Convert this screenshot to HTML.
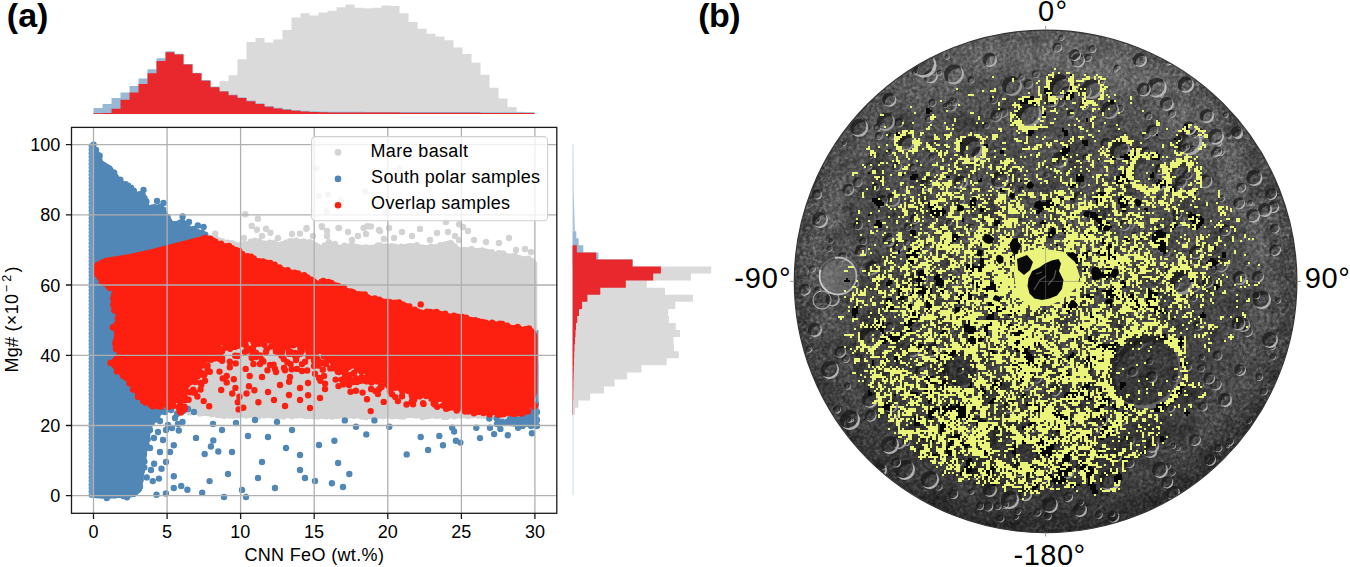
<!DOCTYPE html>
<html><head><meta charset="utf-8"><style>
html,body{margin:0;padding:0;background:#fff;width:1350px;height:567px;overflow:hidden}
svg{display:block}
text{font-family:"Liberation Sans",sans-serif}
</style></head><body>
<svg width="1350" height="567" viewBox="0 0 1350 567">
<rect width="1350" height="567" fill="#fff"/>
<path d="M219.5 114L219.5 81.1L228.5 81.1L228.5 75.2L237.5 75.2L237.5 59.3L246.5 59.3L246.5 41.9L255.5 41.9L255.5 38.1L264.5 38.1L264.5 42.4L273.5 42.4L273.5 39.6L282.5 39.6L282.5 30.1L291.5 30.1L291.5 17.4L300.5 17.4L300.5 13.3L309.5 13.3L309.5 15.6L318.5 15.6L318.5 12.4L327.5 12.4L327.5 10.7L336.5 10.7L336.5 7.3L345.5 7.3L345.5 4.4L354.5 4.4L354.5 7.8L363.5 7.8L363.5 8.3L372.5 8.3L372.5 7.8L381.5 7.8L381.5 5.4L390.5 5.4L390.5 6L399.5 6L399.5 13.3L408.5 13.3L408.5 22L417.5 22L417.5 28.8L426.5 28.8L426.5 33.7L435.5 33.7L435.5 36.6L444.5 36.6L444.5 40.2L453.5 40.2L453.5 47.6L462.5 47.6L462.5 54L471.5 54L471.5 62.8L480.5 62.8L480.5 74.7L489.5 74.7L489.5 87.8L498.5 87.8L498.5 98.4L507.5 98.4L507.5 106.9L516.5 106.9L516.5 111.7L525.5 111.7L525.5 113.2L534.5 113.2L534.5 114Z" fill="#dadada"/>
<path d="M93.5 114L93.5 108.1L102.5 108.1L102.5 103.9L111.5 103.9L111.5 98.1L120.5 98.1L120.5 92.6L129.5 92.6L129.5 86L138.5 86L138.5 78.4L147.5 78.4L147.5 69.3L156.5 69.3L156.5 58.3L165.5 58.3L165.5 51.3L174.5 51.3L174.5 53.7L183.5 53.7L183.5 64L192.5 64L192.5 72.7L201.5 72.7L201.5 80.1L210.5 80.1L210.5 86.6L219.5 86.6L219.5 90.9L228.5 90.9L228.5 94.5L237.5 94.5L237.5 97.3L246.5 97.3L246.5 100.5L255.5 100.5L255.5 103.3L264.5 103.3L264.5 106.1L273.5 106.1L273.5 107.7L282.5 107.7L282.5 109L291.5 109L291.5 110L300.5 110L300.5 110.7L309.5 110.7L309.5 111.2L318.5 111.2L318.5 111.5L327.5 111.5L327.5 111.7L336.5 111.7L336.5 111.8L345.5 111.8L345.5 111.8L354.5 111.8L354.5 111.8L363.5 111.8L363.5 111.9L372.5 111.9L372.5 111.9L381.5 111.9L381.5 111.9L390.5 111.9L390.5 111.9L399.5 111.9L399.5 112L408.5 112L408.5 112L417.5 112L417.5 112L426.5 112L426.5 112L435.5 112L435.5 112L444.5 112L444.5 112.1L453.5 112.1L453.5 112.1L462.5 112.1L462.5 112.1L471.5 112.1L471.5 112.1L480.5 112.1L480.5 112.2L489.5 112.2L489.5 112.2L498.5 112.2L498.5 112.2L507.5 112.2L507.5 112.2L516.5 112.2L516.5 112.3L525.5 112.3L525.5 112.3L534.5 112.3L534.5 114Z" fill="#97b9d6"/>
<path d="M93.5 114L93.5 113.3L102.5 113.3L102.5 112.9L111.5 112.9L111.5 108.8L120.5 108.8L120.5 99.7L129.5 99.7L129.5 92.6L138.5 92.6L138.5 84.1L147.5 84.1L147.5 73.3L156.5 73.3L156.5 60.9L165.5 60.9L165.5 52.3L174.5 52.3L174.5 54.5L183.5 54.5L183.5 64.4L192.5 64.4L192.5 73.2L201.5 73.2L201.5 80.8L210.5 80.8L210.5 87.3L219.5 87.3L219.5 91.6L228.5 91.6L228.5 95.2L237.5 95.2L237.5 98L246.5 98L246.5 101.2L255.5 101.2L255.5 104L264.5 104L264.5 106.8L273.5 106.8L273.5 108.4L282.5 108.4L282.5 109.7L291.5 109.7L291.5 110.7L300.5 110.7L300.5 111.4L309.5 111.4L309.5 111.9L318.5 111.9L318.5 112.2L327.5 112.2L327.5 112.4L336.5 112.4L336.5 112.5L345.5 112.5L345.5 112.5L354.5 112.5L354.5 112.5L363.5 112.5L363.5 112.6L372.5 112.6L372.5 112.6L381.5 112.6L381.5 112.6L390.5 112.6L390.5 112.6L399.5 112.6L399.5 112.7L408.5 112.7L408.5 112.7L417.5 112.7L417.5 112.7L426.5 112.7L426.5 112.7L435.5 112.7L435.5 112.8L444.5 112.8L444.5 112.8L453.5 112.8L453.5 112.8L462.5 112.8L462.5 112.8L471.5 112.8L471.5 112.8L480.5 112.8L480.5 112.9L489.5 112.9L489.5 112.9L498.5 112.9L498.5 112.9L507.5 112.9L507.5 112.9L516.5 112.9L516.5 113L525.5 113L525.5 113L534.5 113L534.5 114Z" fill="#e8282c"/>
<path d="M572.6 266.5L711.2 266.5L711.2 273.6L690.9 273.6L690.9 280.6L646.8 280.6L646.8 287.7L665 287.7L665 294.7L692.9 294.7L692.9 301.8L675.3 301.8L675.3 308.9L668.2 308.9L668.2 315.9L668.9 315.9L668.9 323L675.8 323L675.8 330L680 330L680 337.1L673.5 337.1L673.5 344.2L674 344.2L674 351.2L678.8 351.2L678.8 358.3L666.6 358.3L666.6 365.3L641.4 365.3L641.4 372.4L627 372.4L627 379.5L614.6 379.5L614.6 386.5L604 386.5L604 393.6L590.2 393.6L590.2 400.6L578.3 400.6L578.3 407.7L574.9 407.7L574.9 414.8L572.6 414.8Z" fill="#dadada"/>
<path d="M572.6 144.2L573.3 144.2L573.6 190L574.4 215L575 231.2L572.6 231.2Z" fill="#a9c6df"/>
<rect x="572.6" y="231.2" width="0.9" height="264" fill="#c9dbea"/>
<path d="M572.6 231.2L576.3 231.2L576.3 238.3L578.6 238.3L578.6 245.3L583.3 245.3L583.3 252.4L598.5 252.4L598.5 259.4L633 259.4L633 266.5L572.6 266.5Z" fill="#97b9d6"/>
<path d="M572.6 231.2L572.6 231.2L572.6 238.3L572.6 238.3L572.6 245.3L576.8 245.3L576.8 252.4L596.2 252.4L596.2 259.4L632.4 259.4L632.4 266.5L660.9 266.5L660.9 273.6L653.2 273.6L653.2 280.6L625.8 280.6L625.8 287.7L600.3 287.7L600.3 294.7L587.4 294.7L587.4 301.8L582.1 301.8L582.1 308.9L579 308.9L579 315.9L577.2 315.9L577.2 323L576 323L576 330L575.5 330L575.5 337.1L575 337.1L575 344.2L574.5 344.2L574.5 351.2L574.2 351.2L574.2 358.3L574 358.3L574 365.3L573.8 365.3L573.8 372.4L573.6 372.4L573.6 379.5L573.4 379.5L573.4 386.5L573.3 386.5L573.3 393.6L573.2 393.6L573.2 400.6L573 400.6L573 407.7L573 407.7L573 414.8L572.6 414.8Z" fill="#e8282c"/>
<path d="M170 246L200 240L215 236L234.6 243.3L248.2 241.4L254 237.5L263.7 240.4L281.1 242.4L288.9 238.5L298.6 239.4L310.2 239.4L321.9 245.3L329.6 240.4L340 245L352 243L365 245.5L380 244L395 245L410 243.5L425 245L440 244.4L451.5 242.1L462.9 249L474.4 247.8L485.9 250.1L501.9 252.4L518 254.7L527.2 257L534 258.2L537.3 263L537.3 300L537.3 350L537.3 414L530 418L500 418.5L470 418L440 418.5L410 418L380 418.5L350 418L320 418.5L290 418L260 418L230 417.5L205 416L190 414L175 412L165 408L160 380L150 330L140 290L150 262Z" fill="#d3d3d3"/>
<path d="M171 247h0M175.4 245.9h0M179.1 246h0M181.8 245.9h0M185.5 244.9h0M189.1 243.2h0M194.1 244.4h0M196.8 242h0M202.3 243h0M205.5 240.5h0M209.9 238.2h0M213.6 238h0M215 237.1h0M218.5 240.7h0M222.4 241.4h0M227.6 242.6h0M231.7 243.2h0M234.9 244.6h0M241.3 244.4h0M244.9 244.3h0M250.7 241.7h0M255.5 240.9h0M258.9 241.5h0M264.7 243.9h0M269.8 242.7h0M274.8 242.7h0M277.5 245h0M282.4 244.2h0M286.3 242.8h0M290.9 241.1h0M296.1 240.8h0M300.2 241.9h0M303.8 241.5h0M308.3 242.9h0M310.1 242.4h0M313 243.9h0M317.9 247.4h0M324.6 245.4h0M328.1 244.6h0M328.8 242.3h0M334.9 243.9h0M340.6 247.9h0M344.5 245.7h0M349.5 246.8h0M351.8 245.1h0M357.1 247.4h0M362.2 248.3h0M366 247.4h0M371.4 248.2h0M378 245.4h0M380.4 245.4h0M385.6 246.5h0M391.7 246.3h0M395.2 246.9h0M401.3 246.8h0M408.1 246.5h0M411.3 246.2h0M416.9 245.1h0M422.4 247.8h0M427.7 248h0M431.3 246.6h0M435.4 247.2h0M440.3 245.3h0M444.5 244.7h0M448.6 243.6h0M450.9 243.1h0M454.6 246.1h0M457.4 249.6h0M464.4 250h0M467.5 250.3h0M471.5 249.2h0M475.6 251.8h0M478.9 250.9h0M482.1 250.4h0M486.5 251.7h0M491.7 252.1h0M493.4 254.8h0M499 253.1h0M503.1 253.4h0M506.7 256.8h0M511.6 256.6h0M514.4 256h0M517.7 257.7h0M523.3 259.2h0M528.3 258.6h0M532.6 262.6h0M316.4 168.4h0M399.6 168.9h0M318.9 195.9h0M327.9 194.4h0M365.5 191.5h0M326.6 211.3h0M385.7 212.7h0M340.5 200.1h0M306.7 228h0M321.8 226.2h0M338.5 228h0M363.6 228h0M367.4 226.2h0M379 230h0M459 224.2h0M245.3 214.2h0M257.9 218.7h0M251.7 225.9h0M256.9 229.8h0M266 228.8h0M270.5 232.7h0M300 233.6h0M306.3 228.8h0M321.9 226.8h0M215.2 233.6h0M244 238h0M262 236h0M278 238h0M292 234h0M322 227h0M339 228h0M348 232h0M358 236h0M352 240h0M366 234h0M371 226.5h0M380 231h0M389 228h0M394 238h0M402 232h0M412 236h0M420 229h0M430 240h0M437 233h0M448 232h0M455 236h0M468 231h0M474 240h0M486 242h0M499 243h0M509 238h0M516 250h0M525 249h0M531 252h0M327 236h0M384 239h0M459 240h0M463 227h0M446 222h0M327 231h0M313 236h0" stroke="#d3d3d3" stroke-width="6.4" stroke-linecap="round" fill="none"/>
<path d="M534.1 412.6h0M530.6 414.6h0M529.4 415.8h0M524.8 416.8h0M521.3 416.4h0M516.4 415.6h0M510.4 416.2h0M506.1 415.2h0M501.8 416.5h0M499.5 416.8h0M495.2 416.8h0M489.9 415.3h0M485 416.1h0M481.2 415.4h0M478.4 415.6h0M472 415.3h0M468 415.9h0M465.2 415.3h0M460.5 415.4h0M454.6 416.3h0M451.8 415.2h0M446.7 416.8h0M443.9 416.9h0M437.7 415.6h0M435.4 415.6h0M428.9 415.8h0M426.3 416h0M422.5 417h0M416.1 415.6h0M413 415h0M408.8 415.1h0M403.6 416.5h0M400.8 416.4h0M396.5 415.9h0M392.2 416.3h0M388.2 415.3h0M383.3 416.3h0M378.6 415.5h0M374.7 415.4h0M370.2 416.1h0M365.8 417h0M361.8 416.6h0M358.6 415.3h0M353.9 415.9h0M348.1 415.7h0M344.8 415.8h0M340 415.4h0M336.8 415.9h0M332.2 416.5h0M326.5 416.2h0M322.8 415.7h0M317.7 416.4h0M314.2 416.2h0M310.2 415.8h0M306 416h0M301.7 415.1h0M296.8 415.2h0M291.9 416.3h0M288.6 414.9h0M283.6 416.5h0M281.1 415.9h0M277 416.3h0M272.7 415.5h0M266.6 415h0M263.9 415.4h0M258.3 416.5h0M253.5 414.8h0M250.9 414.7h0M246.2 415.6h0M240.4 414.8h0M238.2 415.6h0M233 415.7h0M229.6 415.6h0M224.1 415.9h0M220.4 414.8h0M217.6 414.9h0M211.9 414.2h0M209.2 413.1h0M203.1 412.6h0M199.9 413.6h0M195.2 411.9h0M189.4 412.4h0M184.1 410.2h0M177.8 410.6h0M175.7 409h0M169.3 406.9h0" stroke="#d3d3d3" stroke-width="6.4" stroke-linecap="round" fill="none"/>
<path d="M90.6 147L92 145L93.6 144.6L96.5 149L101.2 153.7L102.9 161.1L111.7 166.4L114.9 170.6L120.2 178L125.5 182.2L131.9 186.5L137.1 191.8L143.5 193.9L146.7 200.2L149.8 205.5L157.2 204.5L163.6 206.6L168.9 215L173.1 221.4L182.6 219.7L189 225.6L197.8 229.3L203.6 230.3L208.4 236.1L211 242.5L200 300L175 380L168 404L161.5 414.4L151.6 426.8L147.9 439.1L146.7 456.4L144.2 473.7L141.7 491L135 497L120 498L100 498.5L93 498L90.8 494Z" fill="#5087b6"/>
<path d="M93.6 144.6h0M96 150h0M99.6 155.7h0M98.8 158.3h0M103 164.7h0M105.9 166.6h0M109.3 168.5h0M114.2 172.6h0M115.7 177.5h0M120.3 179.6h0M125.7 184.1h0M128.2 185.6h0M131 187.6h0M133.8 190.8h0M139.5 194.3h0M142.8 195.5h0M144.6 198.1h0M146.4 201.5h0M151.7 207.6h0M154.2 207.1h0M160.4 206.8h0M163.2 209.7h0M164.4 213.7h0M167.5 217h0M169 221.4h0M174.6 224.2h0M180.3 222.7h0M182.2 221.7h0M185.1 223.7h0M188.1 228.3h0M193.6 229h0M197.6 232.4h0M202.8 233.5h0M205.2 234.7h0M206.9 238h0M166.1 403.3h0M162.1 405.9h0M160.4 411.7h0M158 412.3h0M157.3 417.1h0M155.2 419.5h0M151.6 423.2h0M149.3 426.7h0M149.2 430.6h0M147.3 434.7h0M147.6 439.2h0M146.4 444.1h0M144.9 449.1h0M144 453.8h0M142.8 457.7h0M144.4 461.5h0M144.3 467.5h0M141.8 470.9h0M140.7 473.3h0M140.6 480h0M139.3 483.8h0M140 486.7h0M138.3 489.3h0M134.4 492.8h0M133.4 493.3h0M129.5 494.4h0M127 497.2h0M123.3 496.1h0M119.7 494.5h0M114.6 495.4h0M110.4 495.3h0M106.8 498.1h0M102 495.3h0M143.5 190h0M157 201h0M163.5 203h0M182.6 216.5h0M189 222h0M197.8 225.5h0M203.6 227h0M173.8 445.3h0M182.5 421.9h0M178.8 430.5h0M196 437.9h0M173.8 476.2h0M181.2 486h0M187.4 489.8h0M173.8 488h0M209.6 481.1h0M202.2 492.7h0M204.7 454h0M213.3 440.4h0M210.9 446.5h0M218.3 451.5h0M165.9 493.5h0M156.5 494.7h0M161.5 468.8h0M154.1 463.8h0M159 478.6h0M146.7 477.4h0M152.8 481.1h0M158 432h0M163 440h0M168 425h0M170 452h0M175 418h0M160 452h0M166 462h0M151 470h0M150 448h0M156 418h0M165 412h0M171 410h0M177 414h0M183 411h0M160 421h0M166 430h0M172 428h0M150 430h0M154 438h0M146 425h0M178 424h0M188 409h0M194 412h0M344.8 420.4h0M356 426.7h0M334.4 440.7h0M366.3 434.4h0M374.4 420.4h0M389.3 426.7h0M338.1 463h0M349.3 474h0M331.9 483.3h0M343 487h0M406.7 454.4h0M420.7 437h0M428.1 450h0M439.3 435.9h0M443 445.2h0M452.2 427.8h0M454.1 431.5h0M455.9 440.7h0M460.4 442.6h0M476.3 427.8h0M480 438.1h0M490 427.8h0M494.1 434.1h0M500.4 428.9h0M507.8 435.2h0M518.1 427.8h0M531.9 433.3h0M531.1 425.9h0M489.3 418.5h0M496.7 418.5h0M511.5 422.2h0M522.6 425.9h0M236 423h0M232 452h0M248 436h0M228 474h0M262 462h0M258 478h0M275 488h0M224 497h0M268 437h0M292 430h0M286 448h0M300 470h0M305 478h0M300 455h0M315 481h0M319 445h0M277 422h0M255 420h0M213 424h0M222 430h0M242 490h0M246 497h0M537 420h0M537 412h0M536 404h0M533 410h0M530 416h0M526 420h0M522 421h0M516 420h0M512 421h0M507 422h0M529 422h0M534 424h0M537 426h0M520 425h0M525 424h0M510 419h0M515 418h0M502 422h0M497 424h0" stroke="#5087b6" stroke-width="6.4" stroke-linecap="round" fill="none"/>
<path d="M503 422L518 417L530 411L536 400L538.3 360L538.3 426L520 427.5L504 425Z" fill="#5087b6"/><path d="M537.6 330V426" stroke="#6d9ac2" stroke-width="1.6"/>
<path d="M91.2 146h0M91.2 149.6h0M91.2 153.2h0M91.2 156.8h0M91.2 160.4h0M91.2 164h0M91.2 167.6h0M91.2 171.2h0M91.2 174.8h0M91.2 178.4h0M91.2 182h0M91.2 185.6h0M91.2 189.2h0M91.2 192.8h0M91.2 196.4h0M91.2 200h0M91.2 203.6h0M91.2 207.2h0M91.2 210.8h0M91.2 214.4h0M91.2 218h0M91.2 221.6h0M91.2 225.2h0M91.2 228.8h0M91.2 232.4h0M91.2 236h0M91.2 239.6h0M91.2 243.2h0M91.2 246.8h0M91.2 250.4h0M91.2 254h0M91.2 257.6h0M91.2 261.2h0M91.2 264.8h0M91.2 268.4h0M91.2 272h0M91.2 275.6h0M91.2 279.2h0M91.2 282.8h0M91.2 286.4h0M91.2 290h0M91.2 293.6h0M91.2 297.2h0M91.2 300.8h0M91.2 304.4h0M91.2 308h0M91.2 311.6h0M91.2 315.2h0M91.2 318.8h0M91.2 322.4h0M91.2 326h0M91.2 329.6h0M91.2 333.2h0M91.2 336.8h0M91.2 340.4h0M91.2 344h0M91.2 347.6h0M91.2 351.2h0M91.2 354.8h0M91.2 358.4h0M91.2 362h0M91.2 365.6h0M91.2 369.2h0M91.2 372.8h0M91.2 376.4h0M91.2 380h0M91.2 383.6h0M91.2 387.2h0M91.2 390.8h0M91.2 394.4h0M91.2 398h0M91.2 401.6h0M91.2 405.2h0M91.2 408.8h0M91.2 412.4h0M91.2 416h0M91.2 419.6h0M91.2 423.2h0M91.2 426.8h0M91.2 430.4h0M91.2 434h0M91.2 437.6h0M91.2 441.2h0M91.2 444.8h0M91.2 448.4h0M91.2 452h0M91.2 455.6h0M91.2 459.2h0M91.2 462.8h0M91.2 466.4h0M91.2 470h0M91.2 473.6h0M91.2 477.2h0M91.2 480.8h0M91.2 484.4h0M91.2 488h0M91.2 491.6h0M91.2 495.2h0" stroke="#6d9ac2" stroke-width="5.4" stroke-linecap="round" fill="none"/>
<path d="M93.6 265L95.5 262.5L104.7 258L129.4 254L150 249.5L204.3 235.5L209.4 237.1L219.1 241.9L228.8 243.9L238.5 248.7L242.4 252.6L257.9 258.4L273.4 262.7L287 268.5L298.6 271.4L314.1 278.2L320 281.7L323.9 279L339.4 283.7L349.1 289.5L364.6 293.4L378.2 298.2L389.8 299.2L405.3 303.1L417 309.9L436.3 310.8L440 310.9L457.2 315.5L469.8 316.7L485.9 321.2L501.9 322.4L515.7 325.8L531.7 328.1L536.3 331.6L537.3 336L537.3 370L537 393L535 400L531 406L526 412L516 415.5L502 416L486 414L470 409L452 402L437 395L415 390L393 384L378 376L352 368L335 360L322 352L306.7 348L288 344L266 341L251 339L228 342L213 350L203 362L195 376L184 391L172 401L165 405L158 409L150 406L140 400L129.4 384.8L114.6 370L108.4 363.5L117 353.6L112.1 343.7L115.8 333.8L110.9 326.4L117 319L110.9 304.2L113.3 291.9L104.7 285.7L97.3 279.5L93.6 272.1Z" fill="#fd1f10"/>
<path d="M205.2 238h0M210.3 238.6h0M213.4 240.7h0M215.4 241.7h0M221 243.6h0M225.5 246.4h0M229 245.9h0M231.9 248.1h0M235.7 249.9h0M239.3 250.9h0M242.2 254h0M247.5 256.1h0M251.2 256.8h0M253.7 258.4h0M258.8 261.2h0M262.9 261.4h0M266.3 262.7h0M270.3 263h0M274.7 264.7h0M277.6 267.8h0M279.5 267.4h0M284 270.6h0M287.7 270.2h0M290.6 272.6h0M294.7 272.7h0M298.1 273.4h0M304.2 275.1h0M307.4 277.5h0M311.3 279.7h0M313.4 281.2h0M321.6 281.6h0M323.3 280.9h0M328.4 282h0M331.5 283h0M335.4 285.4h0M338.1 285.9h0M343.7 287.5h0M346.4 290.8h0M350.8 291.5h0M353.4 292.4h0M358.6 294.2h0M361.1 294.4h0M364.9 294.5h0M367.3 297.3h0M371 298.9h0M374.8 298.5h0M379.3 299.6h0M382.7 301.7h0M387.7 301.8h0M390.5 302.5h0M395.3 302.8h0M399 302.5h0M402.7 304.4h0M405.9 306.2h0M409.4 306.5h0M414.7 309.8h0M418 311.6h0M421.4 312.7h0M426.9 311.8h0M430 312h0M433.6 312.4h0M436.6 312h0M439.8 313.9h0M445.2 313.7h0M450.1 316.9h0M453.8 315.8h0M457.6 316.6h0M462.2 317h0M466.1 317.8h0M470.4 319.9h0M475.2 320.1h0M478.3 321.2h0M482.4 321.9h0M485.9 322.7h0M492.1 322.8h0M494.9 324.2h0M499.9 323.6h0M502.3 323.9h0M507.2 325.6h0M513.1 328.1h0M517.7 326.9h0M519.4 328.9h0M525.6 329.2h0M529 328.5h0M530.9 331.3h0M526.7 404.9h0M526.3 410.1h0M525.6 411.6h0M520.6 410.6h0M516.4 411.9h0M514.5 412h0M511.5 413.2h0M508.8 412.1h0M504.9 411.6h0M500.6 414.6h0M497.8 414.5h0M492.9 411.6h0M489.7 414.4h0M485.8 411.2h0M482.3 412h0M478.4 411.9h0M476.4 408.9h0M472.2 406.6h0M468.8 406.3h0M466.2 406.5h0M461.9 402.4h0M458.5 404.7h0M455.6 400.1h0M451.7 400.8h0M449.6 396.1h0M445.5 399.1h0M443.2 395.9h0M439.1 395.2h0M436 391.3h0M432.4 393.2h0M427.8 391.6h0M424.4 391.3h0M422.6 388.1h0M419 386.3h0M414.1 389.1h0M411.3 387.1h0M407.4 383.3h0M404.1 385.3h0M401.1 381.5h0M396.3 385h0M393.7 382.5h0M390.3 377.9h0M387.9 376h0M383 377.1h0M382.7 373.6h0M376.5 375.7h0M373.9 373.1h0M371.2 372.5h0M367.8 373.2h0M364.9 370.4h0M360 370.1h0M356.8 368.7h0M355.7 365.1h0M351.1 365.5h0M349.4 364.5h0M346.3 360.6h0M342.1 361.6h0M336.5 360.9h0M336.2 356.3h0M330.2 357.2h0M328.4 355.9h0M324 352.1h0M321.3 347.5h0M317.7 349.8h0M312.9 346.7h0M310.8 345.7h0M306.2 346.8h0M303.7 343.8h0M297.8 343.2h0M293.3 345.3h0M291.6 342.7h0M286.5 339.3h0M283.6 342.4h0M280 340.7h0M275 341.6h0M272 338.4h0M268.3 337.7h0M264.8 339.5h0M261.7 338.9h0M256.8 339.7h0M254.8 336h0M250.5 339h0M247.3 337h0M243.2 335.4h0M238.8 335.9h0M237.3 340.7h0M234.1 339h0M229.6 339.8h0M226.7 340.7h0M222.4 341.5h0M218.8 342.4h0M217.7 347.2h0M213.9 348.2h0M210.9 350h0M208.9 353.9h0M206.9 355.9h0M202.1 356.6h0M201.1 362.6h0M196.5 364h0M197.6 369.6h0M193.5 372.7h0M193.5 377.7h0M189.1 377.6h0M186 381h0M187.4 384.4h0M185.5 387.8h0M180.6 390.4h0M178.3 393.7h0M175.2 395.8h0M172.2 396.1h0M169.9 401.9h0M165.9 401.3h0M163.8 403.9h0M160.8 406.5h0M158.3 406.2h0M152.7 406.2h0M150.7 404.8h0M145.6 402.6h0M143.1 401h0M141 397.2h0M138 396.7h0M137.3 391.8h0M133 389.6h0M133.9 385.7h0M129.6 383.4h0M129.6 378.7h0M125.8 377.6h0M122.7 375.6h0M121.6 370.3h0M117 371.4h0M110.6 362.9h0M113.8 362.4h0M117.2 358.1h0M119.6 351.3h0M116 348.9h0M115.8 345.9h0M115.8 343.6h0M115.8 341.1h0M116.9 337.1h0M116.9 332.6h0M115.5 327h0M112.8 327.5h0M118.2 323.2h0M117.8 318.2h0M118 311.8h0M114.3 310.2h0M113.3 305.1h0M113.8 302.5h0M113.3 298.3h0M114.2 294.3h0M114.5 288.8h0M109.7 287.8h0M108.3 286h0M104.7 283.3h0M101.7 281.3h0M99.5 276.4h0M97.5 274.6h0M197.3 371h0M193.3 376.8h0M203.7 375.2h0M207.6 369.7h0M201.3 384.8h0M200.5 389.5h0M203.7 401.1h0M209.2 406.2h0M184.6 390.3h0M188.6 399.8h0M184.6 407h0M194.9 392.7h0M219.5 371.6h0M222.7 378.4h0M226.7 376h0M226.7 382.4h0M233.8 379.2h0M235.4 387.9h0M232.2 393.5h0M239.4 396.7h0M237.8 402.2h0M238.6 409.4h0M243.3 407.8h0M245.7 368.9h0M249.7 376h0M248.9 386.3h0M254.4 390.3h0M246.5 393.5h0M258.4 402.2h0M229.8 367.3h0M335.6 379.6h0M343 384.4h0M350 380h0M357 382h0M355.9 390.7h0M362.6 392.6h0M367 399.3h0M370.7 411.1h0M383.7 401.9h0M379.3 388.9h0M394.8 387.8h0M402 386h0M415.2 393.7h0M420.7 304.4h0M443 405.6h0M452.2 407.4h0M337 367h0M348 366h0M339 372h0M333 361h0M262 360h0M270 365h0M276 372h0M284 368h0M290 377h0M296 360h0M302 371h0M308 383h0M314 366h0M319 378h0M325 389h0M326 364h0M280 385h0M268 392h0M274 400h0M289 395h0M300 400h0M310 408h0M262 377h0M256 357h0M315 355h0M282 352h0M295 353h0M245 352h0M238 356h0M222 358h0M212 356h0M200 360h0M190 368h0M180 380h0M176 394h0M170 402h0M300 388h0M285 406h0M320 398h0M360.1 380.9h0M427.2 394.3h0M515.8 413.5h0M521.1 413h0M453 403.9h0M520.3 413.4h0M300.4 348.8h0M436.3 395.1h0M175.6 400h0M240 338.5h0M409.9 391.2h0M402.2 387.7h0M363.9 370.5h0M434.8 400.8h0M444.6 398.2h0M302 364.1h0M289 351.8h0M445.8 401.4h0M333.4 367h0M353.6 382h0M245.7 345.2h0M358.5 369h0M476.2 409.1h0M365.5 370.7h0M460.2 405.4h0M237.2 342.1h0M170.7 399.7h0M180.3 394.2h0M257.5 355.8h0M260 338.8h0M282.3 347.7h0M223.8 348.6h0M447.7 408.2h0M230.1 348.8h0M444.1 399.8h0M260.2 355.5h0M307.2 370.5h0M206.3 357.1h0M267.4 370.3h0M316.8 361.1h0M180.9 399.6h0M190.1 392.3h0M263.4 361.5h0M246.4 351h0M346.2 382.1h0M450.6 400.3h0M235.7 363.4h0M262.4 343.2h0M213.8 356.4h0M393.4 384.3h0M453.9 404.5h0M207.6 365.8h0M528.1 411.2h0M465.3 411.6h0M208.3 359.2h0M220.8 356.9h0M266.7 349.5h0M343.2 362h0M405 389.4h0M200.6 382.9h0M337.8 371.7h0M194.1 392.7h0M308.2 350.9h0M204.4 365.4h0M395.3 397.1h0M212.8 355.3h0M430 391.6h0M173.6 405.7h0M413.1 404.2h0M218.6 348.1h0M432.4 393.4h0M308.8 347.9h0M314.8 350.9h0M332.6 362.1h0M282.6 346.8h0M434.2 393.1h0M463.9 405.1h0M246.5 350.6h0M209.8 371.7h0M245.2 342.9h0M179.9 395.2h0M381.9 378.7h0M397.8 387.3h0M236.8 342.8h0M285.6 344.2h0M427.8 394.8h0M217 351.8h0M279.8 342.2h0M466.8 408.9h0M349.8 374.9h0M466.1 409.2h0M195.2 382h0M219.8 359.1h0M317.7 351h0M171.3 403.9h0M393.9 386.1h0M301.1 345.8h0M251.8 358h0M350.8 365.8h0M390.3 388.7h0M377.4 381.4h0M190 382.2h0M283.8 359.1h0M450.9 402.6h0M374.8 373.4h0M271.1 346.6h0M371.1 389h0M225.1 347.1h0M201.9 373.3h0M334.4 357.6h0M423.5 403.9h0M318.4 365.5h0M287.6 347.8h0M310.3 347.3h0M247.1 338.1h0M221.2 390h0M346.1 365.8h0M515.1 413.6h0M277.3 348.3h0M526.9 409.3h0M315 373.7h0M182.3 407.8h0M377.3 378.5h0M520.7 413.2h0M380.8 380.3h0M322.8 369.8h0M255.8 352.7h0M381.1 386.4h0M180.2 404.8h0M456.7 410.5h0M288.8 342.8h0M366.7 381.4h0M232.2 346.3h0M451.9 400.1h0M291.7 369.2h0M287.7 347.2h0M411.7 395.1h0M402 396.3h0M408.5 391h0M459.7 403.8h0M450.7 402.9h0M368.6 373h0M234.2 340h0M344.4 378.8h0M280.8 344.9h0M202.1 365.2h0M405.9 385.7h0M531.8 404.2h0M249.7 349h0M285 370.2h0M292.7 353.5h0M371.5 382.4h0M431.5 398.7h0M503.8 414h0M377.9 394.1h0M450.3 402.2h0M322.6 362.9h0M337.2 368.6h0M342.8 366.7h0M350.5 391.7h0M306.1 346.8h0M205 380.7h0M386.4 382.1h0M274.5 346.7h0M412.5 390.8h0M273.6 364.7h0M339.5 365.4h0M320 362.4h0M290.4 343.1h0M385.8 383.1h0M367 377.3h0M193.2 389.6h0M254.3 344.8h0M348.7 367.1h0M420.6 389.7h0M449.7 407.2h0M320.4 380.8h0M435.2 402.2h0M327.7 360h0M275 369h0M252.9 347.9h0M499.9 413.9h0M273.8 341.3h0M467.2 408.9h0M229.8 361.7h0M308.5 356.2h0M394.2 386.6h0M428.8 391.8h0M457.4 409.1h0M446.1 408.8h0M195.9 372.6h0M419.9 396.2h0M375.5 378.1h0M375.4 391.1h0M474.6 410.5h0M293.5 343.7h0M525 410.8h0M243 344h0M250.5 337.4h0M459.5 405.8h0M466.2 406h0M236.8 341.3h0M382.8 378.8h0M298.3 344.2h0M281.5 355.8h0M348.1 364.9h0M314 360.6h0M198.4 371.2h0M402.4 391.6h0M359.1 368.6h0M301.7 350.9h0M454.3 401.6h0M439.6 398.8h0M246.1 339.5h0M222.1 360.8h0M525.2 410.9h0M428.3 391.3h0M422.9 392.9h0M406.5 404.5h0M238.7 338.8h0M324 356.5h0M197.6 376.4h0M349 385.1h0M201.9 373.1h0M361.8 377.3h0M260 364h0M450.6 403.2h0M348.1 366.5h0M244.5 338.5h0M457.5 403.8h0M438.8 395h0M421.6 391.1h0M179.4 393.5h0M184.4 393h0M454.2 404.2h0M336.9 364.9h0M179.8 396.4h0M425.5 390.4h0M275.8 349.9h0M467.4 410.5h0M338.5 386.1h0M290.3 351.8h0M315.7 355.8h0M456.6 408.2h0M412.2 396.4h0M325.1 383.6h0M289.1 381.7h0M439.9 398.7h0M515.2 413.6h0M474 413.2h0M411.7 401.8h0M426.2 396.1h0M305.1 361.7h0M217.4 350h0M238.6 342.7h0M203.4 360.5h0M405.9 389.6h0M373.7 380.3h0M433.4 395.3h0M238 345.7h0M184.6 409.2h0M308.1 395.3h0M465.9 407.6h0M473 409h0M450 407.6h0M253.4 364h0M244.4 344.1h0M359.2 368.9h0M370.3 378h0M297 368.9h0M194.1 391.9h0M422.5 391h0M324.7 352.3h0M401.2 389.1h0M521.6 413.5h0M341.4 367.3h0M185.2 397.6h0M290.6 364.1h0M235.2 355.8h0M365.6 381h0M371.6 375.1h0M388.9 385.8h0M468 407h0M378.9 377.3h0M266.3 339.7h0M237.2 343.2h0M446.9 403.3h0M217.4 345.9h0M265.6 339.9h0M266 352h0M198.5 371h0M426.1 392.9h0M324 375.9h0M179.5 411.1h0M463.8 410.1h0M264.4 344.8h0M288.5 344.4h0M418.7 396.3h0M477.1 411h0M310.9 349.9h0M434.7 404.6h0M288.6 344.3h0M401.5 385.4h0M513.7 413.9h0M180.9 412.5h0M439.4 396.7h0M534.8 405.8h0M321.7 351h0M534.7 405.8h0M211 359.8h0M184.8 400.2h0M413.1 390h0M193 380.2h0M392.5 386.4h0M361.4 371.6h0M269.8 340.5h0M354 372.9h0M341.6 379.6h0M300.8 351.9h0M523.9 412.2h0M181.4 396.8h0M340.3 368.2h0M344.9 373.7h0M531.1 404.5h0M464.5 410.7h0M253.2 351.6h0M474.1 412.3h0M358.1 369.4h0M245 342.1h0M168.2 407h0M387.9 385h0M414.7 391.2h0M392 394.3h0M397.9 401.1h0M253.5 342.2h0M251.7 356.2h0M445.1 404h0M414.1 399.7h0M416.8 388.9h0M533.8 406.4h0M451 404.8h0M473.1 411.5h0M389.9 390.9h0M326.7 353.6h0M215.3 358.2h0M467 411.3h0M345.9 369.2h0M387.6 381.4h0M416.4 390h0M259.2 338.3h0M317.6 359.1h0M252 350.4h0M423.4 390.3h0M199.5 367.2h0M278.5 352.4h0M389.1 386.6h0M426.9 395.4h0M522.3 411.4h0M374.2 375.7h0M342.9 369.7h0M466.9 407.5h0M318.1 360.6h0M433.7 403.4h0M222 351.2h0M259 343.7h0M417.7 395.2h0M423.1 403.2h0M178.9 407.8h0M381.6 387h0M204.5 374.5h0M405.7 388.9h0M437.2 406.7h0M470.6 410.1h0M197.4 396.5h0M390.1 391.6h0M388.6 380.5h0M395.4 386.2h0M300.4 353.8h0M330.3 368.4h0M169.1 406.8h0M397.5 386.7h0M241.4 342.8h0M226.3 346.8h0M414.2 392.4h0M401.9 385.8h0M275.9 351.4h0M294.9 355.4h0M275.2 344.8h0M430.6 393.9h0M355.8 378.1h0M230.4 343.4h0M310.7 355.8h0M296.9 356h0M234.7 346.9h0M468.6 411.5h0M289.2 353.9h0M466.4 408.7h0M366.4 370.5h0M488.6 413.1h0M287.3 362.3h0M333.8 368.2h0M483.4 413h0M447.6 399.9h0M465.6 407.2h0M399.2 387.7h0" stroke="#fd1f10" stroke-width="6.4" stroke-linecap="round" fill="none"/>
<path d="M93.5 127.4V513.3M167.1 127.4V513.3M240.6 127.4V513.3M314.2 127.4V513.3M387.8 127.4V513.3M461.4 127.4V513.3M534.9 127.4V513.3M71.5 495.7H556.8M71.5 425.5H556.8M71.5 355.3H556.8M71.5 285H556.8M71.5 214.8H556.8M71.5 144.6H556.8" stroke="#b0b0b0" stroke-width="1.3" fill="none"/>
<rect x="71.5" y="127.4" width="485.3" height="385.9" fill="none" stroke="#1a1a1a" stroke-width="1.3"/>
<path d="M93.5 513.3V518.9M167.1 513.3V518.9M240.6 513.3V518.9M314.2 513.3V518.9M387.8 513.3V518.9M461.4 513.3V518.9M534.9 513.3V518.9M71.5 495.7H65.9M71.5 425.5H65.9M71.5 355.3H65.9M71.5 285H65.9M71.5 214.8H65.9M71.5 144.6H65.9" stroke="#1a1a1a" stroke-width="1.3" fill="none"/>
<text x="88.4" y="537.6" font-size="18" fill="#000">0</text>
<text x="162.1" y="537.6" font-size="18" fill="#000">5</text>
<text x="230.3" y="537.6" font-size="18" fill="#000">10</text>
<text x="303.9" y="537.6" font-size="18" fill="#000">15</text>
<text x="377.7" y="537.6" font-size="18" fill="#000">20</text>
<text x="451.3" y="537.6" font-size="18" fill="#000">25</text>
<text x="524.9" y="537.6" font-size="18" fill="#000">30</text>
<text x="50.3" y="502.3" font-size="18" fill="#000">0</text>
<text x="40.3" y="432.1" font-size="18" fill="#000">20</text>
<text x="40.3" y="361.9" font-size="18" fill="#000">40</text>
<text x="40.3" y="291.6" font-size="18" fill="#000">60</text>
<text x="40.3" y="221.4" font-size="18" fill="#000">80</text>
<text x="30.3" y="151.2" font-size="18" fill="#000">100</text>
<text x="244.4" y="561.1" font-size="18" textLength="139.5" lengthAdjust="spacing" fill="#000" >CNN FeO (wt.%)</text>

<defs>
<clipPath id="mc"><circle cx="1045.6" cy="281.4" r="251.3"/></clipPath>
<filter id="tx" x="0" y="0" width="100%" height="100%"><feTurbulence type="fractalNoise" baseFrequency="0.3" numOctaves="2" seed="4"/><feColorMatrix type="matrix" values="0 0 0 0 1  0 0 0 0 1  0 0 0 0 1  1.5 0 0 0 -0.6"/></filter>
<filter id="tx2" x="0" y="0" width="100%" height="100%"><feTurbulence type="fractalNoise" baseFrequency="0.28" numOctaves="2" seed="9"/><feColorMatrix type="matrix" values="0 0 0 0 0  0 0 0 0 0  0 0 0 0 0  1.5 0 0 0 -0.6"/></filter>
<radialGradient id="mg" cx="1045.6" cy="281.4" r="251.3" gradientUnits="userSpaceOnUse"><stop offset="0" stop-color="#686868"/><stop offset="0.88" stop-color="#646464"/><stop offset="1" stop-color="#454545"/></radialGradient>
<linearGradient id="mv" x1="0" y1="30" x2="0" y2="533" gradientUnits="userSpaceOnUse"><stop offset="0" stop-color="#fff" stop-opacity="0.12"/><stop offset="0.42" stop-color="#000" stop-opacity="0"/><stop offset="1" stop-color="#000" stop-opacity="0.4"/></linearGradient>
<filter id="bl" x="-10%" y="-10%" width="120%" height="120%"><feGaussianBlur stdDeviation="12"/></filter>
<filter id="tx3" x="0" y="0" width="100%" height="100%"><feTurbulence type="fractalNoise" baseFrequency="0.045" numOctaves="3" seed="12"/><feColorMatrix type="matrix" values="0 0 0 0 0  0 0 0 0 0  0 0 0 0 0  2.2 0 0 0 -0.95"/></filter>
</defs>
<g clip-path="url(#mc)">
<circle cx="1045.6" cy="281.4" r="251.3" fill="url(#mg)"/>
<rect x="794" y="30" width="504" height="504" filter="url(#tx)" opacity="0.5"/>
<rect x="794" y="30" width="504" height="504" filter="url(#tx2)" opacity="0.6"/>
<rect x="794" y="30" width="504" height="504" filter="url(#tx3)" opacity="0.35"/>
<rect x="794" y="30" width="504" height="504" fill="url(#mv)"/>
<path fill="#181818" opacity="0.7" d="M854.9 135.7A9 9 0 1 1 867.1 123.5A9 9 0 0 0 854.9 135.7ZM881.6 129.8A9 9 0 1 1 893.8 117.6A9 9 0 0 0 881.6 129.8ZM902.8 149.6A8 8 0 1 1 913.6 138.8A8 8 0 0 0 902.8 149.6ZM949.2 83.2A10 10 0 1 1 962.8 69.6A10 10 0 0 0 949.2 83.2ZM918.7 76.1A12 12 0 1 1 934.9 59.9A12 12 0 0 0 918.7 76.1ZM948.1 110.9A6 6 0 1 1 956.3 102.7A6 6 0 0 0 948.1 110.9ZM1022.5 125.8A13 13 0 1 1 1040.1 108.2A13 13 0 0 0 1022.5 125.8ZM1054.1 96.8A12 12 0 1 1 1070.3 80.6A12 12 0 0 0 1054.1 96.8ZM965.3 159A12 12 0 1 1 981.5 142.8A12 12 0 0 0 965.3 159ZM1087.2 97.8A10 10 0 1 1 1100.8 84.2A10 10 0 0 0 1087.2 97.8ZM1007.2 94.8A10 10 0 1 1 1020.8 81.2A10 10 0 0 0 1007.2 94.8ZM986.7 66.1A7 7 0 1 1 996.1 56.7A7 7 0 0 0 986.7 66.1ZM1072.1 60.3A6 6 0 1 1 1080.3 52.1A6 6 0 0 0 1072.1 60.3ZM1105.7 117.9A9 9 0 1 1 1117.9 105.7A9 9 0 0 0 1105.7 117.9ZM1115.2 158.8A10 10 0 1 1 1128.8 145.2A10 10 0 0 0 1115.2 158.8ZM995.7 187.9A9 9 0 1 1 1007.9 175.7A9 9 0 0 0 995.7 187.9ZM1056.2 167A8 8 0 1 1 1067 156.2A8 8 0 0 0 1056.2 167ZM1151.9 96.6A10 10 0 1 1 1165.5 83A10 10 0 0 0 1151.9 96.6ZM1182.2 91.8A8 8 0 1 1 1193 81A8 8 0 0 0 1182.2 91.8ZM1212.2 143.7A8 8 0 1 1 1223 132.9A8 8 0 0 0 1212.2 143.7ZM1203.7 122.1A7 7 0 1 1 1213.1 112.7A7 7 0 0 0 1203.7 122.1ZM1250.6 185A8 8 0 1 1 1261.4 174.2A8 8 0 0 0 1250.6 185ZM1233.8 137.3A6 6 0 1 1 1242 129.1A6 6 0 0 0 1233.8 137.3ZM1182.8 154A13 13 0 1 1 1200.4 136.4A13 13 0 0 0 1182.8 154ZM1136.7 66.1A7 7 0 1 1 1146.1 56.7A7 7 0 0 0 1136.7 66.1ZM1167.6 64.4A5 5 0 1 1 1174.4 57.6A5 5 0 0 0 1167.6 64.4ZM1227.6 104.4A5 5 0 1 1 1234.4 97.6A5 5 0 0 0 1227.6 104.4ZM1261.7 216.1A7 7 0 1 1 1271.1 206.7A7 7 0 0 0 1261.7 216.1ZM1272.1 255.3A6 6 0 1 1 1280.3 247.1A6 6 0 0 0 1272.1 255.3ZM1257.7 307.9A9 9 0 1 1 1269.9 295.7A9 9 0 0 0 1257.7 307.9ZM1266.2 347A8 8 0 1 1 1277 336.2A8 8 0 0 0 1266.2 347ZM1237.1 375.3A6 6 0 1 1 1245.3 367.1A6 6 0 0 0 1237.1 375.3ZM1221.7 406.1A7 7 0 1 1 1231.1 396.7A7 7 0 0 0 1221.7 406.1ZM865.3 347.5A12 12 0 1 1 881.5 331.3A12 12 0 0 0 865.3 347.5ZM816.2 227A8 8 0 1 1 827 216.2A8 8 0 0 0 816.2 227ZM811.7 336.1A7 7 0 1 1 821.1 326.7A7 7 0 0 0 811.7 336.1ZM825.7 377.9A9 9 0 1 1 837.9 365.7A9 9 0 0 0 825.7 377.9ZM845.2 428.8A10 10 0 1 1 858.8 415.2A10 10 0 0 0 845.2 428.8ZM866.2 407A8 8 0 1 1 877 396.2A8 8 0 0 0 866.2 407ZM885.7 452.9A9 9 0 1 1 897.9 440.7A9 9 0 0 0 885.7 452.9ZM900.2 478.8A10 10 0 1 1 913.8 465.2A10 10 0 0 0 900.2 478.8ZM925.7 487.9A9 9 0 1 1 937.9 475.7A9 9 0 0 0 925.7 487.9ZM876.7 476.1A7 7 0 1 1 886.1 466.7A7 7 0 0 0 876.7 476.1ZM1176.2 292.9A12 12 0 1 1 1192.4 276.7A12 12 0 0 0 1176.2 292.9ZM1046.2 512A8 8 0 1 1 1057 501.2A8 8 0 0 0 1046.2 512ZM1005.7 507.9A9 9 0 1 1 1017.9 495.7A9 9 0 0 0 1005.7 507.9ZM986.7 496.1A7 7 0 1 1 996.1 486.7A7 7 0 0 0 986.7 496.1ZM1076.7 516.1A7 7 0 1 1 1086.1 506.7A7 7 0 0 0 1076.7 516.1ZM1104.7 489.7A11 11 0 1 1 1119.7 474.7A11 11 0 0 0 1104.7 489.7ZM1016.7 476.1A7 7 0 1 1 1026.1 466.7A7 7 0 0 0 1016.7 476.1ZM1156.2 477A8 8 0 1 1 1167 466.2A8 8 0 0 0 1156.2 477ZM1192.1 445.3A6 6 0 1 1 1200.3 437.1A6 6 0 0 0 1192.1 445.3ZM1207.1 465.3A6 6 0 1 1 1215.3 457.1A6 6 0 0 0 1207.1 465.3ZM1096.2 427A8 8 0 1 1 1107 416.2A8 8 0 0 0 1096.2 427ZM1052.3 395.7A6 6 0 1 1 1060.5 387.6A6 6 0 0 0 1052.3 395.7ZM939.2 297.6A2.5 2.5 0 1 1 942.6 294.2A2.5 2.5 0 0 0 939.2 297.6ZM850.3 421.7A2.5 2.5 0 1 1 853.7 418.3A2.5 2.5 0 0 0 850.3 421.7ZM1076.9 471.2A4 4 0 1 1 1082.3 465.8A4 4 0 0 0 1076.9 471.2ZM1086 61.4A4 4 0 1 1 1091.4 56A4 4 0 0 0 1086 61.4ZM1096.8 518.3A4 4 0 1 1 1102.2 512.8A4 4 0 0 0 1096.8 518.3ZM1084.3 161.2A4 4 0 1 1 1089.7 155.8A4 4 0 0 0 1084.3 161.2ZM985.9 510.9A5 5 0 1 1 992.7 504.1A5 5 0 0 0 985.9 510.9ZM1212.9 389.8A6 6 0 1 1 1221.1 381.7A6 6 0 0 0 1212.9 389.8ZM915.5 282.8A7 7 0 1 1 925 273.3A7 7 0 0 0 915.5 282.8ZM998.5 521.9A4 4 0 1 1 1003.9 516.5A4 4 0 0 0 998.5 521.9ZM1193 291.7A4 4 0 1 1 1198.5 286.3A4 4 0 0 0 1193 291.7ZM1149.7 135.6A6 6 0 1 1 1157.8 127.5A6 6 0 0 0 1149.7 135.6ZM910.2 356.2A7 7 0 1 1 919.7 346.7A7 7 0 0 0 910.2 356.2ZM1124.7 412.5A2.5 2.5 0 1 1 1128.1 409.1A2.5 2.5 0 0 0 1124.7 412.5ZM1199.2 371.8A4 4 0 1 1 1204.6 366.4A4 4 0 0 0 1199.2 371.8ZM839.9 261.6A5 5 0 1 1 846.7 254.8A5 5 0 0 0 839.9 261.6ZM1171.7 448.6A3 3 0 1 1 1175.8 444.5A3 3 0 0 0 1171.7 448.6ZM929.5 356.4A7 7 0 1 1 939 346.9A7 7 0 0 0 929.5 356.4ZM1016.7 444.4A5 5 0 1 1 1023.5 437.6A5 5 0 0 0 1016.7 444.4ZM956 187.6A5 5 0 1 1 962.8 180.8A5 5 0 0 0 956 187.6ZM1123 343.3A4 4 0 1 1 1128.4 337.9A4 4 0 0 0 1123 343.3ZM1010.1 477.7A4 4 0 1 1 1015.5 472.3A4 4 0 0 0 1010.1 477.7ZM1216.5 451.6A4 4 0 1 1 1221.9 446.2A4 4 0 0 0 1216.5 451.6ZM954.1 307.7A3 3 0 1 1 958.2 303.7A3 3 0 0 0 954.1 307.7ZM1235.6 138.3A5 5 0 1 1 1242.4 131.5A5 5 0 0 0 1235.6 138.3ZM1191.9 301.5A3.5 3.5 0 1 1 1196.7 296.7A3.5 3.5 0 0 0 1191.9 301.5ZM1071 116.3A3 3 0 1 1 1075.1 112.2A3 3 0 0 0 1071 116.3ZM1007.3 412.5A7 7 0 1 1 1016.8 403A7 7 0 0 0 1007.3 412.5ZM1007 421.2A3.5 3.5 0 1 1 1011.7 416.4A3.5 3.5 0 0 0 1007 421.2ZM1004 355.7A2.5 2.5 0 1 1 1007.4 352.3A2.5 2.5 0 0 0 1004 355.7ZM887.3 331.3A5 5 0 1 1 894.1 324.5A5 5 0 0 0 887.3 331.3ZM1236.4 284.1A7 7 0 1 1 1245.9 274.6A7 7 0 0 0 1236.4 284.1ZM1214.6 265.2A4 4 0 1 1 1220.1 259.8A4 4 0 0 0 1214.6 265.2ZM1118.5 349.1A3.5 3.5 0 1 1 1123.2 344.3A3.5 3.5 0 0 0 1118.5 349.1ZM842.9 145.6A2.5 2.5 0 1 1 846.3 142.3A2.5 2.5 0 0 0 842.9 145.6ZM855.6 229.7A5 5 0 1 1 862.4 222.9A5 5 0 0 0 855.6 229.7ZM1157.8 283.2A4 4 0 1 1 1163.3 277.8A4 4 0 0 0 1157.8 283.2ZM1069 117.1A4 4 0 1 1 1074.4 111.7A4 4 0 0 0 1069 117.1ZM904.1 306.2A6 6 0 1 1 912.2 298A6 6 0 0 0 904.1 306.2ZM907 294.4A7 7 0 1 1 916.5 284.9A7 7 0 0 0 907 294.4ZM1045.8 519.8A4 4 0 1 1 1051.2 514.4A4 4 0 0 0 1045.8 519.8ZM953.9 285.7A4 4 0 1 1 959.4 280.3A4 4 0 0 0 953.9 285.7ZM1039.7 472.5A4 4 0 1 1 1045.1 467.1A4 4 0 0 0 1039.7 472.5ZM918.4 357.3A5 5 0 1 1 925.2 350.6A5 5 0 0 0 918.4 357.3ZM1271.2 359.8A3 3 0 1 1 1275.3 355.8A3 3 0 0 0 1271.2 359.8ZM1212.8 273.6A2.5 2.5 0 1 1 1216.2 270.2A2.5 2.5 0 0 0 1212.8 273.6ZM936.9 288.7A4 4 0 1 1 942.3 283.3A4 4 0 0 0 936.9 288.7ZM1219.7 201.7A3.5 3.5 0 1 1 1224.5 196.9A3.5 3.5 0 0 0 1219.7 201.7ZM936.6 462A5 5 0 1 1 943.4 455.2A5 5 0 0 0 936.6 462ZM1118.1 112.3A4 4 0 1 1 1123.6 106.9A4 4 0 0 0 1118.1 112.3ZM954.1 429.3A7 7 0 1 1 963.6 419.8A7 7 0 0 0 954.1 429.3ZM1261.8 395A4 4 0 1 1 1267.2 389.5A4 4 0 0 0 1261.8 395ZM1270.8 349.7A3.5 3.5 0 1 1 1275.5 344.9A3.5 3.5 0 0 0 1270.8 349.7ZM1059.7 139.1A2.5 2.5 0 1 1 1063.1 135.7A2.5 2.5 0 0 0 1059.7 139.1ZM1186.1 134.5A7 7 0 1 1 1195.6 125A7 7 0 0 0 1186.1 134.5ZM845.4 195A6 6 0 1 1 853.6 186.9A6 6 0 0 0 845.4 195ZM1059.8 363.5A3.5 3.5 0 1 1 1064.5 358.7A3.5 3.5 0 0 0 1059.8 363.5ZM1276.8 303.2A3 3 0 1 1 1280.8 299.2A3 3 0 0 0 1276.8 303.2ZM867.9 420.9A6 6 0 1 1 876 412.8A6 6 0 0 0 867.9 420.9ZM1181.3 152.2A4 4 0 1 1 1186.8 146.7A4 4 0 0 0 1181.3 152.2ZM1147 457.1A7 7 0 1 1 1156.5 447.6A7 7 0 0 0 1147 457.1ZM1194.5 195.4A3 3 0 1 1 1198.6 191.3A3 3 0 0 0 1194.5 195.4ZM1235.1 329.6A7 7 0 1 1 1244.6 320.1A7 7 0 0 0 1235.1 329.6ZM911.3 231.2A3.5 3.5 0 1 1 916 226.4A3.5 3.5 0 0 0 911.3 231.2ZM1144.3 310.2A2.5 2.5 0 1 1 1147.7 306.8A2.5 2.5 0 0 0 1144.3 310.2ZM997.9 436.5A3 3 0 1 1 1001.9 432.4A3 3 0 0 0 997.9 436.5ZM1206.3 383.6A6 6 0 1 1 1214.5 375.5A6 6 0 0 0 1206.3 383.6ZM1110.5 522A6 6 0 1 1 1118.7 513.8A6 6 0 0 0 1110.5 522ZM1061.3 467.5A6 6 0 1 1 1069.5 459.4A6 6 0 0 0 1061.3 467.5ZM1136 349A5 5 0 1 1 1142.8 342.2A5 5 0 0 0 1136 349ZM869.1 274A7 7 0 1 1 878.6 264.5A7 7 0 0 0 869.1 274ZM1257.3 380.4A4 4 0 1 1 1262.7 375A4 4 0 0 0 1257.3 380.4ZM886 105.9A7 7 0 1 1 895.5 96.4A7 7 0 0 0 886 105.9ZM846 389.3A3.5 3.5 0 1 1 850.7 384.6A3.5 3.5 0 0 0 846 389.3ZM958.5 373.7A3.5 3.5 0 1 1 963.2 368.9A3.5 3.5 0 0 0 958.5 373.7ZM936.6 490.1A4 4 0 1 1 942 484.6A4 4 0 0 0 936.6 490.1ZM815.4 223A3.5 3.5 0 1 1 820.2 218.2A3.5 3.5 0 0 0 815.4 223ZM1197.2 289.4A3 3 0 1 1 1201.3 285.3A3 3 0 0 0 1197.2 289.4ZM829.4 305.6A7 7 0 1 1 838.9 296.1A7 7 0 0 0 829.4 305.6ZM858.4 255.9A6 6 0 1 1 866.5 247.8A6 6 0 0 0 858.4 255.9ZM1136.6 152.8A3.5 3.5 0 1 1 1141.3 148.1A3.5 3.5 0 0 0 1136.6 152.8ZM1245.5 265.6A2.5 2.5 0 1 1 1248.9 262.2A2.5 2.5 0 0 0 1245.5 265.6ZM923.8 190.1A7 7 0 1 1 933.3 180.6A7 7 0 0 0 923.8 190.1ZM1081.5 97.8A7 7 0 1 1 1091 88.3A7 7 0 0 0 1081.5 97.8ZM911.3 170.4A3.5 3.5 0 1 1 916 165.7A3.5 3.5 0 0 0 911.3 170.4ZM1041.1 483.6A5 5 0 1 1 1047.9 476.8A5 5 0 0 0 1041.1 483.6ZM1113.7 361.9A3.5 3.5 0 1 1 1118.4 357.1A3.5 3.5 0 0 0 1113.7 361.9ZM952.8 105.4A4 4 0 1 1 958.2 100A4 4 0 0 0 952.8 105.4ZM1176.7 191.2A5 5 0 1 1 1183.5 184.5A5 5 0 0 0 1176.7 191.2ZM937.8 75.4A3 3 0 1 1 941.9 71.3A3 3 0 0 0 937.8 75.4ZM847.3 422.6A3.5 3.5 0 1 1 852 417.8A3.5 3.5 0 0 0 847.3 422.6ZM965.5 428A3.5 3.5 0 1 1 970.2 423.2A3.5 3.5 0 0 0 965.5 428ZM1017.2 366.3A2.5 2.5 0 1 1 1020.6 363A2.5 2.5 0 0 0 1017.2 366.3ZM828.1 251.3A3 3 0 1 1 832.1 247.2A3 3 0 0 0 828.1 251.3ZM1115.2 70.4A3 3 0 1 1 1119.3 66.4A3 3 0 0 0 1115.2 70.4ZM1148.9 452A7 7 0 1 1 1158.4 442.5A7 7 0 0 0 1148.9 452ZM913.3 74.9A3 3 0 1 1 917.4 70.9A3 3 0 0 0 913.3 74.9ZM1059.9 40.6A3 3 0 1 1 1063.9 36.5A3 3 0 0 0 1059.9 40.6ZM1128.7 444.3A4 4 0 1 1 1134.1 438.9A4 4 0 0 0 1128.7 444.3ZM875.4 131.1A4 4 0 1 1 880.8 125.6A4 4 0 0 0 875.4 131.1ZM1170.1 117.2A4 4 0 1 1 1175.5 111.8A4 4 0 0 0 1170.1 117.2ZM1212.8 156.9A4 4 0 1 1 1218.2 151.5A4 4 0 0 0 1212.8 156.9ZM895.8 448.3A7 7 0 1 1 905.3 438.8A7 7 0 0 0 895.8 448.3ZM1178.2 186.9A6 6 0 1 1 1186.4 178.8A6 6 0 0 0 1178.2 186.9ZM1192.8 258.4A7 7 0 1 1 1202.3 248.9A7 7 0 0 0 1192.8 258.4ZM972.6 328.7A3.5 3.5 0 1 1 977.4 324A3.5 3.5 0 0 0 972.6 328.7ZM1185.1 179.1A5 5 0 1 1 1191.9 172.3A5 5 0 0 0 1185.1 179.1ZM907.3 377.8A2.5 2.5 0 1 1 910.7 374.4A2.5 2.5 0 0 0 907.3 377.8ZM1099 369A5 5 0 1 1 1105.8 362.2A5 5 0 0 0 1099 369ZM922.4 191.1A3 3 0 1 1 926.5 187A3 3 0 0 0 922.4 191.1ZM1048.6 106.3A7 7 0 1 1 1058.1 96.8A7 7 0 0 0 1048.6 106.3ZM1216.8 146.1A3.5 3.5 0 1 1 1221.6 141.3A3.5 3.5 0 0 0 1216.8 146.1ZM1133.2 238.3A3.5 3.5 0 1 1 1138 233.5A3.5 3.5 0 0 0 1133.2 238.3ZM1160.8 245.2A4 4 0 1 1 1166.2 239.8A4 4 0 0 0 1160.8 245.2ZM1183.9 300.4A3 3 0 1 1 1188 296.3A3 3 0 0 0 1183.9 300.4ZM1110.9 516.4A3 3 0 1 1 1115 512.4A3 3 0 0 0 1110.9 516.4ZM1114.7 353.1A4 4 0 1 1 1120.1 347.6A4 4 0 0 0 1114.7 353.1ZM887.7 155.6A3.5 3.5 0 1 1 892.4 150.9A3.5 3.5 0 0 0 887.7 155.6ZM1019.8 80.2A3.5 3.5 0 1 1 1024.6 75.4A3.5 3.5 0 0 0 1019.8 80.2ZM1197.9 137.7A5 5 0 1 1 1204.7 131A5 5 0 0 0 1197.9 137.7ZM969.6 83.1A3.5 3.5 0 1 1 974.4 78.3A3.5 3.5 0 0 0 969.6 83.1ZM922.1 283A4 4 0 1 1 927.5 277.5A4 4 0 0 0 922.1 283ZM944.2 294.4A3.5 3.5 0 1 1 949 289.7A3.5 3.5 0 0 0 944.2 294.4ZM1164.3 487.7A6 6 0 1 1 1172.5 479.5A6 6 0 0 0 1164.3 487.7ZM895.4 251.4A6 6 0 1 1 903.5 243.3A6 6 0 0 0 895.4 251.4ZM964.2 433A6 6 0 1 1 972.3 424.8A6 6 0 0 0 964.2 433ZM1190.3 265.6A2.5 2.5 0 1 1 1193.7 262.2A2.5 2.5 0 0 0 1190.3 265.6ZM970 494.2A3 3 0 1 1 974 490.2A3 3 0 0 0 970 494.2ZM1171.7 475.2A2.5 2.5 0 1 1 1175.1 471.9A2.5 2.5 0 0 0 1171.7 475.2ZM1063.9 478A7 7 0 1 1 1073.4 468.5A7 7 0 0 0 1063.9 478ZM1202.1 187.5A7 7 0 1 1 1211.6 178A7 7 0 0 0 1202.1 187.5ZM1255.1 281.9A6 6 0 1 1 1263.3 273.8A6 6 0 0 0 1255.1 281.9ZM978.9 392.6A4 4 0 1 1 984.3 387.2A4 4 0 0 0 978.9 392.6ZM1200.2 411A5 5 0 1 1 1207 404.3A5 5 0 0 0 1200.2 411ZM973.3 479.1A6 6 0 1 1 981.4 471A6 6 0 0 0 973.3 479.1ZM969.7 231.1A4 4 0 1 1 975.2 225.7A4 4 0 0 0 969.7 231.1ZM1035.5 516A4 4 0 1 1 1040.9 510.5A4 4 0 0 0 1035.5 516ZM1081.8 109.6A5 5 0 1 1 1088.6 102.8A5 5 0 0 0 1081.8 109.6ZM1080.5 187.2A4 4 0 1 1 1085.9 181.8A4 4 0 0 0 1080.5 187.2ZM1227.8 138A2.5 2.5 0 1 1 1231.2 134.6A2.5 2.5 0 0 0 1227.8 138ZM894.6 171A5 5 0 1 1 901.4 164.2A5 5 0 0 0 894.6 171ZM1158.4 228.4A2.5 2.5 0 1 1 1161.8 225.1A2.5 2.5 0 0 0 1158.4 228.4ZM853.2 287.2A4 4 0 1 1 858.6 281.8A4 4 0 0 0 853.2 287.2ZM1245.4 336.3A5 5 0 1 1 1252.2 329.5A5 5 0 0 0 1245.4 336.3ZM1090.4 52.4A4 4 0 1 1 1095.9 47A4 4 0 0 0 1090.4 52.4ZM1226.4 447.7A2.5 2.5 0 1 1 1229.8 444.3A2.5 2.5 0 0 0 1226.4 447.7ZM1167 344.4A4 4 0 1 1 1172.4 338.9A4 4 0 0 0 1167 344.4ZM982.9 224.2A2.5 2.5 0 1 1 986.3 220.8A2.5 2.5 0 0 0 982.9 224.2ZM1254.5 298.9A4 4 0 1 1 1260 293.4A4 4 0 0 0 1254.5 298.9ZM893.6 467A5 5 0 1 1 900.4 460.2A5 5 0 0 0 893.6 467ZM1103.4 148.8A6 6 0 1 1 1111.5 140.6A6 6 0 0 0 1103.4 148.8ZM930.2 160A3.5 3.5 0 1 1 934.9 155.2A3.5 3.5 0 0 0 930.2 160ZM835.2 413A4 4 0 1 1 840.6 407.6A4 4 0 0 0 835.2 413ZM906.2 230.6A4 4 0 1 1 911.6 225.2A4 4 0 0 0 906.2 230.6ZM994.9 117.3A3.5 3.5 0 1 1 999.6 112.6A3.5 3.5 0 0 0 994.9 117.3ZM1082.4 462.8A6 6 0 1 1 1090.6 454.7A6 6 0 0 0 1082.4 462.8ZM1176 225.8A6 6 0 1 1 1184.2 217.7A6 6 0 0 0 1176 225.8ZM1270.3 212.6A6 6 0 1 1 1278.5 204.4A6 6 0 0 0 1270.3 212.6ZM956.7 466.1A4 4 0 1 1 962.2 460.7A4 4 0 0 0 956.7 466.1ZM1023.2 390.1A6 6 0 1 1 1031.4 381.9A6 6 0 0 0 1023.2 390.1ZM1031.3 432.6A3.5 3.5 0 1 1 1036 427.8A3.5 3.5 0 0 0 1031.3 432.6ZM927.6 184.6A3.5 3.5 0 1 1 932.4 179.9A3.5 3.5 0 0 0 927.6 184.6ZM889.5 139.8A4 4 0 1 1 895 134.3A4 4 0 0 0 889.5 139.8ZM927.4 82.5A7 7 0 1 1 936.9 73A7 7 0 0 0 927.4 82.5ZM1062.8 80A2.5 2.5 0 1 1 1066.2 76.6A2.5 2.5 0 0 0 1062.8 80ZM807 352.3A3.5 3.5 0 1 1 811.8 347.5A3.5 3.5 0 0 0 807 352.3ZM1199.5 387.5A3 3 0 1 1 1203.6 383.4A3 3 0 0 0 1199.5 387.5ZM1228 445.3A4 4 0 1 1 1233.4 439.9A4 4 0 0 0 1228 445.3ZM1177.2 141.2A3.5 3.5 0 1 1 1181.9 136.5A3.5 3.5 0 0 0 1177.2 141.2ZM1129.3 228A3.5 3.5 0 1 1 1134 223.3A3.5 3.5 0 0 0 1129.3 228ZM1219.2 155.6A3.5 3.5 0 1 1 1224 150.8A3.5 3.5 0 0 0 1219.2 155.6ZM979.1 156.8A5 5 0 1 1 985.9 150A5 5 0 0 0 979.1 156.8ZM896.6 126.9A5 5 0 1 1 903.3 120.1A5 5 0 0 0 896.6 126.9ZM1166.7 274.3A4 4 0 1 1 1172.1 268.9A4 4 0 0 0 1166.7 274.3ZM1135.5 313.9A3.5 3.5 0 1 1 1140.2 309.2A3.5 3.5 0 0 0 1135.5 313.9ZM945.8 59.2A2.5 2.5 0 1 1 949.2 55.8A2.5 2.5 0 0 0 945.8 59.2ZM975.5 160.1A7 7 0 1 1 985 150.6A7 7 0 0 0 975.5 160.1ZM1148.2 364.5A3.5 3.5 0 1 1 1152.9 359.8A3.5 3.5 0 0 0 1148.2 364.5ZM887.6 411.8A7 7 0 1 1 897.1 402.3A7 7 0 0 0 887.6 411.8ZM886.1 245.8A6 6 0 1 1 894.2 237.7A6 6 0 0 0 886.1 245.8ZM1159.9 97.5A2.5 2.5 0 1 1 1163.3 94.1A2.5 2.5 0 0 0 1159.9 97.5ZM1111.2 431.3A4 4 0 1 1 1116.6 425.9A4 4 0 0 0 1111.2 431.3ZM1058 478.9A4 4 0 1 1 1063.4 473.5A4 4 0 0 0 1058 478.9ZM1236.3 208.7A6 6 0 1 1 1244.4 200.6A6 6 0 0 0 1236.3 208.7ZM904.4 445.6A4 4 0 1 1 909.8 440.2A4 4 0 0 0 904.4 445.6ZM1101.8 433.5A4 4 0 1 1 1107.2 428A4 4 0 0 0 1101.8 433.5ZM1155.8 299.9A4 4 0 1 1 1161.2 294.5A4 4 0 0 0 1155.8 299.9ZM1140.6 95.7A7 7 0 1 1 1150.1 86.2A7 7 0 0 0 1140.6 95.7ZM1268.4 199.3A6 6 0 1 1 1276.5 191.1A6 6 0 0 0 1268.4 199.3ZM1169.7 499.1A7 7 0 1 1 1179.2 489.6A7 7 0 0 0 1169.7 499.1ZM995.8 350.2A3.5 3.5 0 1 1 1000.5 345.4A3.5 3.5 0 0 0 995.8 350.2ZM837.3 357.1A6 6 0 1 1 845.5 348.9A6 6 0 0 0 837.3 357.1ZM1081.9 435.5A2.5 2.5 0 1 1 1085.3 432.1A2.5 2.5 0 0 0 1081.9 435.5ZM1187.2 172.3A2.5 2.5 0 1 1 1190.6 168.9A2.5 2.5 0 0 0 1187.2 172.3ZM1127.2 467.6A5 5 0 1 1 1134 460.8A5 5 0 0 0 1127.2 467.6ZM870 158.2A2.5 2.5 0 1 1 873.4 154.8A2.5 2.5 0 0 0 870 158.2ZM941.7 377.1A3.5 3.5 0 1 1 946.5 372.4A3.5 3.5 0 0 0 941.7 377.1ZM959.3 204A4 4 0 1 1 964.7 198.6A4 4 0 0 0 959.3 204ZM1065.6 501.4A5 5 0 1 1 1072.4 494.6A5 5 0 0 0 1065.6 501.4ZM1119.7 425.2A5 5 0 1 1 1126.5 418.4A5 5 0 0 0 1119.7 425.2ZM1036.5 440.6A2.5 2.5 0 1 1 1039.9 437.2A2.5 2.5 0 0 0 1036.5 440.6ZM887.4 240.5A4 4 0 1 1 892.8 235A4 4 0 0 0 887.4 240.5ZM816.6 292.2A3 3 0 1 1 820.7 288.1A3 3 0 0 0 816.6 292.2ZM1190.6 152A3.5 3.5 0 1 1 1195.3 147.3A3.5 3.5 0 0 0 1190.6 152ZM1176.8 450.5A2.5 2.5 0 1 1 1180.2 447.1A2.5 2.5 0 0 0 1176.8 450.5ZM889.7 245.7A3 3 0 1 1 893.7 241.6A3 3 0 0 0 889.7 245.7ZM1020 193.2A3.5 3.5 0 1 1 1024.7 188.5A3.5 3.5 0 0 0 1020 193.2ZM905.7 244.4A2.5 2.5 0 1 1 909.1 241A2.5 2.5 0 0 0 905.7 244.4ZM978.1 509.6A4 4 0 1 1 983.5 504.2A4 4 0 0 0 978.1 509.6ZM1089.3 458.7A4 4 0 1 1 1094.8 453.2A4 4 0 0 0 1089.3 458.7ZM829.7 243.3A2.5 2.5 0 1 1 833.1 239.9A2.5 2.5 0 0 0 829.7 243.3ZM1156.2 190.4A6 6 0 1 1 1164.3 182.3A6 6 0 0 0 1156.2 190.4ZM1196.1 330.2A5 5 0 1 1 1202.9 323.4A5 5 0 0 0 1196.1 330.2ZM1200.3 360A3 3 0 1 1 1204.3 355.9A3 3 0 0 0 1200.3 360ZM1114.3 72A2.5 2.5 0 1 1 1117.7 68.6A2.5 2.5 0 0 0 1114.3 72ZM995.7 509.6A4 4 0 1 1 1001.1 504.1A4 4 0 0 0 995.7 509.6ZM1099.1 164.1A3 3 0 1 1 1103.2 160A3 3 0 0 0 1099.1 164.1ZM1127.4 282.9A2.5 2.5 0 1 1 1130.8 279.5A2.5 2.5 0 0 0 1127.4 282.9ZM1222.3 235.5A6 6 0 1 1 1230.5 227.4A6 6 0 0 0 1222.3 235.5ZM1215.1 360A5 5 0 1 1 1221.9 353.2A5 5 0 0 0 1215.1 360ZM944.4 107.7A2.5 2.5 0 1 1 947.8 104.3A2.5 2.5 0 0 0 944.4 107.7ZM1006.1 194.4A6 6 0 1 1 1014.2 186.3A6 6 0 0 0 1006.1 194.4ZM1272.3 232.9A5 5 0 1 1 1279.1 226.1A5 5 0 0 0 1272.3 232.9ZM837.7 266.7A3.5 3.5 0 1 1 842.4 262A3.5 3.5 0 0 0 837.7 266.7ZM947.6 225.1A3 3 0 1 1 951.6 221A3 3 0 0 0 947.6 225.1ZM979.2 235.1A2.5 2.5 0 1 1 982.6 231.7A2.5 2.5 0 0 0 979.2 235.1ZM1063.8 97.4A6 6 0 1 1 1072 89.2A6 6 0 0 0 1063.8 97.4ZM1073.9 89.6A3.5 3.5 0 1 1 1078.7 84.8A3.5 3.5 0 0 0 1073.9 89.6ZM856.8 255.6A4 4 0 1 1 862.2 250.2A4 4 0 0 0 856.8 255.6ZM1218.1 271.6A7 7 0 1 1 1227.6 262.1A7 7 0 0 0 1218.1 271.6ZM1239.8 281.5A2.5 2.5 0 1 1 1243.2 278.1A2.5 2.5 0 0 0 1239.8 281.5ZM874 190.8A4 4 0 1 1 879.5 185.4A4 4 0 0 0 874 190.8ZM1028.1 483.4A7 7 0 1 1 1037.6 473.9A7 7 0 0 0 1028.1 483.4ZM1159.6 241.6A3.5 3.5 0 1 1 1164.3 236.9A3.5 3.5 0 0 0 1159.6 241.6ZM982.1 423.9A5 5 0 1 1 988.9 417.1A5 5 0 0 0 982.1 423.9ZM991.9 103.4A4 4 0 1 1 997.4 98A4 4 0 0 0 991.9 103.4ZM1016.2 514.3A3.5 3.5 0 1 1 1021 509.6A3.5 3.5 0 0 0 1016.2 514.3ZM950.9 498.4A5 5 0 1 1 957.7 491.7A5 5 0 0 0 950.9 498.4ZM957.5 188.5A7 7 0 1 1 967 179A7 7 0 0 0 957.5 188.5ZM1247.9 423.5A2.5 2.5 0 1 1 1251.3 420.1A2.5 2.5 0 0 0 1247.9 423.5ZM951.1 271.1A2.5 2.5 0 1 1 954.4 267.8A2.5 2.5 0 0 0 951.1 271.1ZM1193.2 137.5A3.5 3.5 0 1 1 1197.9 132.8A3.5 3.5 0 0 0 1193.2 137.5ZM1066.6 425.4A6 6 0 1 1 1074.8 417.2A6 6 0 0 0 1066.6 425.4ZM889.5 419.3A6 6 0 1 1 897.7 411.2A6 6 0 0 0 889.5 419.3ZM1017.7 386A2.5 2.5 0 1 1 1021.1 382.6A2.5 2.5 0 0 0 1017.7 386ZM1124 338.5A2.5 2.5 0 1 1 1127.4 335.1A2.5 2.5 0 0 0 1124 338.5ZM947.8 361A2.5 2.5 0 1 1 951.2 357.6A2.5 2.5 0 0 0 947.8 361ZM814.4 199A5 5 0 1 1 821.2 192.2A5 5 0 0 0 814.4 199ZM810.6 272.1A3.5 3.5 0 1 1 815.4 267.4A3.5 3.5 0 0 0 810.6 272.1ZM1204.9 287.2A6 6 0 1 1 1213 279.1A6 6 0 0 0 1204.9 287.2ZM879.2 206.1A6 6 0 1 1 887.3 198A6 6 0 0 0 879.2 206.1ZM943.3 249.8A3.5 3.5 0 1 1 948 245.1A3.5 3.5 0 0 0 943.3 249.8ZM1185.9 370.8A4 4 0 1 1 1191.4 365.4A4 4 0 0 0 1185.9 370.8ZM1045 177.4A3 3 0 1 1 1049.1 173.3A3 3 0 0 0 1045 177.4ZM1167.6 412A5 5 0 1 1 1174.3 405.2A5 5 0 0 0 1167.6 412ZM1054.9 51.9A5 5 0 1 1 1061.7 45.1A5 5 0 0 0 1054.9 51.9ZM918.5 375.3A6 6 0 1 1 926.6 367.2A6 6 0 0 0 918.5 375.3ZM1214.8 155.8A5 5 0 1 1 1221.6 149A5 5 0 0 0 1214.8 155.8ZM1224.1 117.4A3 3 0 1 1 1228.2 113.3A3 3 0 0 0 1224.1 117.4ZM1000.8 117.2A5 5 0 1 1 1007.6 110.4A5 5 0 0 0 1000.8 117.2ZM1184.7 149.8A3.5 3.5 0 1 1 1189.5 145.1A3.5 3.5 0 0 0 1184.7 149.8ZM1175 218A5 5 0 1 1 1181.7 211.2A5 5 0 0 0 1175 218ZM861.3 244.7A4 4 0 1 1 866.7 239.3A4 4 0 0 0 861.3 244.7ZM877 139.5A4 4 0 1 1 882.4 134.1A4 4 0 0 0 877 139.5ZM1157.8 174.6A6 6 0 1 1 1165.9 166.4A6 6 0 0 0 1157.8 174.6ZM869.1 353.8A3 3 0 1 1 873.2 349.7A3 3 0 0 0 869.1 353.8ZM801.9 294.9A6 6 0 1 1 810 286.8A6 6 0 0 0 801.9 294.9ZM1058.9 106.4A4 4 0 1 1 1064.4 100.9A4 4 0 0 0 1058.9 106.4ZM1095.1 432.8A3.5 3.5 0 1 1 1099.9 428A3.5 3.5 0 0 0 1095.1 432.8ZM1022 500.4A7 7 0 1 1 1031.5 490.9A7 7 0 0 0 1022 500.4ZM1074.7 66.7A7 7 0 1 1 1084.2 57.3A7 7 0 0 0 1074.7 66.7ZM1238.8 191.9A5 5 0 1 1 1245.6 185.1A5 5 0 0 0 1238.8 191.9ZM881 126.6A2.5 2.5 0 1 1 884.4 123.2A2.5 2.5 0 0 0 881 126.6ZM1033.7 77.6A4 4 0 1 1 1039.2 72.2A4 4 0 0 0 1033.7 77.6ZM867.3 169.3A3.5 3.5 0 1 1 872.1 164.5A3.5 3.5 0 0 0 867.3 169.3ZM1144.4 138.5A4 4 0 1 1 1149.8 133.1A4 4 0 0 0 1144.4 138.5ZM1097.7 344.2A4 4 0 1 1 1103.1 338.8A4 4 0 0 0 1097.7 344.2ZM1059.5 165.1A5 5 0 1 1 1066.3 158.4A5 5 0 0 0 1059.5 165.1ZM1146.4 119.6A4 4 0 1 1 1151.8 114.2A4 4 0 0 0 1146.4 119.6ZM1101.3 84.1A2.5 2.5 0 1 1 1104.7 80.8A2.5 2.5 0 0 0 1101.3 84.1ZM843.9 362.5A4 4 0 1 1 849.3 357.1A4 4 0 0 0 843.9 362.5ZM1079.5 505.2A3 3 0 1 1 1083.6 501.1A3 3 0 0 0 1079.5 505.2ZM924.9 250.9A4 4 0 1 1 930.3 245.4A4 4 0 0 0 924.9 250.9ZM1173.8 289.4A4 4 0 1 1 1179.2 283.9A4 4 0 0 0 1173.8 289.4ZM1058.1 370.2A7 7 0 1 1 1067.6 360.7A7 7 0 0 0 1058.1 370.2ZM975.5 414.6A6 6 0 1 1 983.7 406.5A6 6 0 0 0 975.5 414.6ZM855.2 186.6A5 5 0 1 1 862 179.8A5 5 0 0 0 855.2 186.6ZM930.5 106.2A4 4 0 1 1 935.9 100.8A4 4 0 0 0 930.5 106.2ZM1034.7 382.8A5 5 0 1 1 1041.5 376A5 5 0 0 0 1034.7 382.8ZM1121.7 230.2A6 6 0 1 1 1129.8 222A6 6 0 0 0 1121.7 230.2ZM1237.9 373A2.5 2.5 0 1 1 1241.3 369.6A2.5 2.5 0 0 0 1237.9 373ZM878.4 295A3 3 0 1 1 882.5 290.9A3 3 0 0 0 878.4 295ZM1248.7 205.6A3 3 0 1 1 1252.8 201.5A3 3 0 0 0 1248.7 205.6ZM1163.4 110.1A7 7 0 1 1 1172.9 100.6A7 7 0 0 0 1163.4 110.1ZM993.3 121.2A6 6 0 1 1 1001.5 113A6 6 0 0 0 993.3 121.2ZM1140.1 229.9A3.5 3.5 0 1 1 1144.8 225.2A3.5 3.5 0 0 0 1140.1 229.9ZM1239.9 331.2A7 7 0 1 1 1249.4 321.7A7 7 0 0 0 1239.9 331.2ZM1142.6 158.3A6 6 0 1 1 1150.7 150.2A6 6 0 0 0 1142.6 158.3ZM1047.5 488.6A4 4 0 1 1 1052.9 483.1A4 4 0 0 0 1047.5 488.6ZM912.4 223.5A5 5 0 1 1 919.2 216.7A5 5 0 0 0 912.4 223.5ZM1153.1 183.2A3 3 0 1 1 1157.2 179.1A3 3 0 0 0 1153.1 183.2ZM1165.5 469.7A3.5 3.5 0 1 1 1170.3 464.9A3.5 3.5 0 0 0 1165.5 469.7ZM984.5 128.8A3.5 3.5 0 1 1 989.2 124.1A3.5 3.5 0 0 0 984.5 128.8ZM926.9 122.5A4 4 0 1 1 932.3 117.1A4 4 0 0 0 926.9 122.5ZM950.5 245.4A3 3 0 1 1 954.6 241.3A3 3 0 0 0 950.5 245.4ZM1075.9 204.5A7 7 0 1 1 1085.4 195A7 7 0 0 0 1075.9 204.5ZM950.8 101.7A2.5 2.5 0 1 1 954.2 98.3A2.5 2.5 0 0 0 950.8 101.7ZM1002.9 508.7A4 4 0 1 1 1008.4 503.3A4 4 0 0 0 1002.9 508.7ZM1148.8 382.1A6 6 0 1 1 1156.9 374A6 6 0 0 0 1148.8 382.1ZM1014.9 519.2A2.5 2.5 0 1 1 1018.3 515.8A2.5 2.5 0 0 0 1014.9 519.2ZM1173.8 381.3A3.5 3.5 0 1 1 1178.5 376.6A3.5 3.5 0 0 0 1173.8 381.3ZM1025.9 88.2A5 5 0 1 1 1032.7 81.4A5 5 0 0 0 1025.9 88.2ZM1249.9 221.8A7 7 0 1 1 1259.4 212.3A7 7 0 0 0 1249.9 221.8ZM1164.8 256.7A3.5 3.5 0 1 1 1169.5 252A3.5 3.5 0 0 0 1164.8 256.7ZM998.6 362.6A4 4 0 1 1 1004 357.1A4 4 0 0 0 998.6 362.6ZM1114.3 461.4A5 5 0 1 1 1121.1 454.6A5 5 0 0 0 1114.3 461.4ZM1130.3 376.1A5 5 0 1 1 1137.1 369.3A5 5 0 0 0 1130.3 376.1ZM889.7 205.9A7 7 0 1 1 899.2 196.4A7 7 0 0 0 889.7 205.9ZM882 469.5A3 3 0 1 1 886.1 465.4A3 3 0 0 0 882 469.5Z"/>
<path fill="#cfcfcf" opacity="0.8" d="M864.6 120.6A9 9 0 1 1 852 133.2A9 9 0 0 0 864.6 120.6ZM891.3 114.7A9 9 0 1 1 878.7 127.3A9 9 0 0 0 891.3 114.7ZM911.4 136.2A8 8 0 1 1 900.2 147.4A8 8 0 0 0 911.4 136.2ZM960 66.4A10 10 0 1 1 946 80.4A10 10 0 0 0 960 66.4ZM931.6 56A12 12 0 1 1 914.8 72.8A12 12 0 0 0 931.6 56ZM954.6 100.8A6 6 0 1 1 946.2 109.2A6 6 0 0 0 954.6 100.8ZM1036.5 104A13 13 0 1 1 1018.3 122.2A13 13 0 0 0 1036.5 104ZM1067 76.7A12 12 0 1 1 1050.2 93.5A12 12 0 0 0 1067 76.7ZM978.2 138.9A12 12 0 1 1 961.4 155.7A12 12 0 0 0 978.2 138.9ZM1098 81A10 10 0 1 1 1084 95A10 10 0 0 0 1098 81ZM1018 78A10 10 0 1 1 1004 92A10 10 0 0 0 1018 78ZM994.2 54.4A7 7 0 1 1 984.4 64.2A7 7 0 0 0 994.2 54.4ZM1078.6 50.2A6 6 0 1 1 1070.2 58.6A6 6 0 0 0 1078.6 50.2ZM1115.4 102.8A9 9 0 1 1 1102.8 115.4A9 9 0 0 0 1115.4 102.8ZM1126 142A10 10 0 1 1 1112 156A10 10 0 0 0 1126 142ZM1005.4 172.8A9 9 0 1 1 992.8 185.4A9 9 0 0 0 1005.4 172.8ZM1064.8 153.6A8 8 0 1 1 1053.6 164.8A8 8 0 0 0 1064.8 153.6ZM1162.7 79.8A10 10 0 1 1 1148.7 93.8A10 10 0 0 0 1162.7 79.8ZM1190.8 78.4A8 8 0 1 1 1179.6 89.6A8 8 0 0 0 1190.8 78.4ZM1220.8 130.3A8 8 0 1 1 1209.6 141.5A8 8 0 0 0 1220.8 130.3ZM1211.2 110.4A7 7 0 1 1 1201.4 120.2A7 7 0 0 0 1211.2 110.4ZM1259.2 171.6A8 8 0 1 1 1248 182.8A8 8 0 0 0 1259.2 171.6ZM1240.3 127.2A6 6 0 1 1 1231.9 135.6A6 6 0 0 0 1240.3 127.2ZM1196.8 132.2A13 13 0 1 1 1178.6 150.4A13 13 0 0 0 1196.8 132.2ZM1144.2 54.4A7 7 0 1 1 1134.4 64.2A7 7 0 0 0 1144.2 54.4ZM1173 56A5 5 0 1 1 1166 63A5 5 0 0 0 1173 56ZM1233 96A5 5 0 1 1 1226 103A5 5 0 0 0 1233 96ZM1269.2 204.4A7 7 0 1 1 1259.4 214.2A7 7 0 0 0 1269.2 204.4ZM1278.6 245.2A6 6 0 1 1 1270.2 253.6A6 6 0 0 0 1278.6 245.2ZM1267.4 292.8A9 9 0 1 1 1254.8 305.4A9 9 0 0 0 1267.4 292.8ZM1274.8 333.6A8 8 0 1 1 1263.6 344.8A8 8 0 0 0 1274.8 333.6ZM1243.6 365.2A6 6 0 1 1 1235.2 373.6A6 6 0 0 0 1243.6 365.2ZM1229.2 394.4A7 7 0 1 1 1219.4 404.2A7 7 0 0 0 1229.2 394.4ZM878.2 327.4A12 12 0 1 1 861.4 344.2A12 12 0 0 0 878.2 327.4ZM824.8 213.6A8 8 0 1 1 813.6 224.8A8 8 0 0 0 824.8 213.6ZM819.2 324.4A7 7 0 1 1 809.4 334.2A7 7 0 0 0 819.2 324.4ZM835.4 362.8A9 9 0 1 1 822.8 375.4A9 9 0 0 0 835.4 362.8ZM856 412A10 10 0 1 1 842 426A10 10 0 0 0 856 412ZM874.8 393.6A8 8 0 1 1 863.6 404.8A8 8 0 0 0 874.8 393.6ZM895.4 437.8A9 9 0 1 1 882.8 450.4A9 9 0 0 0 895.4 437.8ZM911 462A10 10 0 1 1 897 476A10 10 0 0 0 911 462ZM935.4 472.8A9 9 0 1 1 922.8 485.4A9 9 0 0 0 935.4 472.8ZM884.2 464.4A7 7 0 1 1 874.4 474.2A7 7 0 0 0 884.2 464.4ZM1189.1 272.8A12 12 0 1 1 1172.3 289.6A12 12 0 0 0 1189.1 272.8ZM1054.8 498.6A8 8 0 1 1 1043.6 509.8A8 8 0 0 0 1054.8 498.6ZM1015.4 492.8A9 9 0 1 1 1002.8 505.4A9 9 0 0 0 1015.4 492.8ZM994.2 484.4A7 7 0 1 1 984.4 494.2A7 7 0 0 0 994.2 484.4ZM1084.2 504.4A7 7 0 1 1 1074.4 514.2A7 7 0 0 0 1084.2 504.4ZM1116.6 471.2A11 11 0 1 1 1101.2 486.6A11 11 0 0 0 1116.6 471.2ZM1024.2 464.4A7 7 0 1 1 1014.4 474.2A7 7 0 0 0 1024.2 464.4ZM1164.8 463.6A8 8 0 1 1 1153.6 474.8A8 8 0 0 0 1164.8 463.6ZM1198.6 435.2A6 6 0 1 1 1190.2 443.6A6 6 0 0 0 1198.6 435.2ZM1213.6 455.2A6 6 0 1 1 1205.2 463.6A6 6 0 0 0 1213.6 455.2ZM1104.8 413.6A8 8 0 1 1 1093.6 424.8A8 8 0 0 0 1104.8 413.6ZM1058.8 385.6A6 6 0 1 1 1050.4 394A6 6 0 0 0 1058.8 385.6ZM941.9 293.4A2.5 2.5 0 1 1 938.4 296.9A2.5 2.5 0 0 0 941.9 293.4ZM853 417.5A2.5 2.5 0 1 1 849.5 421A2.5 2.5 0 0 0 853 417.5ZM1081.2 464.5A4 4 0 1 1 1075.6 470.1A4 4 0 0 0 1081.2 464.5ZM1090.3 54.7A4 4 0 1 1 1084.7 60.3A4 4 0 0 0 1090.3 54.7ZM1101.1 511.6A4 4 0 1 1 1095.5 517.2A4 4 0 0 0 1101.1 511.6ZM1088.6 154.5A4 4 0 1 1 1083 160.1A4 4 0 0 0 1088.6 154.5ZM991.3 502.5A5 5 0 1 1 984.3 509.5A5 5 0 0 0 991.3 502.5ZM1219.4 379.7A6 6 0 1 1 1211 388.1A6 6 0 0 0 1219.4 379.7ZM923.1 271.1A7 7 0 1 1 913.3 280.9A7 7 0 0 0 923.1 271.1ZM1002.8 515.2A4 4 0 1 1 997.2 520.8A4 4 0 0 0 1002.8 515.2ZM1197.4 285A4 4 0 1 1 1191.8 290.6A4 4 0 0 0 1197.4 285ZM1156.1 125.6A6 6 0 1 1 1147.7 134A6 6 0 0 0 1156.1 125.6ZM917.7 344.4A7 7 0 1 1 907.9 354.2A7 7 0 0 0 917.7 344.4ZM1127.4 408.3A2.5 2.5 0 1 1 1123.9 411.8A2.5 2.5 0 0 0 1127.4 408.3ZM1203.5 365.1A4 4 0 1 1 1197.9 370.7A4 4 0 0 0 1203.5 365.1ZM845.3 253.2A5 5 0 1 1 838.3 260.2A5 5 0 0 0 845.3 253.2ZM1174.9 443.5A3 3 0 1 1 1170.7 447.7A3 3 0 0 0 1174.9 443.5ZM937 344.6A7 7 0 1 1 927.2 354.4A7 7 0 0 0 937 344.6ZM1022.1 436A5 5 0 1 1 1015.1 443A5 5 0 0 0 1022.1 436ZM961.4 179.2A5 5 0 1 1 954.4 186.2A5 5 0 0 0 961.4 179.2ZM1127.3 336.6A4 4 0 1 1 1121.7 342.2A4 4 0 0 0 1127.3 336.6ZM1014.4 471A4 4 0 1 1 1008.8 476.6A4 4 0 0 0 1014.4 471ZM1220.8 444.9A4 4 0 1 1 1215.2 450.5A4 4 0 0 0 1220.8 444.9ZM957.4 302.7A3 3 0 1 1 953.2 306.9A3 3 0 0 0 957.4 302.7ZM1241 129.9A5 5 0 1 1 1234 136.9A5 5 0 0 0 1241 129.9ZM1195.7 295.6A3.5 3.5 0 1 1 1190.8 300.5A3.5 3.5 0 0 0 1195.7 295.6ZM1074.2 111.2A3 3 0 1 1 1070 115.4A3 3 0 0 0 1074.2 111.2ZM1014.9 400.7A7 7 0 1 1 1005.1 410.5A7 7 0 0 0 1014.9 400.7ZM1010.8 415.3A3.5 3.5 0 1 1 1005.9 420.2A3.5 3.5 0 0 0 1010.8 415.3ZM1006.7 351.5A2.5 2.5 0 1 1 1003.2 355A2.5 2.5 0 0 0 1006.7 351.5ZM892.7 322.9A5 5 0 1 1 885.7 329.9A5 5 0 0 0 892.7 322.9ZM1244 272.4A7 7 0 1 1 1234.2 282.2A7 7 0 0 0 1244 272.4ZM1218.9 258.5A4 4 0 1 1 1213.3 264.1A4 4 0 0 0 1218.9 258.5ZM1122.3 343.2A3.5 3.5 0 1 1 1117.4 348.1A3.5 3.5 0 0 0 1122.3 343.2ZM845.6 141.5A2.5 2.5 0 1 1 842.1 145A2.5 2.5 0 0 0 845.6 141.5ZM861 221.3A5 5 0 1 1 854 228.3A5 5 0 0 0 861 221.3ZM1162.2 276.5A4 4 0 1 1 1156.6 282.1A4 4 0 0 0 1162.2 276.5ZM1073.3 110.4A4 4 0 1 1 1067.7 116A4 4 0 0 0 1073.3 110.4ZM910.6 296.1A6 6 0 1 1 902.2 304.5A6 6 0 0 0 910.6 296.1ZM914.5 282.7A7 7 0 1 1 904.7 292.5A7 7 0 0 0 914.5 282.7ZM1050.1 513.1A4 4 0 1 1 1044.5 518.7A4 4 0 0 0 1050.1 513.1ZM958.3 279A4 4 0 1 1 952.7 284.6A4 4 0 0 0 958.3 279ZM1044 465.8A4 4 0 1 1 1038.4 471.4A4 4 0 0 0 1044 465.8ZM923.8 349A5 5 0 1 1 916.8 356A5 5 0 0 0 923.8 349ZM1274.5 354.8A3 3 0 1 1 1270.3 359A3 3 0 0 0 1274.5 354.8ZM1215.5 269.4A2.5 2.5 0 1 1 1212 272.9A2.5 2.5 0 0 0 1215.5 269.4ZM941.2 282A4 4 0 1 1 935.6 287.6A4 4 0 0 0 941.2 282ZM1223.5 195.8A3.5 3.5 0 1 1 1218.6 200.7A3.5 3.5 0 0 0 1223.5 195.8ZM942 453.6A5 5 0 1 1 935 460.6A5 5 0 0 0 942 453.6ZM1122.5 105.6A4 4 0 1 1 1116.9 111.2A4 4 0 0 0 1122.5 105.6ZM961.7 417.6A7 7 0 1 1 951.9 427.4A7 7 0 0 0 961.7 417.6ZM1266.1 388.2A4 4 0 1 1 1260.5 393.8A4 4 0 0 0 1266.1 388.2ZM1274.5 343.8A3.5 3.5 0 1 1 1269.6 348.7A3.5 3.5 0 0 0 1274.5 343.8ZM1062.4 134.9A2.5 2.5 0 1 1 1058.9 138.4A2.5 2.5 0 0 0 1062.4 134.9ZM1193.6 122.8A7 7 0 1 1 1183.8 132.6A7 7 0 0 0 1193.6 122.8ZM851.9 185A6 6 0 1 1 843.5 193.4A6 6 0 0 0 851.9 185ZM1063.5 357.6A3.5 3.5 0 1 1 1058.6 362.5A3.5 3.5 0 0 0 1063.5 357.6ZM1280 298.2A3 3 0 1 1 1275.8 302.4A3 3 0 0 0 1280 298.2ZM874.3 410.9A6 6 0 1 1 865.9 419.3A6 6 0 0 0 874.3 410.9ZM1185.6 145.5A4 4 0 1 1 1180 151.1A4 4 0 0 0 1185.6 145.5ZM1154.6 445.4A7 7 0 1 1 1144.8 455.2A7 7 0 0 0 1154.6 445.4ZM1197.8 190.4A3 3 0 1 1 1193.6 194.6A3 3 0 0 0 1197.8 190.4ZM1242.7 317.9A7 7 0 1 1 1232.9 327.7A7 7 0 0 0 1242.7 317.9ZM915.1 225.3A3.5 3.5 0 1 1 910.2 230.2A3.5 3.5 0 0 0 915.1 225.3ZM1147 306A2.5 2.5 0 1 1 1143.5 309.5A2.5 2.5 0 0 0 1147 306ZM1001.1 431.4A3 3 0 1 1 996.9 435.6A3 3 0 0 0 1001.1 431.4ZM1212.8 373.6A6 6 0 1 1 1204.4 382A6 6 0 0 0 1212.8 373.6ZM1117 511.9A6 6 0 1 1 1108.6 520.3A6 6 0 0 0 1117 511.9ZM1067.8 457.5A6 6 0 1 1 1059.4 465.9A6 6 0 0 0 1067.8 457.5ZM1141.4 340.6A5 5 0 1 1 1134.4 347.6A5 5 0 0 0 1141.4 340.6ZM876.7 262.2A7 7 0 1 1 866.9 272A7 7 0 0 0 876.7 262.2ZM1261.6 373.7A4 4 0 1 1 1256 379.3A4 4 0 0 0 1261.6 373.7ZM893.6 94.2A7 7 0 1 1 883.8 104A7 7 0 0 0 893.6 94.2ZM849.8 383.5A3.5 3.5 0 1 1 844.9 388.4A3.5 3.5 0 0 0 849.8 383.5ZM962.2 367.8A3.5 3.5 0 1 1 957.3 372.7A3.5 3.5 0 0 0 962.2 367.8ZM940.9 483.4A4 4 0 1 1 935.3 489A4 4 0 0 0 940.9 483.4ZM819.2 217.1A3.5 3.5 0 1 1 814.3 222A3.5 3.5 0 0 0 819.2 217.1ZM1200.4 284.4A3 3 0 1 1 1196.2 288.6A3 3 0 0 0 1200.4 284.4ZM837 293.9A7 7 0 1 1 827.2 303.7A7 7 0 0 0 837 293.9ZM864.9 245.8A6 6 0 1 1 856.5 254.2A6 6 0 0 0 864.9 245.8ZM1140.3 146.9A3.5 3.5 0 1 1 1135.4 151.8A3.5 3.5 0 0 0 1140.3 146.9ZM1248.2 261.4A2.5 2.5 0 1 1 1244.7 264.9A2.5 2.5 0 0 0 1248.2 261.4ZM931.3 178.4A7 7 0 1 1 921.5 188.2A7 7 0 0 0 931.3 178.4ZM1089 86.1A7 7 0 1 1 1079.2 95.9A7 7 0 0 0 1089 86.1ZM915 164.6A3.5 3.5 0 1 1 910.1 169.5A3.5 3.5 0 0 0 915 164.6ZM1046.5 475.2A5 5 0 1 1 1039.5 482.2A5 5 0 0 0 1046.5 475.2ZM1117.4 356A3.5 3.5 0 1 1 1112.5 360.9A3.5 3.5 0 0 0 1117.4 356ZM957.1 98.7A4 4 0 1 1 951.5 104.3A4 4 0 0 0 957.1 98.7ZM1182.1 182.9A5 5 0 1 1 1175.1 189.9A5 5 0 0 0 1182.1 182.9ZM941 70.4A3 3 0 1 1 936.8 74.6A3 3 0 0 0 941 70.4ZM851 416.7A3.5 3.5 0 1 1 846.1 421.6A3.5 3.5 0 0 0 851 416.7ZM969.2 422.1A3.5 3.5 0 1 1 964.3 427A3.5 3.5 0 0 0 969.2 422.1ZM1019.9 362.1A2.5 2.5 0 1 1 1016.4 365.6A2.5 2.5 0 0 0 1019.9 362.1ZM831.3 246.3A3 3 0 1 1 827.1 250.5A3 3 0 0 0 831.3 246.3ZM1118.4 65.4A3 3 0 1 1 1114.2 69.6A3 3 0 0 0 1118.4 65.4ZM1156.4 440.3A7 7 0 1 1 1146.6 450.1A7 7 0 0 0 1156.4 440.3ZM916.5 69.9A3 3 0 1 1 912.3 74.1A3 3 0 0 0 916.5 69.9ZM1063.1 35.5A3 3 0 1 1 1058.9 39.7A3 3 0 0 0 1063.1 35.5ZM1133 437.6A4 4 0 1 1 1127.4 443.2A4 4 0 0 0 1133 437.6ZM879.7 124.4A4 4 0 1 1 874.1 130A4 4 0 0 0 879.7 124.4ZM1174.4 110.5A4 4 0 1 1 1168.8 116.1A4 4 0 0 0 1174.4 110.5ZM1217.1 150.2A4 4 0 1 1 1211.5 155.8A4 4 0 0 0 1217.1 150.2ZM903.3 436.5A7 7 0 1 1 893.5 446.3A7 7 0 0 0 903.3 436.5ZM1184.7 176.9A6 6 0 1 1 1176.3 185.3A6 6 0 0 0 1184.7 176.9ZM1200.4 246.6A7 7 0 1 1 1190.6 256.4A7 7 0 0 0 1200.4 246.6ZM976.4 322.9A3.5 3.5 0 1 1 971.5 327.8A3.5 3.5 0 0 0 976.4 322.9ZM1190.5 170.7A5 5 0 1 1 1183.5 177.7A5 5 0 0 0 1190.5 170.7ZM910 373.6A2.5 2.5 0 1 1 906.5 377.1A2.5 2.5 0 0 0 910 373.6ZM1104.4 360.6A5 5 0 1 1 1097.4 367.6A5 5 0 0 0 1104.4 360.6ZM925.6 186A3 3 0 1 1 921.4 190.2A3 3 0 0 0 925.6 186ZM1056.1 94.6A7 7 0 1 1 1046.3 104.4A7 7 0 0 0 1056.1 94.6ZM1220.6 140.2A3.5 3.5 0 1 1 1215.7 145.1A3.5 3.5 0 0 0 1220.6 140.2ZM1137 232.4A3.5 3.5 0 1 1 1132.1 237.3A3.5 3.5 0 0 0 1137 232.4ZM1165.1 238.5A4 4 0 1 1 1159.5 244.1A4 4 0 0 0 1165.1 238.5ZM1187.2 295.3A3 3 0 1 1 1183 299.5A3 3 0 0 0 1187.2 295.3ZM1114.1 511.4A3 3 0 1 1 1109.9 515.6A3 3 0 0 0 1114.1 511.4ZM1119 346.3A4 4 0 1 1 1113.4 351.9A4 4 0 0 0 1119 346.3ZM891.4 149.8A3.5 3.5 0 1 1 886.5 154.7A3.5 3.5 0 0 0 891.4 149.8ZM1023.6 74.3A3.5 3.5 0 1 1 1018.7 79.2A3.5 3.5 0 0 0 1023.6 74.3ZM1203.3 129.3A5 5 0 1 1 1196.3 136.3A5 5 0 0 0 1203.3 129.3ZM973.4 77.2A3.5 3.5 0 1 1 968.5 82.1A3.5 3.5 0 0 0 973.4 77.2ZM926.4 276.3A4 4 0 1 1 920.8 281.9A4 4 0 0 0 926.4 276.3ZM948 288.5A3.5 3.5 0 1 1 943.1 293.4A3.5 3.5 0 0 0 948 288.5ZM1170.8 477.6A6 6 0 1 1 1162.4 486A6 6 0 0 0 1170.8 477.6ZM901.8 241.4A6 6 0 1 1 893.4 249.8A6 6 0 0 0 901.8 241.4ZM970.7 422.9A6 6 0 1 1 962.3 431.3A6 6 0 0 0 970.7 422.9ZM1193 261.4A2.5 2.5 0 1 1 1189.5 264.9A2.5 2.5 0 0 0 1193 261.4ZM973.2 489.2A3 3 0 1 1 969 493.4A3 3 0 0 0 973.2 489.2ZM1174.4 471A2.5 2.5 0 1 1 1170.9 474.5A2.5 2.5 0 0 0 1174.4 471ZM1071.4 466.2A7 7 0 1 1 1061.6 476A7 7 0 0 0 1071.4 466.2ZM1209.7 175.8A7 7 0 1 1 1199.9 185.6A7 7 0 0 0 1209.7 175.8ZM1261.6 271.8A6 6 0 1 1 1253.2 280.2A6 6 0 0 0 1261.6 271.8ZM983.2 385.9A4 4 0 1 1 977.6 391.5A4 4 0 0 0 983.2 385.9ZM1205.6 402.6A5 5 0 1 1 1198.6 409.6A5 5 0 0 0 1205.6 402.6ZM979.7 469A6 6 0 1 1 971.3 477.4A6 6 0 0 0 979.7 469ZM974.1 224.4A4 4 0 1 1 968.5 230A4 4 0 0 0 974.1 224.4ZM1039.8 509.3A4 4 0 1 1 1034.2 514.9A4 4 0 0 0 1039.8 509.3ZM1087.2 101.2A5 5 0 1 1 1080.2 108.2A5 5 0 0 0 1087.2 101.2ZM1084.8 180.5A4 4 0 1 1 1079.2 186.1A4 4 0 0 0 1084.8 180.5ZM1230.5 133.8A2.5 2.5 0 1 1 1227 137.3A2.5 2.5 0 0 0 1230.5 133.8ZM900 162.6A5 5 0 1 1 893 169.6A5 5 0 0 0 900 162.6ZM1161.1 224.2A2.5 2.5 0 1 1 1157.6 227.7A2.5 2.5 0 0 0 1161.1 224.2ZM857.5 280.5A4 4 0 1 1 851.9 286.1A4 4 0 0 0 857.5 280.5ZM1250.8 327.9A5 5 0 1 1 1243.8 334.9A5 5 0 0 0 1250.8 327.9ZM1094.8 45.7A4 4 0 1 1 1089.2 51.3A4 4 0 0 0 1094.8 45.7ZM1229.1 443.5A2.5 2.5 0 1 1 1225.6 447A2.5 2.5 0 0 0 1229.1 443.5ZM1171.3 337.6A4 4 0 1 1 1165.7 343.2A4 4 0 0 0 1171.3 337.6ZM985.6 220A2.5 2.5 0 1 1 982.1 223.5A2.5 2.5 0 0 0 985.6 220ZM1258.8 292.1A4 4 0 1 1 1253.2 297.7A4 4 0 0 0 1258.8 292.1ZM899 458.6A5 5 0 1 1 892 465.6A5 5 0 0 0 899 458.6ZM1109.8 138.7A6 6 0 1 1 1101.4 147.1A6 6 0 0 0 1109.8 138.7ZM934 154.1A3.5 3.5 0 1 1 929.1 159A3.5 3.5 0 0 0 934 154.1ZM839.5 406.3A4 4 0 1 1 833.9 411.9A4 4 0 0 0 839.5 406.3ZM910.5 223.9A4 4 0 1 1 904.9 229.5A4 4 0 0 0 910.5 223.9ZM998.6 111.4A3.5 3.5 0 1 1 993.7 116.3A3.5 3.5 0 0 0 998.6 111.4ZM1088.9 452.8A6 6 0 1 1 1080.5 461.2A6 6 0 0 0 1088.9 452.8ZM1182.5 215.7A6 6 0 1 1 1174.1 224.1A6 6 0 0 0 1182.5 215.7ZM1276.8 202.5A6 6 0 1 1 1268.4 210.9A6 6 0 0 0 1276.8 202.5ZM961.1 459.4A4 4 0 1 1 955.5 465A4 4 0 0 0 961.1 459.4ZM1029.7 380A6 6 0 1 1 1021.3 388.4A6 6 0 0 0 1029.7 380ZM1035 426.7A3.5 3.5 0 1 1 1030.1 431.6A3.5 3.5 0 0 0 1035 426.7ZM931.4 178.7A3.5 3.5 0 1 1 926.5 183.6A3.5 3.5 0 0 0 931.4 178.7ZM893.8 133.1A4 4 0 1 1 888.2 138.7A4 4 0 0 0 893.8 133.1ZM935 70.7A7 7 0 1 1 925.2 80.5A7 7 0 0 0 935 70.7ZM1065.5 75.8A2.5 2.5 0 1 1 1062 79.3A2.5 2.5 0 0 0 1065.5 75.8ZM810.8 346.4A3.5 3.5 0 1 1 805.9 351.3A3.5 3.5 0 0 0 810.8 346.4ZM1202.7 382.5A3 3 0 1 1 1198.5 386.7A3 3 0 0 0 1202.7 382.5ZM1232.3 438.6A4 4 0 1 1 1226.7 444.2A4 4 0 0 0 1232.3 438.6ZM1181 135.3A3.5 3.5 0 1 1 1176.1 140.2A3.5 3.5 0 0 0 1181 135.3ZM1133.1 222.2A3.5 3.5 0 1 1 1128.2 227.1A3.5 3.5 0 0 0 1133.1 222.2ZM1223 149.7A3.5 3.5 0 1 1 1218.1 154.6A3.5 3.5 0 0 0 1223 149.7ZM984.5 148.4A5 5 0 1 1 977.5 155.4A5 5 0 0 0 984.5 148.4ZM902 118.5A5 5 0 1 1 895 125.5A5 5 0 0 0 902 118.5ZM1171 267.6A4 4 0 1 1 1165.4 273.2A4 4 0 0 0 1171 267.6ZM1139.3 308A3.5 3.5 0 1 1 1134.4 312.9A3.5 3.5 0 0 0 1139.3 308ZM948.5 55A2.5 2.5 0 1 1 945 58.5A2.5 2.5 0 0 0 948.5 55ZM983 148.3A7 7 0 1 1 973.2 158.1A7 7 0 0 0 983 148.3ZM1152 358.7A3.5 3.5 0 1 1 1147.1 363.6A3.5 3.5 0 0 0 1152 358.7ZM895.1 400A7 7 0 1 1 885.3 409.8A7 7 0 0 0 895.1 400ZM892.5 235.7A6 6 0 1 1 884.1 244.1A6 6 0 0 0 892.5 235.7ZM1162.6 93.3A2.5 2.5 0 1 1 1159.1 96.8A2.5 2.5 0 0 0 1162.6 93.3ZM1115.5 424.6A4 4 0 1 1 1109.9 430.2A4 4 0 0 0 1115.5 424.6ZM1062.3 472.2A4 4 0 1 1 1056.7 477.8A4 4 0 0 0 1062.3 472.2ZM1242.7 198.6A6 6 0 1 1 1234.3 207A6 6 0 0 0 1242.7 198.6ZM908.7 438.9A4 4 0 1 1 903.1 444.5A4 4 0 0 0 908.7 438.9ZM1106.1 426.8A4 4 0 1 1 1100.5 432.4A4 4 0 0 0 1106.1 426.8ZM1160.1 293.2A4 4 0 1 1 1154.5 298.8A4 4 0 0 0 1160.1 293.2ZM1148.2 83.9A7 7 0 1 1 1138.4 93.7A7 7 0 0 0 1148.2 83.9ZM1274.8 189.2A6 6 0 1 1 1266.4 197.6A6 6 0 0 0 1274.8 189.2ZM1177.2 487.4A7 7 0 1 1 1167.4 497.2A7 7 0 0 0 1177.2 487.4ZM999.6 344.3A3.5 3.5 0 1 1 994.7 349.2A3.5 3.5 0 0 0 999.6 344.3ZM843.8 347A6 6 0 1 1 835.4 355.4A6 6 0 0 0 843.8 347ZM1084.6 431.3A2.5 2.5 0 1 1 1081.1 434.8A2.5 2.5 0 0 0 1084.6 431.3ZM1189.9 168.1A2.5 2.5 0 1 1 1186.4 171.6A2.5 2.5 0 0 0 1189.9 168.1ZM1132.6 459.2A5 5 0 1 1 1125.6 466.2A5 5 0 0 0 1132.6 459.2ZM872.7 154A2.5 2.5 0 1 1 869.2 157.5A2.5 2.5 0 0 0 872.7 154ZM945.5 371.2A3.5 3.5 0 1 1 940.6 376.1A3.5 3.5 0 0 0 945.5 371.2ZM963.6 197.3A4 4 0 1 1 958 202.9A4 4 0 0 0 963.6 197.3ZM1071 493A5 5 0 1 1 1064 500A5 5 0 0 0 1071 493ZM1125.1 416.8A5 5 0 1 1 1118.1 423.8A5 5 0 0 0 1125.1 416.8ZM1039.2 436.4A2.5 2.5 0 1 1 1035.7 439.9A2.5 2.5 0 0 0 1039.2 436.4ZM891.7 233.8A4 4 0 1 1 886.1 239.4A4 4 0 0 0 891.7 233.8ZM819.9 287.1A3 3 0 1 1 815.7 291.3A3 3 0 0 0 819.9 287.1ZM1194.3 146.2A3.5 3.5 0 1 1 1189.4 151.1A3.5 3.5 0 0 0 1194.3 146.2ZM1179.5 446.3A2.5 2.5 0 1 1 1176 449.8A2.5 2.5 0 0 0 1179.5 446.3ZM892.9 240.7A3 3 0 1 1 888.7 244.9A3 3 0 0 0 892.9 240.7ZM1023.8 187.3A3.5 3.5 0 1 1 1018.9 192.2A3.5 3.5 0 0 0 1023.8 187.3ZM908.4 240.2A2.5 2.5 0 1 1 904.9 243.7A2.5 2.5 0 0 0 908.4 240.2ZM982.4 502.9A4 4 0 1 1 976.8 508.5A4 4 0 0 0 982.4 502.9ZM1093.7 452A4 4 0 1 1 1088.1 457.6A4 4 0 0 0 1093.7 452ZM832.4 239.1A2.5 2.5 0 1 1 828.9 242.6A2.5 2.5 0 0 0 832.4 239.1ZM1162.7 180.4A6 6 0 1 1 1154.3 188.8A6 6 0 0 0 1162.7 180.4ZM1201.5 321.8A5 5 0 1 1 1194.5 328.8A5 5 0 0 0 1201.5 321.8ZM1203.5 354.9A3 3 0 1 1 1199.3 359.1A3 3 0 0 0 1203.5 354.9ZM1117 67.8A2.5 2.5 0 1 1 1113.5 71.3A2.5 2.5 0 0 0 1117 67.8ZM1000 502.9A4 4 0 1 1 994.4 508.5A4 4 0 0 0 1000 502.9ZM1102.4 159A3 3 0 1 1 1098.2 163.2A3 3 0 0 0 1102.4 159ZM1130.1 278.7A2.5 2.5 0 1 1 1126.6 282.2A2.5 2.5 0 0 0 1130.1 278.7ZM1228.8 225.5A6 6 0 1 1 1220.4 233.9A6 6 0 0 0 1228.8 225.5ZM1220.5 351.6A5 5 0 1 1 1213.5 358.6A5 5 0 0 0 1220.5 351.6ZM947.1 103.5A2.5 2.5 0 1 1 943.6 107A2.5 2.5 0 0 0 947.1 103.5ZM1012.5 184.3A6 6 0 1 1 1004.1 192.7A6 6 0 0 0 1012.5 184.3ZM1277.7 224.5A5 5 0 1 1 1270.7 231.5A5 5 0 0 0 1277.7 224.5ZM841.5 260.9A3.5 3.5 0 1 1 836.6 265.8A3.5 3.5 0 0 0 841.5 260.9ZM950.8 220A3 3 0 1 1 946.6 224.2A3 3 0 0 0 950.8 220ZM981.9 230.9A2.5 2.5 0 1 1 978.4 234.4A2.5 2.5 0 0 0 981.9 230.9ZM1070.3 87.3A6 6 0 1 1 1061.9 95.7A6 6 0 0 0 1070.3 87.3ZM1077.7 83.7A3.5 3.5 0 1 1 1072.8 88.6A3.5 3.5 0 0 0 1077.7 83.7ZM861.1 248.9A4 4 0 1 1 855.5 254.5A4 4 0 0 0 861.1 248.9ZM1225.6 259.8A7 7 0 1 1 1215.8 269.6A7 7 0 0 0 1225.6 259.8ZM1242.5 277.3A2.5 2.5 0 1 1 1239 280.8A2.5 2.5 0 0 0 1242.5 277.3ZM878.3 184.1A4 4 0 1 1 872.7 189.7A4 4 0 0 0 878.3 184.1ZM1035.6 471.7A7 7 0 1 1 1025.8 481.5A7 7 0 0 0 1035.6 471.7ZM1163.4 235.8A3.5 3.5 0 1 1 1158.5 240.7A3.5 3.5 0 0 0 1163.4 235.8ZM987.5 415.5A5 5 0 1 1 980.5 422.5A5 5 0 0 0 987.5 415.5ZM996.3 96.7A4 4 0 1 1 990.7 102.3A4 4 0 0 0 996.3 96.7ZM1020 508.4A3.5 3.5 0 1 1 1015.1 513.3A3.5 3.5 0 0 0 1020 508.4ZM956.3 490.1A5 5 0 1 1 949.3 497.1A5 5 0 0 0 956.3 490.1ZM965.1 176.8A7 7 0 1 1 955.3 186.6A7 7 0 0 0 965.1 176.8ZM1250.6 419.3A2.5 2.5 0 1 1 1247.1 422.8A2.5 2.5 0 0 0 1250.6 419.3ZM953.8 267A2.5 2.5 0 1 1 950.3 270.5A2.5 2.5 0 0 0 953.8 267ZM1197 131.6A3.5 3.5 0 1 1 1192.1 136.5A3.5 3.5 0 0 0 1197 131.6ZM1073.1 415.3A6 6 0 1 1 1064.7 423.7A6 6 0 0 0 1073.1 415.3ZM896 409.2A6 6 0 1 1 887.6 417.6A6 6 0 0 0 896 409.2ZM1020.4 381.8A2.5 2.5 0 1 1 1016.9 385.3A2.5 2.5 0 0 0 1020.4 381.8ZM1126.7 334.3A2.5 2.5 0 1 1 1123.2 337.8A2.5 2.5 0 0 0 1126.7 334.3ZM950.5 356.8A2.5 2.5 0 1 1 947 360.3A2.5 2.5 0 0 0 950.5 356.8ZM819.8 190.6A5 5 0 1 1 812.8 197.6A5 5 0 0 0 819.8 190.6ZM814.4 266.3A3.5 3.5 0 1 1 809.5 271.2A3.5 3.5 0 0 0 814.4 266.3ZM1211.3 277.2A6 6 0 1 1 1202.9 285.6A6 6 0 0 0 1211.3 277.2ZM885.6 196.1A6 6 0 1 1 877.2 204.5A6 6 0 0 0 885.6 196.1ZM947.1 244A3.5 3.5 0 1 1 942.2 248.9A3.5 3.5 0 0 0 947.1 244ZM1190.3 364.1A4 4 0 1 1 1184.7 369.7A4 4 0 0 0 1190.3 364.1ZM1048.2 172.3A3 3 0 1 1 1044 176.5A3 3 0 0 0 1048.2 172.3ZM1173 403.6A5 5 0 1 1 1166 410.6A5 5 0 0 0 1173 403.6ZM1060.3 43.5A5 5 0 1 1 1053.3 50.5A5 5 0 0 0 1060.3 43.5ZM925 365.3A6 6 0 1 1 916.6 373.7A6 6 0 0 0 925 365.3ZM1220.2 147.4A5 5 0 1 1 1213.2 154.4A5 5 0 0 0 1220.2 147.4ZM1227.4 112.4A3 3 0 1 1 1223.2 116.6A3 3 0 0 0 1227.4 112.4ZM1006.2 108.8A5 5 0 1 1 999.2 115.8A5 5 0 0 0 1006.2 108.8ZM1188.5 143.9A3.5 3.5 0 1 1 1183.6 148.8A3.5 3.5 0 0 0 1188.5 143.9ZM1180.3 209.6A5 5 0 1 1 1173.3 216.6A5 5 0 0 0 1180.3 209.6ZM865.6 238A4 4 0 1 1 860 243.6A4 4 0 0 0 865.6 238ZM881.3 132.8A4 4 0 1 1 875.7 138.4A4 4 0 0 0 881.3 132.8ZM1164.2 164.5A6 6 0 1 1 1155.8 172.9A6 6 0 0 0 1164.2 164.5ZM872.3 348.8A3 3 0 1 1 868.1 353A3 3 0 0 0 872.3 348.8ZM808.3 284.9A6 6 0 1 1 799.9 293.3A6 6 0 0 0 808.3 284.9ZM1063.3 99.6A4 4 0 1 1 1057.7 105.2A4 4 0 0 0 1063.3 99.6ZM1098.9 426.9A3.5 3.5 0 1 1 1094 431.8A3.5 3.5 0 0 0 1098.9 426.9ZM1029.5 488.6A7 7 0 1 1 1019.7 498.4A7 7 0 0 0 1029.5 488.6ZM1082.3 55A7 7 0 1 1 1072.5 64.8A7 7 0 0 0 1082.3 55ZM1244.2 183.5A5 5 0 1 1 1237.2 190.5A5 5 0 0 0 1244.2 183.5ZM883.7 122.4A2.5 2.5 0 1 1 880.2 125.9A2.5 2.5 0 0 0 883.7 122.4ZM1038 70.9A4 4 0 1 1 1032.4 76.5A4 4 0 0 0 1038 70.9ZM871.1 163.4A3.5 3.5 0 1 1 866.2 168.3A3.5 3.5 0 0 0 871.1 163.4ZM1148.7 131.8A4 4 0 1 1 1143.1 137.4A4 4 0 0 0 1148.7 131.8ZM1102 337.5A4 4 0 1 1 1096.4 343.1A4 4 0 0 0 1102 337.5ZM1064.9 156.7A5 5 0 1 1 1057.9 163.7A5 5 0 0 0 1064.9 156.7ZM1150.7 112.9A4 4 0 1 1 1145.1 118.5A4 4 0 0 0 1150.7 112.9ZM1104 79.9A2.5 2.5 0 1 1 1100.5 83.4A2.5 2.5 0 0 0 1104 79.9ZM848.2 355.8A4 4 0 1 1 842.6 361.4A4 4 0 0 0 848.2 355.8ZM1082.7 500.2A3 3 0 1 1 1078.5 504.4A3 3 0 0 0 1082.7 500.2ZM929.2 244.2A4 4 0 1 1 923.6 249.8A4 4 0 0 0 929.2 244.2ZM1178.1 282.6A4 4 0 1 1 1172.5 288.2A4 4 0 0 0 1178.1 282.6ZM1065.7 358.5A7 7 0 1 1 1055.9 368.3A7 7 0 0 0 1065.7 358.5ZM982 404.6A6 6 0 1 1 973.6 413A6 6 0 0 0 982 404.6ZM860.6 178.2A5 5 0 1 1 853.6 185.2A5 5 0 0 0 860.6 178.2ZM934.8 99.5A4 4 0 1 1 929.2 105.1A4 4 0 0 0 934.8 99.5ZM1040.1 374.4A5 5 0 1 1 1033.1 381.4A5 5 0 0 0 1040.1 374.4ZM1128.2 220.1A6 6 0 1 1 1119.8 228.5A6 6 0 0 0 1128.2 220.1ZM1240.6 368.8A2.5 2.5 0 1 1 1237.1 372.3A2.5 2.5 0 0 0 1240.6 368.8ZM881.6 290A3 3 0 1 1 877.4 294.2A3 3 0 0 0 881.6 290ZM1251.9 200.6A3 3 0 1 1 1247.7 204.8A3 3 0 0 0 1251.9 200.6ZM1171 98.3A7 7 0 1 1 1161.2 108.1A7 7 0 0 0 1171 98.3ZM999.8 111.1A6 6 0 1 1 991.4 119.5A6 6 0 0 0 999.8 111.1ZM1143.9 224.1A3.5 3.5 0 1 1 1139 229A3.5 3.5 0 0 0 1143.9 224.1ZM1247.4 319.5A7 7 0 1 1 1237.6 329.3A7 7 0 0 0 1247.4 319.5ZM1149.1 148.2A6 6 0 1 1 1140.7 156.6A6 6 0 0 0 1149.1 148.2ZM1051.8 481.8A4 4 0 1 1 1046.2 487.4A4 4 0 0 0 1051.8 481.8ZM917.8 215.1A5 5 0 1 1 910.8 222.1A5 5 0 0 0 917.8 215.1ZM1156.4 178.1A3 3 0 1 1 1152.2 182.3A3 3 0 0 0 1156.4 178.1ZM1169.3 463.8A3.5 3.5 0 1 1 1164.4 468.7A3.5 3.5 0 0 0 1169.3 463.8ZM988.2 122.9A3.5 3.5 0 1 1 983.3 127.8A3.5 3.5 0 0 0 988.2 122.9ZM931.2 115.8A4 4 0 1 1 925.6 121.4A4 4 0 0 0 931.2 115.8ZM953.8 240.4A3 3 0 1 1 949.6 244.6A3 3 0 0 0 953.8 240.4ZM1083.5 192.8A7 7 0 1 1 1073.7 202.6A7 7 0 0 0 1083.5 192.8ZM953.5 97.5A2.5 2.5 0 1 1 950 101A2.5 2.5 0 0 0 953.5 97.5ZM1007.2 502A4 4 0 1 1 1001.6 507.6A4 4 0 0 0 1007.2 502ZM1155.2 372.1A6 6 0 1 1 1146.8 380.5A6 6 0 0 0 1155.2 372.1ZM1017.6 515A2.5 2.5 0 1 1 1014.1 518.5A2.5 2.5 0 0 0 1017.6 515ZM1177.5 375.4A3.5 3.5 0 1 1 1172.6 380.3A3.5 3.5 0 0 0 1177.5 375.4ZM1031.3 79.8A5 5 0 1 1 1024.3 86.8A5 5 0 0 0 1031.3 79.8ZM1257.4 210.1A7 7 0 1 1 1247.6 219.9A7 7 0 0 0 1257.4 210.1ZM1168.6 250.8A3.5 3.5 0 1 1 1163.7 255.7A3.5 3.5 0 0 0 1168.6 250.8ZM1002.9 355.9A4 4 0 1 1 997.3 361.5A4 4 0 0 0 1002.9 355.9ZM1119.7 453A5 5 0 1 1 1112.7 460A5 5 0 0 0 1119.7 453ZM1135.7 367.7A5 5 0 1 1 1128.7 374.7A5 5 0 0 0 1135.7 367.7ZM897.3 194.2A7 7 0 1 1 887.5 204A7 7 0 0 0 897.3 194.2ZM885.2 464.4A3 3 0 1 1 881 468.6A3 3 0 0 0 885.2 464.4Z"/>
<path fill="#151515" opacity="0.35" d="M1138.2 185A16 16 0 1 1 1160.6 162.6A16 16 0 0 0 1138.2 185ZM1174.3 190A15 15 0 1 1 1195.3 169A15 15 0 0 0 1174.3 190ZM825.6 290.2A19 19 0 1 1 852.2 263.6A19 19 0 0 0 825.6 290.2ZM949.7 383.9A18 18 0 1 1 974.9 358.7A18 18 0 0 0 949.7 383.9ZM1122.8 401.1A37 37 0 1 1 1174.6 349.3A37 37 0 0 0 1122.8 401.1Z"/>
<path fill="#d5d5d5" opacity="0.45" d="M1158.5 160.3A16 16 0 1 1 1135.9 182.9A16 16 0 0 0 1158.5 160.3ZM1193.3 166.8A15 15 0 1 1 1172.1 188A15 15 0 0 0 1193.3 166.8ZM849.7 260.8A19 19 0 1 1 822.8 287.7A19 19 0 0 0 849.7 260.8ZM972.5 356.1A18 18 0 1 1 947.1 381.5A18 18 0 0 0 972.5 356.1ZM1169.6 343.9A37 37 0 1 1 1117.4 396.1A37 37 0 0 0 1169.6 343.9Z"/>
<circle cx="838" cy="276" r="19" fill="#8a8a8a" opacity="0.5"/><circle cx="838" cy="276" r="18.5" fill="none" stroke="#e0e0e0" stroke-width="1.8" opacity="0.9"/><path d="M821 270A18 18 0 0 1 835 258" stroke="#202020" stroke-width="2.5" fill="none" opacity="0.6"/><circle cx="822" cy="300" r="9" fill="none" stroke="#cfcfcf" stroke-width="1.2" opacity="0.7"/>
<circle cx="960.5" cy="369.5" r="18" fill="#000" opacity="0.2"/><circle cx="1145" cy="371.5" r="37" fill="#000" opacity="0.08"/>
<path fill="#000" opacity="0.2" filter="url(#bl)" d="M865 150L880 120L920 100L960 85L990 72L1020 70L1060 72L1090 80L1110 95L1130 98L1150 110L1175 140L1195 160L1215 185L1235 215L1250 240L1255 280L1250 330L1225 345L1205 380L1192 410L1172 430L1150 448L1131 463L1092 485L1034 492L990 487L956 477L918 454L895 431L879 407L862 386L850 362L843 332L840 300L840 260L845 210L850 180Z"/>
<path d="M1070 75h2M1070 87h2M1044 89h4M1070 89h2M1044 91h6M1044 93h2M1066 93h4M1072 93h2M1046 95h2M1050 95h2M1064 95h4M1070 95h4M1030 97h4M1064 97h2M1070 97h4M1024 99h10M1064 99h2M1070 99h2M1020 101h2M1024 101h4M1110 101h4M1020 103h8M1032 103h4M1050 103h4M1110 103h4M926 109h4M926 111h6M926 113h4M1044 113h2M1042 115h4M1086 119h2M1086 121h2M1184 125h4M1186 127h2M1062 129h2M1186 129h2M1028 131h6M1062 131h6M896 133h2M1028 133h6M1064 133h4M896 135h4M1028 135h4M1064 135h4M1156 135h2M1174 139h2M1082 141h6M960 143h2M1082 143h6M984 145h4M1084 145h4M986 147h2M1064 147h2M1068 147h2M1062 149h8M1000 151h4M1062 151h8M1000 153h4M1060 153h8M1128 153h2M1134 153h2M1156 153h2M1062 155h4M1124 155h4M1134 155h2M1152 155h2M1158 155h2M1066 157h2M1110 157h2M1120 157h10M1132 157h2M1158 157h2M1112 159h4M1124 159h6M1152 159h8M1128 165h2M1124 171h2M868 173h2M1124 173h2M1152 173h2M902 175h2M912 175h6M1076 175h2M1080 175h2M1120 175h6M1150 175h4M910 177h8M946 177h4M1076 177h8M1116 177h4M1122 177h4M1150 177h4M910 179h6M980 179h2M1076 179h8M1116 179h4M1126 179h2M978 181h4M1020 181h2M1076 181h8M1116 181h2M1122 181h2M1126 181h4M1158 181h4M1164 181h2M1116 183h6M1156 183h4M1164 183h2M1068 185h2M1072 185h4M1156 185h2M1160 185h6M1168 185h2M1070 187h4M1160 187h2M1172 187h2M1000 189h2M1170 189h2M1174 189h2M1000 191h4M1170 191h2M1174 191h2M1098 193h8M1194 193h2M1096 195h2M1100 195h4M1058 197h2M1120 197h4M872 199h6M1060 199h4M1070 199h4M1094 199h4M1100 199h2M1118 199h4M1124 199h2M872 201h10M970 201h4M1046 201h6M1096 201h2M1100 201h2M1118 201h2M1126 201h2M874 203h10M928 203h2M970 203h2M974 203h2M1042 203h8M1052 203h2M1096 203h2M1118 203h6M1126 203h2M876 205h8M928 205h2M934 205h2M970 205h6M1042 205h12M1056 205h2M1120 205h8M878 207h2M928 207h6M970 207h2M1040 207h2M1046 207h4M1120 207h6M930 209h2M936 209h2M942 209h2M972 209h2M980 209h4M1040 209h4M1144 209h4M930 211h16M980 211h4M1036 211h6M1122 211h4M1146 211h2M930 213h4M936 213h4M942 213h4M1036 213h4M1090 213h6M1190 213h2M868 215h2M932 215h8M942 215h2M1072 215h2M1090 215h8M1188 215h8M936 217h2M1090 217h8M1188 217h4M1194 217h4M1200 217h2M962 219h2M1094 219h8M1194 219h2M1198 219h6M876 221h4M962 221h2M994 221h6M1042 221h2M1096 221h6M1190 221h6M1200 221h4M876 223h6M994 223h6M1040 223h6M1098 223h4M1106 223h4M1192 223h4M1198 223h6M874 225h8M994 225h4M1066 225h2M1100 225h4M1174 225h4M1196 225h6M878 227h4M1098 227h4M1106 227h6M1170 227h2M1174 227h2M1192 227h2M1196 227h4M1062 229h4M1098 229h4M1104 229h2M1108 229h2M1172 229h2M1196 229h2M910 231h6M1052 231h2M1062 231h2M1156 231h6M910 233h6M1048 233h8M1064 233h2M1088 233h2M1154 233h12M912 235h4M952 235h6M1048 235h2M1052 235h2M1084 235h2M1152 235h2M1156 235h10M952 237h8M1006 237h4M1048 237h4M1086 237h2M1152 237h12M952 239h2M956 239h2M1102 239h2M1124 239h4M1140 239h2M1152 239h6M952 241h4M1102 241h2M1126 241h4M1152 241h4M1160 241h4M1102 243h4M1154 243h12M980 245h2M1056 245h2M1108 245h4M1160 245h6M1108 247h4M1158 247h8M1214 247h2M908 249h4M918 249h2M1108 249h2M1134 249h4M1158 249h8M1214 249h2M898 251h2M908 251h2M914 251h6M1088 251h2M1098 251h2M1108 251h2M1114 251h2M1160 251h6M898 253h2M912 253h4M1042 253h8M1084 253h4M1096 253h4M1104 253h2M1108 253h2M1114 253h2M1164 253h2M1222 253h4M906 255h12M1014 255h2M1042 255h10M1076 255h2M1082 255h2M1086 255h2M1100 255h6M1108 255h4M1222 255h4M906 257h4M914 257h4M1010 257h2M1014 257h4M1042 257h2M1046 257h4M1074 257h2M1086 257h2M1108 257h2M1112 257h4M1222 257h4M980 259h4M1014 259h2M1046 259h4M1072 259h6M1080 259h2M1108 259h2M1114 259h2M1210 259h4M908 261h6M980 261h4M1010 261h2M1032 261h4M1070 261h2M1076 261h2M1104 261h2M1208 261h8M910 263h4M980 263h4M1014 263h2M1018 263h4M1034 263h4M1070 263h2M1076 263h2M1118 263h2M1206 263h2M1212 263h6M966 265h4M972 265h2M980 265h4M1014 265h6M1034 265h4M1212 265h4M966 267h4M972 267h12M1034 267h6M1044 267h4M1086 267h2M1210 267h2M966 269h2M970 269h4M978 269h4M1044 269h4M1084 269h2M1106 269h6M920 271h4M972 271h2M978 271h4M1046 271h4M1084 271h2M918 273h6M970 273h2M1042 273h4M1102 273h2M1108 273h2M918 275h8M936 275h4M1042 275h8M1102 275h8M918 277h2M924 277h2M934 277h6M950 277h2M1040 277h8M1076 277h2M1102 277h4M1108 277h2M846 279h2M916 279h6M934 279h8M950 279h2M1040 279h2M1074 279h6M1106 279h2M1192 279h2M844 281h6M888 281h4M916 281h8M936 281h8M972 281h2M1016 281h2M1068 281h2M1122 281h2M1190 281h4M886 283h6M918 283h2M936 283h8M972 283h2M976 283h2M980 283h2M990 283h4M1066 283h2M1120 283h6M886 285h4M918 285h2M936 285h8M976 285h2M990 285h6M1124 285h2M1214 285h4M900 287h2M916 287h8M940 287h2M976 287h4M986 287h10M1112 287h2M1122 287h4M1216 287h4M898 289h2M922 289h6M930 289h2M984 289h12M1022 289h2M1096 289h2M1110 289h2M1114 289h2M1148 289h2M1216 289h2M898 291h4M912 291h2M918 291h8M930 291h2M940 291h4M986 291h2M994 291h2M1102 291h12M1148 291h4M1170 291h2M898 293h2M912 293h2M916 293h10M930 293h2M942 293h2M964 293h2M968 293h2M1052 293h4M1062 293h2M1106 293h6M1148 293h10M898 295h2M910 295h2M922 295h2M928 295h2M956 295h2M960 295h4M968 295h4M984 295h4M1062 295h2M1086 295h4M1106 295h10M1122 295h2M1130 295h4M1148 295h4M1154 295h4M900 297h4M922 297h2M958 297h4M968 297h4M994 297h2M1082 297h2M1086 297h8M1106 297h2M1110 297h4M1116 297h2M1122 297h2M1128 297h6M1148 297h4M886 299h6M898 299h6M960 299h2M968 299h4M994 299h2M1118 299h2M1124 299h2M1132 299h2M1146 299h10M886 301h2M890 301h2M926 301h2M956 301h4M964 301h2M998 301h2M1130 301h2M1134 301h4M1146 301h2M1154 301h2M926 303h4M958 303h2M988 303h4M1066 303h2M1108 303h4M1136 303h2M1146 303h4M886 305h2M908 305h4M926 305h6M988 305h6M1064 305h2M1068 305h6M1110 305h2M1136 305h4M1148 305h2M856 307h2M884 307h2M890 307h4M908 307h4M926 307h6M996 307h4M1064 307h2M1068 307h4M1110 307h2M1138 307h2M1148 307h10M852 309h6M888 309h6M910 309h2M928 309h2M988 309h2M996 309h2M1002 309h4M1070 309h2M1134 309h4M1154 309h4M852 311h6M926 311h2M990 311h2M996 311h6M1010 311h2M1018 311h2M1044 311h2M1066 311h4M1154 311h2M1158 311h4M1164 311h2M852 313h6M912 313h4M992 313h2M1014 313h2M1068 313h2M1090 313h2M1096 313h2M1154 313h2M1162 313h2M1166 313h2M1202 313h2M852 315h4M912 315h4M918 315h2M988 315h6M1008 315h4M1090 315h2M1200 315h6M854 317h2M918 317h2M986 317h8M1090 317h4M1200 317h6M910 319h8M976 319h2M986 319h8M1096 319h2M1172 319h2M878 321h2M908 321h4M968 321h2M876 323h4M882 323h2M904 323h2M908 323h6M968 323h2M990 323h2M882 325h2M904 325h8M964 325h6M986 325h6M1008 325h4M880 327h2M908 327h2M964 327h10M984 327h4M1016 327h2M1080 327h2M878 329h6M910 329h2M964 329h12M984 329h4M1080 329h4M880 331h4M906 331h6M942 331h4M964 331h12M984 331h4M1018 331h4M882 333h2M900 333h2M940 333h4M968 333h6M986 333h2M1012 333h12M884 335h2M890 335h2M900 335h2M986 335h2M1014 335h6M1126 335h2M1162 335h4M888 337h12M970 337h4M1088 337h4M1158 337h2M1164 337h2M1180 337h2M880 339h6M890 339h10M968 339h8M978 339h6M1022 339h2M1072 339h2M1076 339h2M1088 339h4M1160 339h8M1178 339h6M884 341h4M892 341h6M968 341h8M978 341h4M1016 341h4M1090 341h4M1170 341h2M1180 341h2M882 343h4M934 343h2M970 343h6M1014 343h6M1034 343h2M1038 343h2M1094 343h2M1114 343h4M1178 343h6M918 345h6M1016 345h2M1034 345h2M1038 345h2M1098 345h18M1178 345h4M918 347h4M1010 347h2M1022 347h2M1028 347h2M1078 347h2M1096 347h4M1102 347h6M1112 347h2M1180 347h2M1014 349h4M1024 349h4M1104 349h2M1108 349h8M952 351h4M990 351h4M1016 351h4M1024 351h4M1102 351h2M1114 351h2M932 353h4M944 353h4M950 353h6M992 353h4M1022 353h8M1072 353h2M1112 353h2M948 355h6M1026 355h6M1044 355h4M1070 355h4M894 357h4M938 357h2M944 357h2M1024 357h10M1044 357h4M1068 357h6M1088 357h2M1092 357h4M894 359h4M936 359h4M1026 359h8M1068 359h2M1086 359h4M1094 359h2M872 361h2M884 361h2M896 361h2M1028 361h6M1084 361h2M1088 361h2M872 363h2M1022 363h2M1026 363h4M1032 363h2M1044 363h2M1086 363h2M1090 363h2M1180 363h2M1184 363h2M872 365h2M944 365h2M1012 365h6M1028 365h2M1034 365h4M1086 365h2M1090 365h2M1180 365h2M1184 365h2M1018 367h2M1090 367h2M1020 369h2M1018 371h2M1066 371h2M1024 373h2M1030 373h2M1060 373h2M1068 373h2M1066 375h4M926 377h2M930 377h4M1022 377h2M1062 377h2M924 379h6M1020 379h2M928 381h2M942 381h4M994 381h4M1020 381h4M930 383h6M942 383h4M970 383h2M994 383h2M1000 383h2M1088 383h2M1120 383h6M926 385h2M940 385h4M946 385h2M970 385h2M992 385h6M1000 385h2M1084 385h6M1120 385h6M1178 385h2M926 387h2M942 387h2M968 387h4M992 387h2M998 387h2M1082 387h8M1120 387h4M1180 387h4M942 389h2M980 389h4M996 389h2M1082 389h2M1086 389h2M1100 389h2M1120 389h2M1180 389h2M868 391h2M924 391h4M930 391h2M982 391h4M1100 391h2M1176 391h6M868 393h4M910 393h8M930 393h2M984 393h2M1066 393h12M1080 393h4M1088 393h2M1172 393h2M1176 393h2M1180 393h2M868 395h4M894 395h2M916 395h2M926 395h2M982 395h2M1022 395h4M1064 395h4M1072 395h2M1076 395h2M1080 395h4M1088 395h2M1100 395h2M1178 395h2M912 397h2M1022 397h2M1064 397h2M1068 397h2M1072 397h4M1084 397h6M1102 397h2M1170 397h2M930 399h2M992 399h4M1084 399h2M1088 399h4M1102 399h8M1174 399h2M928 401h4M990 401h4M1068 401h4M1100 401h2M1104 401h2M1108 401h2M928 403h2M958 403h2M988 403h6M1026 403h2M1108 403h2M1162 403h2M884 405h6M946 405h2M950 405h2M956 405h4M1026 405h6M1034 405h4M1100 405h6M1112 405h4M1124 405h4M1156 405h10M882 407h8M942 407h4M948 407h18M1038 407h2M1098 407h6M1112 407h4M1126 407h2M1132 407h2M1156 407h2M1162 407h2M884 409h6M932 409h8M942 409h14M958 409h8M1038 409h2M1094 409h6M1114 409h4M1128 409h2M1154 409h6M1162 409h2M928 411h8M938 411h2M944 411h4M950 411h2M956 411h10M1034 411h6M1042 411h2M1056 411h2M1096 411h4M1154 411h6M1186 411h2M928 413h6M942 413h4M958 413h8M1052 413h4M1058 413h2M1122 413h2M1184 413h6M928 415h4M942 415h2M958 415h8M1054 415h8M1100 415h2M1124 415h2M1186 415h2M914 417h2M928 417h6M956 417h10M968 417h2M1056 417h2M1060 417h8M1100 417h2M1122 417h2M914 419h2M918 419h2M930 419h2M966 419h2M972 419h4M1060 419h2M1064 419h4M1070 419h2M1098 419h2M1102 419h4M914 421h2M978 421h8M1072 421h2M1104 421h2M914 423h6M942 423h2M976 423h2M1030 423h6M1116 423h2M914 425h6M940 425h6M976 425h2M1028 425h4M1058 425h2M940 427h6M994 427h4M1022 427h4M1058 427h2M1102 427h6M940 429h4M986 429h2M994 429h4M1022 429h2M1104 429h4M1112 429h2M940 431h4M1056 431h4M1102 431h2M940 433h2M1102 433h2M1108 433h2M1112 433h2M954 435h6M1086 435h4M1100 435h2M1106 435h4M950 437h10M1024 437h2M1052 437h2M1082 437h2M1088 437h2M1106 437h2M1124 437h2M1160 437h4M922 439h2M930 439h2M958 439h2M1030 439h2M1040 439h2M1048 439h2M1052 439h2M1100 439h4M1160 439h6M932 441h2M950 441h4M1022 441h2M1040 441h4M1160 441h4M948 443h6M960 443h4M1022 443h4M1036 443h8M1046 443h2M1054 443h2M948 445h4M962 445h8M1014 445h2M1038 445h2M1042 445h2M1050 445h4M946 447h4M964 447h4M1012 447h4M1046 447h8M946 449h2M1014 449h2M1040 449h4M1046 449h8M1100 449h2M946 451h6M984 451h2M1012 451h4M1042 451h10M946 453h6M984 453h4M1012 453h4M1036 453h2M1040 453h12M1068 453h4M1098 453h4M1142 453h2M932 455h4M948 455h4M984 455h2M1014 455h2M1042 455h4M1048 455h4M1064 455h6M1098 455h2M1048 457h2M1064 457h6M968 459h4M1050 459h2M1062 459h8M1122 459h4M966 461h6M1062 461h8M1082 461h2M966 463h4M1016 463h2M1062 463h2M1080 463h2M966 465h4M1014 465h2M1060 465h2M1082 465h4M964 467h4M970 467h2M992 467h2M1030 467h4M1060 467h6M1068 467h2M1080 467h6M1088 467h4M966 469h6M990 469h6M1034 469h2M1058 469h2M1066 469h6M1080 469h4M1088 469h6M962 471h2M966 471h6M986 471h4M992 471h2M1058 471h14M1084 471h2M1090 471h4M960 473h2M966 473h4M986 473h4M992 473h2M1058 473h4M1064 473h4M1086 473h8M1118 473h2M960 475h2M988 475h2M1048 475h4M1058 475h4M1064 475h4M1086 475h6M1116 475h6M986 477h2M1050 477h4M1056 477h2M1060 477h4M1086 477h4M1114 477h8M1052 479h6M1060 479h6M1088 479h2M1114 479h8M1052 481h14M1088 481h2M1114 481h4M1034 483h2M1054 483h2M1058 483h4M1088 483h2M1092 483h2M1116 483h2M992 485h4M1036 485h2M1070 485h4M1076 485h4M1088 485h8M1032 487h6M1074 487h2M1090 487h6M1032 489h4M1090 489h6M1092 491h6M1092 493h6" stroke="#080808" stroke-width="2" fill="none"/>
<path d="M1054 69h2M1052 73h2M1058 73h2M1066 73h4M1048 75h6M1072 75h2M1084 75h2M1096 75h2M992 77h2M1046 77h2M1052 77h2M1070 77h4M1086 77h4M1094 77h2M1098 77h4M1012 79h2M1046 79h2M1068 79h6M1082 79h8M1094 79h2M1100 79h6M1012 81h2M1038 81h2M1046 81h6M1068 81h6M1076 81h8M1098 81h2M1036 83h2M1046 83h4M1070 83h4M1098 83h2M1046 85h4M1070 85h4M1078 85h2M1100 85h4M1038 87h2M1044 87h6M1072 87h6M1100 87h2M1104 87h4M956 89h2M994 89h2M1038 89h2M1048 89h2M1072 89h4M1080 89h2M1084 89h2M1100 89h6M982 91h2M990 91h6M1038 91h2M1062 91h2M1068 91h10M1100 91h4M1028 93h2M1038 93h2M1046 93h6M1060 93h4M1070 93h2M1078 93h2M1082 93h4M1102 93h2M968 95h6M1038 95h4M1048 95h2M1068 95h2M1078 95h2M1082 95h4M1100 95h4M1106 95h2M1114 95h2M992 97h2M1022 97h8M1040 97h2M1048 97h8M1066 97h4M1084 97h2M1100 97h4M1108 97h2M1130 97h2M1002 99h4M1018 99h6M1034 99h8M1048 99h10M1060 99h2M1066 99h4M1082 99h4M1098 99h6M1130 99h2M940 101h2M1022 101h2M1028 101h12M1048 101h8M1082 101h2M1086 101h8M1108 101h2M1114 101h2M998 103h2M1014 103h2M1028 103h4M1036 103h4M1044 103h2M1054 103h2M1072 103h4M1082 103h14M1130 103h2M958 105h2M998 105h2M1012 105h8M1034 105h2M1038 105h2M1084 105h4M1092 105h6M910 107h2M1014 107h2M1018 107h4M1042 107h2M1080 107h6M998 109h2M1018 109h2M1042 109h4M1054 109h2M1066 109h2M1082 109h2M1092 109h4M1098 109h2M1108 109h2M946 111h2M1014 111h4M1042 111h2M1050 111h6M1092 111h2M1142 111h2M914 113h2M970 113h4M1010 113h2M1042 113h2M1056 113h2M1070 113h4M1102 113h2M1118 113h2M880 115h4M932 115h2M1010 115h6M1102 115h2M930 117h6M978 117h2M1010 117h4M1016 117h2M1042 117h4M1092 117h4M930 119h4M954 119h2M978 119h2M1010 119h2M1018 119h2M1038 119h2M1054 119h2M1076 119h2M1090 119h4M954 121h2M1010 121h2M1014 121h8M1040 121h4M1078 121h2M1090 121h2M1156 121h2M902 123h2M912 123h2M944 123h2M976 123h2M982 123h2M1012 123h10M1050 123h4M1092 123h2M1104 123h2M1156 123h4M930 125h2M952 125h2M1010 125h4M1016 125h8M1034 125h2M1040 125h2M1068 125h2M1074 125h2M1092 125h2M1116 125h2M1156 125h4M1188 125h4M884 127h2M928 127h2M946 127h2M1018 127h30M1078 127h4M1092 127h2M1184 127h2M1188 127h2M1194 127h4M926 129h4M946 129h4M952 129h2M998 129h4M1018 129h20M1080 129h4M1118 129h2M1166 129h2M1182 129h4M1196 129h4M902 131h6M910 131h4M1000 131h2M1016 131h2M1022 131h6M1086 131h2M1098 131h2M1178 131h4M1184 131h6M1198 131h8M898 133h2M902 133h4M908 133h6M920 133h4M950 133h2M970 133h2M1018 133h2M1026 133h2M1142 133h4M1186 133h4M1202 133h2M886 135h2M894 135h2M900 135h6M912 135h2M920 135h2M934 135h2M944 135h8M968 135h4M974 135h6M992 135h6M1088 135h4M1124 135h2M1176 135h2M1198 135h4M1204 135h4M894 137h8M912 137h2M934 137h4M946 137h4M960 137h6M976 137h6M986 137h2M992 137h6M1026 137h2M1036 137h2M1044 137h2M1072 137h2M1078 137h6M1092 137h2M1120 137h8M1204 137h4M894 139h6M914 139h2M918 139h2M934 139h6M946 139h2M956 139h2M960 139h2M980 139h6M992 139h4M1014 139h4M1026 139h2M1042 139h2M1070 139h4M1080 139h2M1116 139h4M1122 139h6M894 141h4M912 141h8M956 141h6M982 141h2M1016 141h6M1026 141h2M1054 141h4M1068 141h2M1072 141h2M1094 141h2M1112 141h4M1118 141h2M1122 141h12M1178 141h2M894 143h2M912 143h10M926 143h2M934 143h2M954 143h6M980 143h4M1002 143h4M1024 143h4M1046 143h2M1050 143h2M1060 143h4M1070 143h2M1108 143h4M1126 143h6M1140 143h2M1170 143h2M1176 143h2M1202 143h2M886 145h2M894 145h4M914 145h6M926 145h4M936 145h4M944 145h4M956 145h4M1036 145h6M1046 145h6M1062 145h6M1108 145h4M1130 145h2M1162 145h2M1170 145h4M1202 145h4M868 147h2M878 147h2M896 147h6M914 147h4M926 147h6M946 147h4M956 147h4M966 147h2M982 147h4M1028 147h2M1034 147h4M1040 147h2M1048 147h2M1066 147h2M1102 147h2M1108 147h2M1162 147h2M1174 147h4M1200 147h2M1204 147h2M866 149h4M896 149h6M912 149h6M922 149h2M928 149h8M954 149h6M966 149h2M982 149h6M1002 149h4M1022 149h8M1032 149h6M1100 149h2M1106 149h2M1132 149h2M1136 149h6M1198 149h4M870 151h4M886 151h2M898 151h6M908 151h10M930 151h4M936 151h2M940 151h2M946 151h2M956 151h4M982 151h6M994 151h2M1060 151h2M1098 151h2M1102 151h2M1106 151h4M1130 151h4M1136 151h4M1174 151h2M870 153h6M892 153h4M902 153h2M906 153h2M912 153h2M938 153h4M944 153h4M982 153h4M1038 153h2M1100 153h6M1130 153h4M1136 153h4M1144 153h4M1150 153h6M1174 153h4M1180 153h4M870 155h2M874 155h2M894 155h2M906 155h2M938 155h4M944 155h2M954 155h4M966 155h2M982 155h4M1004 155h2M1030 155h2M1036 155h4M1066 155h2M1076 155h2M1088 155h4M1100 155h2M1104 155h6M1128 155h6M1136 155h10M1148 155h2M1154 155h4M1176 155h6M1186 155h2M874 157h2M896 157h2M906 157h2M940 157h2M960 157h2M966 157h2M974 157h2M980 157h6M994 157h2M1020 157h2M1024 157h2M1036 157h2M1062 157h2M1070 157h2M1086 157h4M1106 157h2M1112 157h2M1130 157h2M1134 157h6M1142 157h8M1152 157h6M1162 157h2M1166 157h2M1184 157h8M1196 157h2M896 159h2M908 159h2M942 159h2M950 159h2M958 159h12M974 159h6M986 159h4M1006 159h4M1012 159h2M1052 159h6M1062 159h4M1086 159h4M1098 159h2M1110 159h2M1130 159h8M1146 159h4M1176 159h6M1184 159h4M1194 159h2M892 161h2M896 161h4M916 161h2M942 161h2M956 161h2M964 161h6M974 161h4M980 161h6M988 161h2M1000 161h2M1004 161h10M1044 161h2M1052 161h4M1076 161h4M1088 161h2M1092 161h2M1104 161h10M1122 161h6M1132 161h4M1172 161h2M1176 161h12M1190 161h2M880 163h4M886 163h2M898 163h2M936 163h2M954 163h4M962 163h14M980 163h4M1000 163h10M1014 163h2M1038 163h2M1042 163h2M1064 163h2M1080 163h2M1092 163h2M1110 163h4M1126 163h2M1130 163h6M1164 163h2M1170 163h12M1186 163h8M1196 163h2M862 165h2M870 165h2M878 165h2M894 165h2M908 165h2M920 165h2M932 165h6M948 165h2M954 165h2M974 165h6M982 165h2M990 165h2M1004 165h4M1038 165h2M1042 165h2M1064 165h2M1090 165h4M1130 165h4M1152 165h2M1160 165h6M1170 165h10M1186 165h8M864 167h2M894 167h2M904 167h4M940 167h4M954 167h4M966 167h2M974 167h2M982 167h2M988 167h4M996 167h6M1004 167h2M1012 167h8M1022 167h2M1038 167h2M1046 167h2M1074 167h2M1080 167h2M1092 167h2M1104 167h4M1120 167h4M1128 167h6M1160 167h8M1170 167h8M1188 167h4M1196 167h2M1200 167h2M902 169h6M940 169h4M948 169h2M956 169h6M974 169h2M978 169h2M990 169h2M996 169h4M1002 169h4M1010 169h2M1018 169h4M1036 169h2M1050 169h2M1054 169h2M1070 169h2M1086 169h2M1106 169h2M1118 169h6M1126 169h8M1162 169h10M1188 169h2M1194 169h4M1200 169h2M872 171h4M882 171h2M948 171h4M954 171h2M970 171h6M998 171h2M1008 171h4M1020 171h2M1026 171h2M1054 171h6M1068 171h2M1080 171h2M1088 171h2M1106 171h2M1122 171h2M1126 171h6M1158 171h2M1162 171h6M1170 171h2M1188 171h2M1194 171h6M852 173h6M872 173h4M882 173h2M898 173h4M904 173h2M926 173h4M942 173h6M954 173h2M972 173h2M986 173h2M1000 173h2M1004 173h4M1056 173h2M1060 173h2M1066 173h4M1122 173h2M1126 173h8M1146 173h2M1162 173h8M1196 173h6M852 175h2M890 175h2M898 175h4M926 175h4M936 175h2M940 175h4M958 175h2M968 175h2M990 175h4M1008 175h2M1012 175h2M1024 175h2M1036 175h2M1066 175h2M1078 175h2M1096 175h6M1104 175h4M1126 175h6M1166 175h4M1196 175h4M874 177h6M882 177h2M924 177h2M934 177h2M940 177h6M968 177h2M992 177h2M1012 177h2M1036 177h2M1054 177h2M1060 177h2M1092 177h2M1096 177h4M1114 177h2M1120 177h2M1126 177h8M1162 177h8M1172 177h4M1196 177h6M876 179h2M882 179h2M922 179h4M938 179h4M964 179h2M998 179h2M1012 179h2M1018 179h2M1024 179h4M1038 179h4M1060 179h2M1070 179h2M1096 179h2M1102 179h2M1114 179h2M1120 179h6M1128 179h6M1148 179h2M1164 179h8M1196 179h6M880 181h4M916 181h2M930 181h2M936 181h2M948 181h4M964 181h2M970 181h2M1006 181h2M1012 181h2M1018 181h2M1028 181h2M1044 181h4M1060 181h2M1070 181h2M1096 181h2M1102 181h2M1118 181h4M1124 181h2M1134 181h6M1162 181h2M1166 181h6M1194 181h2M1200 181h2M872 183h2M882 183h2M900 183h4M932 183h8M942 183h10M956 183h4M970 183h2M974 183h4M1002 183h4M1024 183h4M1040 183h2M1046 183h2M1062 183h6M1070 183h6M1096 183h2M1104 183h4M1112 183h4M1124 183h4M1130 183h6M1160 183h4M1166 183h6M1190 183h2M1196 183h6M882 185h2M900 185h2M920 185h4M932 185h10M944 185h8M972 185h2M1004 185h2M1010 185h2M1026 185h2M1066 185h2M1070 185h2M1076 185h2M1088 185h2M1102 185h6M1116 185h2M1120 185h4M1132 185h10M1144 185h2M1152 185h4M1158 185h2M1166 185h2M1188 185h4M1200 185h2M874 187h2M906 187h2M910 187h4M924 187h2M938 187h2M942 187h2M946 187h4M954 187h2M960 187h2M990 187h2M1076 187h2M1108 187h4M1120 187h4M1132 187h16M1154 187h6M1166 187h6M1200 187h2M866 189h2M874 189h2M886 189h4M906 189h2M922 189h2M928 189h4M940 189h4M946 189h2M962 189h4M972 189h8M992 189h2M1002 189h8M1068 189h2M1098 189h2M1104 189h12M1122 189h4M1136 189h10M1148 189h12M1164 189h6M1172 189h2M1180 189h2M1192 189h6M894 191h2M906 191h4M922 191h2M928 191h4M946 191h2M960 191h2M972 191h2M978 191h2M988 191h4M996 191h2M1008 191h4M1022 191h2M1054 191h2M1058 191h6M1070 191h2M1096 191h4M1104 191h8M1124 191h2M1140 191h18M1164 191h6M1172 191h2M1178 191h8M1188 191h8M1218 191h2M862 193h2M892 193h4M906 193h4M922 193h4M930 193h2M938 193h2M942 193h10M954 193h6M970 193h2M998 193h2M1008 193h6M1024 193h2M1028 193h6M1040 193h2M1050 193h2M1054 193h12M1070 193h4M1080 193h2M1092 193h2M1106 193h4M1118 193h6M1144 193h6M1152 193h4M1164 193h2M1172 193h10M1186 193h8M1218 193h2M862 195h2M894 195h6M902 195h4M918 195h2M936 195h4M942 195h4M948 195h6M962 195h2M978 195h2M982 195h2M986 195h2M990 195h2M998 195h8M1008 195h2M1018 195h8M1028 195h6M1040 195h8M1050 195h2M1058 195h6M1072 195h2M1084 195h2M1098 195h2M1104 195h4M1112 195h4M1118 195h2M1122 195h2M1146 195h4M1164 195h4M1172 195h10M1188 195h6M1218 195h2M862 197h2M894 197h4M910 197h4M924 197h2M936 197h2M940 197h2M950 197h2M954 197h10M972 197h8M998 197h8M1012 197h6M1030 197h6M1042 197h4M1050 197h2M1056 197h2M1064 197h10M1084 197h2M1092 197h20M1124 197h8M1144 197h2M1150 197h6M1162 197h4M1172 197h2M1178 197h10M1192 197h4M1218 197h2M878 199h2M890 199h2M904 199h2M912 199h2M918 199h2M924 199h2M938 199h8M950 199h2M960 199h4M970 199h2M974 199h4M980 199h4M988 199h2M996 199h10M1016 199h2M1020 199h2M1042 199h4M1052 199h8M1064 199h6M1078 199h4M1098 199h2M1102 199h4M1110 199h2M1122 199h2M1126 199h4M1132 199h4M1152 199h2M1164 199h2M1170 199h4M1182 199h2M1194 199h2M1198 199h2M890 201h2M910 201h4M918 201h2M930 201h16M974 201h2M984 201h2M994 201h8M1004 201h2M1010 201h6M1018 201h2M1052 201h8M1062 201h2M1084 201h2M1090 201h2M1098 201h2M1102 201h6M1110 201h4M1120 201h6M1130 201h6M1142 201h6M1152 201h2M1158 201h6M1170 201h4M1180 201h2M1192 201h2M904 203h2M914 203h2M918 203h4M924 203h4M930 203h8M946 203h2M952 203h2M956 203h2M972 203h2M982 203h6M994 203h4M1000 203h2M1004 203h2M1008 203h2M1016 203h4M1050 203h2M1054 203h6M1062 203h2M1078 203h8M1088 203h4M1098 203h6M1112 203h4M1124 203h2M1128 203h12M1146 203h6M1154 203h2M1158 203h10M1170 203h2M1206 203h2M1216 203h2M886 205h2M900 205h2M904 205h2M908 205h6M920 205h4M930 205h4M936 205h2M944 205h2M952 205h2M960 205h8M978 205h4M998 205h2M1008 205h6M1016 205h4M1022 205h2M1034 205h2M1040 205h2M1054 205h2M1060 205h4M1066 205h4M1072 205h2M1078 205h2M1084 205h2M1088 205h8M1098 205h6M1106 205h2M1112 205h4M1132 205h2M1136 205h8M1146 205h4M1152 205h2M1160 205h4M1166 205h4M1178 205h2M1190 205h2M1206 205h2M888 207h2M898 207h4M904 207h2M908 207h10M922 207h2M934 207h8M950 207h8M964 207h6M972 207h2M978 207h2M982 207h4M1000 207h6M1008 207h4M1016 207h8M1042 207h4M1050 207h4M1064 207h6M1072 207h2M1078 207h14M1094 207h4M1104 207h4M1112 207h4M1130 207h4M1152 207h4M1166 207h2M1172 207h4M1194 207h4M1218 207h6M1226 207h2M890 209h2M894 209h2M902 209h4M916 209h2M920 209h2M932 209h4M938 209h4M950 209h8M974 209h2M986 209h4M1002 209h4M1008 209h8M1018 209h6M1030 209h2M1044 209h6M1052 209h2M1056 209h2M1066 209h4M1078 209h10M1090 209h2M1114 209h2M1122 209h4M1138 209h2M1164 209h6M1174 209h4M1218 209h4M1226 209h2M1230 209h2M858 211h2M878 211h2M902 211h6M920 211h4M926 211h2M950 211h4M958 211h6M966 211h4M972 211h2M984 211h2M998 211h2M1002 211h2M1008 211h10M1020 211h2M1024 211h2M1032 211h4M1048 211h6M1056 211h4M1062 211h2M1074 211h8M1098 211h2M1112 211h6M1168 211h2M1176 211h2M1180 211h4M1218 211h2M1222 211h2M1230 211h2M858 213h2M870 213h2M904 213h4M914 213h2M922 213h2M934 213h2M940 213h2M948 213h6M960 213h4M968 213h2M994 213h8M1008 213h12M1022 213h4M1030 213h2M1034 213h2M1056 213h10M1070 213h10M1088 213h2M1114 213h4M1120 213h2M1128 213h6M1138 213h2M1142 213h2M1146 213h4M1152 213h2M1176 213h2M1186 213h2M1220 213h6M904 215h4M916 215h2M930 215h2M940 215h2M948 215h4M960 215h2M978 215h4M988 215h2M998 215h8M1022 215h2M1044 215h2M1050 215h2M1062 215h4M1070 215h2M1074 215h2M1088 215h2M1108 215h2M1114 215h8M1126 215h4M1132 215h8M1196 215h4M1220 215h2M1224 215h2M888 217h2M898 217h2M902 217h2M914 217h4M922 217h2M932 217h2M946 217h16M978 217h4M984 217h6M1002 217h4M1022 217h2M1026 217h2M1036 217h2M1044 217h2M1050 217h2M1060 217h2M1066 217h14M1082 217h2M1086 217h2M1098 217h4M1126 217h2M1136 217h8M1176 217h2M1192 217h2M856 219h2M914 219h6M936 219h2M954 219h8M972 219h6M984 219h10M996 219h2M1004 219h2M1008 219h10M1050 219h2M1054 219h2M1058 219h6M1066 219h2M1070 219h4M1078 219h2M1090 219h2M1106 219h6M1114 219h2M1122 219h6M1130 219h2M1134 219h2M1140 219h2M1150 219h10M1162 219h2M1176 219h2M1188 219h6M1196 219h2M1226 219h4M1236 219h4M868 221h2M896 221h2M906 221h2M914 221h2M918 221h2M922 221h2M936 221h2M952 221h2M956 221h2M976 221h4M986 221h8M1002 221h16M1030 221h2M1044 221h2M1060 221h6M1078 221h2M1090 221h4M1102 221h4M1114 221h4M1128 221h4M1136 221h2M1150 221h8M1196 221h4M1210 221h2M1220 221h2M1236 221h4M856 223h2M882 223h4M896 223h2M932 223h4M956 223h2M980 223h2M988 223h4M1004 223h8M1014 223h4M1022 223h4M1028 223h2M1032 223h4M1048 223h2M1052 223h2M1062 223h4M1078 223h6M1086 223h8M1102 223h4M1118 223h2M1124 223h2M1128 223h4M1134 223h10M1150 223h4M1172 223h4M1180 223h6M1196 223h2M1218 223h2M910 225h2M920 225h2M930 225h4M944 225h2M956 225h2M966 225h2M980 225h4M988 225h4M998 225h2M1002 225h10M1014 225h2M1018 225h2M1026 225h2M1032 225h2M1042 225h2M1046 225h10M1064 225h2M1068 225h4M1080 225h4M1086 225h2M1092 225h2M1098 225h2M1104 225h6M1118 225h2M1138 225h6M1160 225h4M1170 225h4M1182 225h8M1192 225h4M1216 225h8M874 227h4M886 227h2M928 227h6M940 227h8M956 227h6M964 227h2M978 227h4M998 227h6M1006 227h6M1014 227h2M1026 227h4M1042 227h2M1046 227h4M1052 227h6M1064 227h6M1076 227h2M1090 227h6M1102 227h4M1120 227h2M1140 227h4M1154 227h2M1162 227h2M1172 227h2M1188 227h2M1194 227h2M1204 227h2M1214 227h2M1220 227h2M1230 227h4M920 229h2M932 229h6M942 229h6M954 229h2M964 229h4M970 229h2M978 229h12M992 229h2M998 229h2M1022 229h2M1026 229h2M1030 229h4M1038 229h4M1044 229h4M1056 229h2M1066 229h4M1072 229h2M1078 229h2M1086 229h12M1102 229h2M1106 229h2M1150 229h2M1154 229h4M1170 229h2M1192 229h4M1234 229h2M870 231h2M876 231h2M936 231h6M948 231h2M966 231h2M976 231h8M986 231h4M992 231h2M996 231h4M1004 231h2M1012 231h2M1022 231h2M1026 231h2M1032 231h6M1040 231h2M1044 231h4M1054 231h8M1064 231h2M1068 231h6M1078 231h2M1084 231h6M1092 231h6M1106 231h4M1170 231h2M1226 231h2M1234 231h2M870 233h4M884 233h2M898 233h4M918 233h4M924 233h4M934 233h8M944 233h8M956 233h4M966 233h4M974 233h2M978 233h2M982 233h6M992 233h2M1004 233h2M1008 233h2M1012 233h2M1026 233h2M1032 233h12M1056 233h2M1066 233h2M1072 233h6M1084 233h4M1094 233h2M1098 233h4M1106 233h6M1114 233h2M1140 233h4M1148 233h4M860 235h2M882 235h2M896 235h6M910 235h2M918 235h2M928 235h2M942 235h10M958 235h6M968 235h2M974 235h14M990 235h2M1000 235h2M1006 235h4M1012 235h2M1024 235h4M1030 235h2M1034 235h4M1044 235h4M1050 235h2M1066 235h12M1080 235h4M1086 235h8M1104 235h6M1132 235h4M1140 235h2M1146 235h4M1154 235h2M1166 235h4M1184 235h2M1200 235h2M1208 235h2M1244 235h2M898 237h4M914 237h4M928 237h2M932 237h2M940 237h12M974 237h8M984 237h10M998 237h8M1010 237h2M1030 237h2M1038 237h2M1042 237h4M1066 237h12M1080 237h6M1088 237h8M1100 237h4M1108 237h2M1114 237h4M1124 237h4M1132 237h6M1140 237h6M1166 237h4M1180 237h2M1196 237h2M1200 237h4M1206 237h2M1218 237h2M1232 237h2M1244 237h2M892 239h2M896 239h6M918 239h2M926 239h8M940 239h4M946 239h6M954 239h2M968 239h6M976 239h6M984 239h2M992 239h2M1000 239h16M1018 239h6M1026 239h2M1036 239h10M1064 239h38M1106 239h6M1114 239h4M1128 239h2M1134 239h6M1144 239h4M1158 239h10M1184 239h2M1188 239h2M1196 239h2M1200 239h4M1218 239h2M1232 239h2M1248 239h2M1252 239h2M892 241h2M898 241h6M916 241h8M926 241h8M940 241h2M944 241h8M960 241h2M970 241h2M974 241h4M980 241h14M998 241h4M1004 241h8M1014 241h6M1022 241h4M1028 241h4M1034 241h4M1040 241h6M1054 241h6M1062 241h6M1070 241h4M1084 241h4M1090 241h4M1096 241h2M1100 241h2M1104 241h8M1116 241h2M1122 241h4M1134 241h2M1150 241h2M1156 241h4M1164 241h4M1176 241h2M1188 241h2M1196 241h4M1218 241h4M1232 241h2M1240 241h2M884 243h4M912 243h6M920 243h4M926 243h2M932 243h4M938 243h4M944 243h6M960 243h2M970 243h10M982 243h10M1000 243h10M1014 243h6M1022 243h2M1034 243h10M1054 243h2M1064 243h2M1068 243h12M1086 243h2M1092 243h2M1096 243h2M1106 243h2M1112 243h2M1116 243h2M1124 243h6M1134 243h2M1138 243h4M1148 243h6M1166 243h2M1178 243h2M1186 243h2M1196 243h2M1202 243h4M1214 243h4M874 245h2M896 245h2M910 245h4M918 245h6M932 245h2M936 245h12M950 245h10M962 245h2M968 245h6M978 245h2M982 245h10M994 245h4M1000 245h8M1018 245h12M1032 245h4M1042 245h2M1050 245h2M1064 245h10M1076 245h4M1082 245h4M1090 245h4M1104 245h4M1112 245h6M1122 245h4M1134 245h4M1142 245h2M1150 245h10M1166 245h2M1182 245h6M1196 245h4M1202 245h2M1208 245h2M1216 245h2M1224 245h2M904 247h2M912 247h8M922 247h2M930 247h4M936 247h4M942 247h22M968 247h4M974 247h2M982 247h8M996 247h14M1014 247h2M1022 247h4M1028 247h8M1038 247h8M1058 247h2M1066 247h8M1082 247h4M1092 247h2M1100 247h6M1112 247h2M1120 247h2M1130 247h8M1142 247h2M1152 247h6M1182 247h6M1202 247h2M1208 247h6M868 249h2M890 249h2M904 249h2M912 249h6M920 249h2M936 249h16M954 249h2M958 249h2M962 249h2M968 249h2M988 249h2M994 249h2M998 249h6M1006 249h2M1010 249h8M1022 249h4M1028 249h2M1034 249h8M1044 249h4M1054 249h2M1058 249h4M1064 249h6M1072 249h2M1080 249h6M1092 249h8M1102 249h4M1110 249h4M1120 249h6M1130 249h4M1138 249h4M1146 249h2M1200 249h2M1208 249h6M862 251h2M890 251h2M910 251h4M922 251h6M936 251h2M946 251h4M952 251h8M964 251h8M974 251h4M984 251h22M1012 251h2M1018 251h2M1022 251h2M1028 251h10M1048 251h2M1054 251h2M1064 251h12M1080 251h6M1092 251h6M1100 251h8M1110 251h4M1122 251h4M1128 251h4M1138 251h2M1148 251h2M1166 251h2M1174 251h2M1196 251h6M1208 251h4M1234 251h2M862 253h2M870 253h2M892 253h6M906 253h6M916 253h4M922 253h4M930 253h2M936 253h2M946 253h2M950 253h4M956 253h4M964 253h14M984 253h2M988 253h6M996 253h6M1008 253h6M1016 253h4M1022 253h4M1030 253h8M1056 253h2M1064 253h2M1070 253h6M1080 253h2M1088 253h4M1100 253h4M1106 253h2M1110 253h4M1116 253h2M1128 253h2M1134 253h2M1138 253h2M1144 253h6M1178 253h4M1196 253h2M1204 253h2M1234 253h2M860 255h6M890 255h2M920 255h2M930 255h2M936 255h2M942 255h4M956 255h2M964 255h2M970 255h4M976 255h2M984 255h4M992 255h20M1016 255h4M1022 255h2M1028 255h2M1032 255h6M1052 255h2M1066 255h2M1070 255h6M1078 255h4M1084 255h2M1088 255h4M1094 255h2M1106 255h2M1112 255h8M1124 255h16M1144 255h4M1150 255h2M1176 255h2M1182 255h2M1190 255h2M1200 255h4M1208 255h4M1244 255h2M882 257h2M886 257h2M892 257h4M910 257h4M918 257h4M924 257h2M928 257h2M932 257h6M942 257h6M960 257h6M968 257h4M974 257h6M982 257h6M992 257h4M998 257h12M1012 257h2M1024 257h8M1034 257h6M1044 257h2M1052 257h2M1066 257h8M1076 257h10M1092 257h6M1100 257h8M1110 257h2M1116 257h12M1134 257h10M1146 257h2M1150 257h2M1160 257h2M1176 257h2M1180 257h6M1190 257h2M1200 257h4M1218 257h2M886 259h2M900 259h2M908 259h10M924 259h4M932 259h12M948 259h6M964 259h2M970 259h2M990 259h8M1000 259h14M1016 259h4M1024 259h2M1028 259h4M1034 259h4M1044 259h2M1068 259h4M1078 259h2M1082 259h4M1092 259h16M1110 259h4M1116 259h14M1134 259h14M1150 259h6M1160 259h2M1164 259h4M1178 259h8M1200 259h2M884 261h4M890 261h2M906 261h2M914 261h4M926 261h6M934 261h6M950 261h6M960 261h6M970 261h2M974 261h2M984 261h10M996 261h14M1012 261h8M1036 261h4M1042 261h2M1048 261h2M1054 261h6M1072 261h4M1078 261h2M1082 261h2M1092 261h6M1100 261h4M1106 261h26M1134 261h2M1144 261h6M1152 261h2M1178 261h4M1184 261h4M1190 261h2M1198 261h2M1218 261h2M1228 261h2M884 263h2M888 263h6M906 263h4M914 263h2M920 263h8M932 263h2M950 263h2M954 263h4M960 263h4M968 263h4M984 263h4M990 263h4M996 263h8M1006 263h4M1016 263h2M1022 263h2M1028 263h6M1038 263h4M1046 263h2M1052 263h2M1056 263h6M1072 263h4M1082 263h8M1098 263h6M1106 263h12M1120 263h4M1126 263h4M1140 263h4M1146 263h4M1152 263h4M1160 263h6M1172 263h2M1178 263h4M1186 263h2M1190 263h2M1198 263h2M1208 263h4M1220 263h2M1224 263h6M1248 263h2M874 265h2M884 265h2M894 265h2M904 265h4M910 265h2M918 265h14M938 265h2M950 265h6M958 265h2M962 265h2M970 265h2M978 265h2M986 265h10M998 265h6M1006 265h4M1012 265h2M1020 265h4M1028 265h6M1038 265h2M1042 265h2M1050 265h2M1056 265h6M1074 265h4M1082 265h10M1094 265h2M1098 265h8M1110 265h10M1122 265h2M1128 265h4M1136 265h4M1144 265h4M1150 265h6M1160 265h4M1166 265h2M1170 265h4M1178 265h10M1194 265h6M1206 265h6M1224 265h2M1258 265h2M848 267h6M870 267h2M876 267h4M890 267h4M898 267h2M902 267h6M912 267h10M926 267h4M934 267h2M948 267h12M964 267h2M970 267h2M984 267h18M1004 267h22M1030 267h4M1040 267h4M1052 267h2M1056 267h6M1072 267h2M1088 267h2M1096 267h6M1104 267h10M1118 267h8M1138 267h10M1164 267h4M1172 267h6M1180 267h10M1194 267h4M1202 267h6M870 269h2M878 269h2M890 269h4M900 269h10M916 269h2M924 269h6M932 269h2M940 269h2M946 269h4M952 269h2M964 269h2M968 269h2M974 269h4M982 269h16M1002 269h2M1010 269h4M1016 269h2M1022 269h2M1026 269h2M1030 269h2M1040 269h4M1048 269h2M1052 269h4M1058 269h6M1068 269h2M1074 269h2M1082 269h2M1086 269h2M1096 269h4M1112 269h2M1118 269h6M1126 269h6M1134 269h2M1140 269h6M1152 269h2M1156 269h2M1170 269h22M1206 269h2M844 271h4M862 271h4M870 271h10M884 271h2M888 271h4M900 271h2M906 271h2M912 271h4M924 271h4M930 271h2M936 271h10M964 271h8M974 271h4M982 271h10M994 271h12M1010 271h4M1018 271h16M1036 271h4M1042 271h4M1050 271h18M1072 271h2M1076 271h2M1086 271h2M1094 271h4M1100 271h2M1104 271h8M1118 271h2M1122 271h4M1130 271h2M1134 271h2M1140 271h12M1156 271h4M1168 271h8M1178 271h2M1184 271h2M1190 271h2M868 273h2M884 273h2M906 273h4M914 273h2M924 273h6M938 273h4M966 273h2M972 273h14M992 273h12M1008 273h4M1014 273h28M1046 273h14M1062 273h6M1072 273h2M1076 273h2M1082 273h8M1092 273h6M1100 273h2M1104 273h4M1110 273h2M1116 273h8M1128 273h6M1138 273h8M1156 273h2M1160 273h2M1164 273h2M1168 273h4M1184 273h2M1188 273h10M1200 273h6M868 275h2M878 275h2M882 275h2M888 275h4M904 275h6M914 275h2M926 275h2M930 275h4M948 275h4M962 275h6M970 275h16M992 275h2M998 275h14M1014 275h18M1036 275h6M1052 275h10M1066 275h4M1072 275h6M1082 275h2M1088 275h4M1112 275h4M1122 275h2M1130 275h8M1160 275h4M1166 275h8M1188 275h8M1202 275h2M1222 275h2M876 277h4M882 277h4M888 277h4M904 277h2M914 277h4M920 277h4M940 277h2M952 277h4M958 277h2M962 277h8M974 277h6M982 277h8M994 277h14M1010 277h2M1016 277h16M1034 277h6M1048 277h2M1054 277h22M1082 277h4M1088 277h2M1092 277h6M1106 277h2M1116 277h4M1122 277h2M1132 277h6M1142 277h10M1156 277h4M1164 277h8M1188 277h10M1202 277h4M1208 277h2M1226 277h2M1240 277h2M872 279h12M890 279h4M896 279h2M908 279h4M922 279h4M948 279h2M952 279h2M962 279h4M968 279h4M980 279h4M992 279h22M1018 279h6M1030 279h6M1038 279h2M1042 279h32M1080 279h6M1096 279h4M1102 279h4M1112 279h2M1120 279h4M1128 279h10M1150 279h8M1166 279h4M1180 279h2M1190 279h2M1194 279h2M1202 279h2M1206 279h2M1218 279h2M1240 279h2M856 281h2M872 281h4M878 281h2M894 281h4M902 281h2M908 281h2M944 281h8M956 281h2M964 281h8M974 281h6M982 281h8M994 281h20M1018 281h6M1026 281h12M1040 281h14M1058 281h10M1070 281h8M1080 281h6M1092 281h2M1096 281h4M1102 281h2M1110 281h2M1118 281h2M1126 281h4M1132 281h2M1136 281h2M1140 281h2M1146 281h2M1154 281h2M1162 281h4M1178 281h2M1194 281h2M1206 281h2M1216 281h2M1220 281h2M1240 281h2M1246 281h2M876 283h2M896 283h2M902 283h6M910 283h2M920 283h2M924 283h2M930 283h4M944 283h4M952 283h2M956 283h2M962 283h6M974 283h2M978 283h2M982 283h8M994 283h6M1002 283h12M1018 283h16M1040 283h10M1052 283h14M1068 283h16M1086 283h2M1092 283h4M1102 283h2M1110 283h10M1126 283h4M1136 283h6M1162 283h2M1166 283h4M1194 283h2M1206 283h2M1216 283h2M1220 283h2M1246 283h2M1258 283h2M876 285h4M896 285h4M908 285h4M914 285h4M920 285h2M930 285h2M944 285h2M964 285h2M970 285h2M974 285h2M978 285h12M996 285h40M1038 285h12M1052 285h18M1074 285h12M1088 285h4M1094 285h4M1102 285h8M1112 285h12M1126 285h4M1132 285h2M1136 285h2M1166 285h2M1170 285h4M1192 285h6M1204 285h2M1220 285h2M1234 285h2M1248 285h2M1254 285h4M852 287h4M866 287h2M876 287h2M888 287h2M896 287h4M902 287h2M908 287h2M926 287h2M930 287h2M936 287h2M944 287h2M952 287h10M964 287h8M974 287h2M980 287h6M996 287h2M1000 287h8M1010 287h4M1016 287h26M1044 287h2M1050 287h4M1056 287h14M1076 287h6M1084 287h6M1098 287h8M1108 287h2M1114 287h8M1132 287h2M1138 287h2M1156 287h2M1166 287h4M1172 287h2M1192 287h2M1196 287h4M1202 287h2M1214 287h2M1240 287h2M1244 287h2M856 289h2M864 289h2M870 289h2M874 289h4M892 289h2M900 289h12M914 289h8M928 289h2M938 289h6M954 289h4M966 289h2M974 289h2M978 289h4M996 289h26M1024 289h8M1036 289h12M1050 289h4M1060 289h10M1072 289h2M1076 289h4M1084 289h2M1094 289h2M1106 289h2M1112 289h2M1116 289h4M1140 289h2M1146 289h2M1152 289h4M1160 289h2M1166 289h8M1188 289h2M1202 289h4M1214 289h2M844 291h2M856 291h2M860 291h2M864 291h2M878 291h4M884 291h2M890 291h6M902 291h6M910 291h2M914 291h4M926 291h4M936 291h4M944 291h4M954 291h8M966 291h4M972 291h4M978 291h8M988 291h6M998 291h12M1012 291h30M1046 291h2M1052 291h12M1066 291h4M1076 291h6M1084 291h2M1090 291h6M1114 291h8M1130 291h4M1146 291h2M1154 291h4M1160 291h4M1166 291h4M1172 291h4M1188 291h4M1206 291h2M1224 291h2M852 293h2M856 293h2M860 293h6M878 293h8M892 293h2M900 293h2M906 293h2M914 293h2M926 293h4M940 293h2M944 293h4M950 293h2M958 293h6M966 293h2M970 293h10M984 293h24M1012 293h12M1028 293h6M1036 293h8M1046 293h4M1056 293h6M1066 293h14M1084 293h2M1102 293h4M1112 293h6M1120 293h2M1124 293h2M1134 293h6M1146 293h2M1164 293h2M1172 293h2M1176 293h2M1190 293h4M1210 293h4M1222 293h4M852 295h4M858 295h8M884 295h2M888 295h4M900 295h2M904 295h4M912 295h6M924 295h4M930 295h6M940 295h10M958 295h2M964 295h4M978 295h2M988 295h18M1010 295h16M1028 295h2M1036 295h8M1052 295h10M1066 295h14M1090 295h4M1104 295h2M1116 295h6M1124 295h2M1128 295h2M1134 295h2M1144 295h4M1152 295h2M1168 295h2M1172 295h10M1186 295h2M1190 295h2M1196 295h2M1200 295h4M1212 295h2M1236 295h2M844 297h2M852 297h2M872 297h2M882 297h4M896 297h4M908 297h10M920 297h2M924 297h4M932 297h4M942 297h8M954 297h4M962 297h6M972 297h2M988 297h6M996 297h4M1004 297h2M1010 297h12M1024 297h20M1052 297h12M1066 297h4M1076 297h4M1084 297h2M1104 297h2M1108 297h2M1114 297h2M1118 297h4M1124 297h4M1134 297h4M1144 297h4M1152 297h6M1160 297h2M1176 297h4M1186 297h2M1196 297h2M1200 297h2M850 299h4M856 299h2M870 299h2M896 299h2M908 299h4M914 299h2M918 299h2M924 299h6M934 299h2M944 299h4M954 299h6M962 299h6M972 299h2M976 299h2M984 299h10M996 299h2M1002 299h4M1008 299h2M1012 299h4M1020 299h2M1028 299h6M1040 299h4M1058 299h6M1066 299h8M1076 299h14M1092 299h2M1114 299h2M1120 299h4M1126 299h6M1134 299h2M1138 299h6M1156 299h2M1174 299h12M1202 299h2M1210 299h2M1248 299h2M850 301h2M856 301h8M870 301h2M882 301h2M888 301h2M902 301h2M908 301h4M916 301h6M924 301h2M928 301h6M960 301h4M966 301h16M984 301h14M1000 301h10M1012 301h2M1016 301h6M1024 301h14M1042 301h8M1054 301h10M1066 301h16M1086 301h8M1108 301h4M1114 301h8M1126 301h4M1132 301h2M1138 301h6M1148 301h6M1156 301h4M1164 301h2M1176 301h6M1184 301h4M1202 301h2M1210 301h2M1236 301h2M1246 301h4M856 303h2M862 303h2M872 303h4M880 303h4M886 303h6M898 303h2M904 303h6M914 303h10M930 303h4M942 303h4M948 303h10M960 303h4M966 303h4M974 303h6M982 303h4M992 303h8M1006 303h4M1012 303h4M1022 303h8M1032 303h10M1046 303h6M1060 303h4M1068 303h6M1076 303h4M1086 303h2M1090 303h4M1102 303h2M1112 303h10M1124 303h12M1138 303h8M1150 303h8M1172 303h6M1184 303h4M1212 303h2M856 305h2M864 305h4M872 305h4M888 305h6M902 305h2M906 305h2M914 305h10M932 305h2M942 305h2M946 305h2M950 305h4M966 305h4M972 305h2M976 305h4M994 305h8M1008 305h4M1014 305h4M1020 305h8M1030 305h2M1034 305h8M1046 305h4M1052 305h10M1066 305h2M1076 305h4M1082 305h6M1098 305h8M1108 305h2M1114 305h2M1122 305h4M1128 305h8M1140 305h8M1150 305h8M1170 305h2M1178 305h4M1188 305h2M1200 305h4M848 307h2M854 307h2M860 307h2M886 307h4M894 307h6M902 307h6M912 307h8M932 307h10M944 307h4M952 307h2M962 307h2M972 307h4M980 307h2M984 307h12M1000 307h4M1006 307h6M1014 307h14M1030 307h10M1054 307h8M1066 307h2M1072 307h2M1076 307h2M1100 307h6M1122 307h8M1134 307h4M1140 307h2M1144 307h2M1158 307h2M1168 307h4M1178 307h4M1184 307h2M1188 307h2M1200 307h2M1236 307h2M878 309h2M882 309h2M886 309h2M906 309h4M912 309h8M924 309h4M930 309h10M948 309h4M954 309h8M964 309h4M972 309h2M976 309h2M980 309h2M984 309h4M990 309h6M998 309h4M1006 309h20M1030 309h8M1040 309h2M1050 309h4M1056 309h2M1062 309h8M1072 309h4M1078 309h4M1086 309h2M1092 309h10M1110 309h2M1120 309h12M1138 309h6M1146 309h8M1158 309h2M1162 309h2M1180 309h2M848 311h2M878 311h2M884 311h4M890 311h8M900 311h6M908 311h6M916 311h2M924 311h2M928 311h2M932 311h4M940 311h12M954 311h2M958 311h6M966 311h8M988 311h2M992 311h4M1002 311h8M1012 311h6M1020 311h6M1032 311h4M1038 311h2M1046 311h2M1050 311h8M1062 311h4M1070 311h2M1076 311h2M1080 311h2M1086 311h2M1092 311h8M1102 311h2M1106 311h2M1110 311h2M1118 311h18M1138 311h2M1142 311h4M1150 311h4M1156 311h2M1162 311h2M1170 311h2M1176 311h2M1192 311h2M870 313h2M878 313h2M902 313h4M910 313h2M916 313h4M926 313h2M932 313h2M938 313h16M956 313h10M968 313h2M972 313h10M988 313h4M998 313h16M1016 313h10M1030 313h4M1038 313h2M1044 313h2M1052 313h4M1060 313h8M1076 313h2M1080 313h4M1088 313h2M1092 313h4M1106 313h6M1116 313h2M1120 313h6M1134 313h4M1142 313h2M1156 313h4M1164 313h2M1168 313h2M1176 313h2M1186 313h6M1242 313h2M880 315h2M898 315h2M902 315h6M910 315h2M916 315h2M922 315h2M926 315h8M940 315h10M952 315h12M968 315h16M998 315h4M1012 315h2M1018 315h4M1030 315h4M1042 315h2M1046 315h4M1052 315h6M1070 315h2M1076 315h2M1080 315h4M1088 315h2M1092 315h10M1106 315h8M1116 315h2M1126 315h2M1134 315h4M1140 315h2M1148 315h4M1156 315h2M1168 315h2M1184 315h2M1190 315h2M1242 315h4M838 317h6M868 317h2M882 317h2M894 317h2M902 317h2M908 317h10M920 317h18M940 317h2M946 317h4M952 317h4M960 317h2M964 317h14M1000 317h4M1010 317h4M1036 317h8M1046 317h14M1064 317h2M1068 317h2M1080 317h10M1094 317h10M1106 317h4M1114 317h4M1122 317h2M1136 317h8M1148 317h2M1158 317h2M1168 317h2M1174 317h2M1182 317h6M1190 317h2M1198 317h2M1220 317h4M1230 317h2M1244 317h2M840 319h2M852 319h6M874 319h2M880 319h6M904 319h6M920 319h16M944 319h6M952 319h4M958 319h18M1014 319h2M1018 319h4M1036 319h2M1042 319h12M1060 319h4M1076 319h2M1080 319h16M1098 319h10M1122 319h2M1126 319h8M1140 319h2M1148 319h8M1168 319h2M1194 319h2M1200 319h2M1220 319h2M1236 319h2M852 321h2M874 321h4M880 321h2M884 321h2M904 321h4M912 321h4M918 321h6M930 321h2M938 321h2M942 321h20M966 321h2M970 321h28M1002 321h2M1006 321h6M1014 321h4M1020 321h2M1028 321h6M1036 321h2M1042 321h8M1052 321h2M1074 321h2M1082 321h2M1090 321h6M1098 321h2M1102 321h10M1118 321h2M1126 321h6M1134 321h2M1154 321h2M1158 321h2M1164 321h2M1190 321h2M1200 321h2M1236 321h2M862 323h2M874 323h2M880 323h2M900 323h4M906 323h2M930 323h4M938 323h4M952 323h10M966 323h2M970 323h4M978 323h12M992 323h8M1002 323h2M1006 323h4M1018 323h4M1024 323h2M1028 323h6M1050 323h4M1056 323h2M1068 323h2M1078 323h2M1082 323h14M1098 323h8M1118 323h2M1126 323h4M1132 323h6M1142 323h18M1166 323h2M1188 323h2M1200 323h2M1204 323h2M860 325h4M866 325h2M872 325h2M876 325h6M922 325h2M926 325h2M930 325h6M946 325h2M952 325h2M956 325h6M970 325h12M984 325h2M992 325h8M1002 325h6M1014 325h6M1024 325h4M1032 325h8M1044 325h2M1052 325h2M1058 325h2M1062 325h2M1068 325h8M1078 325h14M1096 325h14M1126 325h2M1134 325h6M1144 325h14M1160 325h2M1164 325h4M1182 325h2M1196 325h2M1208 325h6M860 327h2M864 327h4M870 327h2M874 327h2M878 327h2M882 327h4M904 327h4M922 327h4M934 327h2M938 327h2M944 327h2M952 327h4M958 327h2M976 327h4M988 327h18M1010 327h6M1018 327h10M1030 327h16M1050 327h4M1056 327h4M1074 327h6M1082 327h8M1094 327h2M1106 327h4M1124 327h2M1130 327h8M1142 327h6M1150 327h2M1158 327h10M1172 327h2M1200 327h4M1208 327h4M1214 327h4M1246 327h2M854 329h2M876 329h2M892 329h2M904 329h6M920 329h2M928 329h4M938 329h2M942 329h8M954 329h4M962 329h2M976 329h2M982 329h2M988 329h10M1000 329h8M1010 329h2M1014 329h10M1028 329h6M1038 329h20M1060 329h2M1068 329h2M1072 329h8M1084 329h2M1088 329h2M1092 329h6M1102 329h4M1108 329h4M1114 329h4M1122 329h4M1130 329h8M1140 329h8M1150 329h2M1158 329h4M1170 329h6M1186 329h2M1208 329h2M1212 329h2M902 331h4M916 331h4M928 331h4M948 331h2M962 331h2M980 331h4M992 331h12M1008 331h10M1022 331h12M1036 331h4M1048 331h4M1054 331h4M1072 331h2M1076 331h8M1088 331h4M1098 331h8M1108 331h4M1116 331h4M1124 331h6M1132 331h12M1146 331h2M1156 331h6M1168 331h6M858 333h2M886 333h2M890 333h4M896 333h4M906 333h10M924 333h8M934 333h2M944 333h2M948 333h2M960 333h4M974 333h12M992 333h6M1000 333h6M1008 333h2M1024 333h8M1034 333h8M1044 333h6M1054 333h8M1070 333h4M1078 333h8M1088 333h4M1116 333h2M1124 333h18M1144 333h8M1154 333h8M1180 333h2M1204 333h4M1210 333h2M844 335h10M858 335h2M872 335h2M882 335h2M892 335h8M904 335h6M916 335h4M922 335h6M930 335h2M934 335h4M940 335h8M950 335h2M958 335h4M968 335h10M980 335h6M992 335h6M1000 335h2M1006 335h4M1012 335h2M1020 335h12M1034 335h2M1038 335h6M1050 335h2M1054 335h2M1060 335h24M1088 335h2M1100 335h10M1116 335h2M1122 335h4M1128 335h6M1138 335h4M1148 335h2M1154 335h2M1160 335h2M1168 335h2M1172 335h4M1194 335h2M1198 335h2M1202 335h4M1230 335h2M850 337h2M858 337h2M880 337h8M902 337h4M918 337h4M924 337h2M928 337h4M934 337h2M940 337h2M946 337h2M950 337h2M958 337h4M968 337h2M974 337h6M982 337h2M986 337h4M992 337h10M1006 337h20M1028 337h4M1034 337h10M1054 337h4M1060 337h18M1082 337h2M1092 337h2M1098 337h6M1106 337h2M1116 337h2M1122 337h10M1136 337h4M1160 337h4M1168 337h6M1184 337h2M1194 337h2M1198 337h2M1202 337h2M1228 337h6M858 339h2M872 339h2M886 339h4M900 339h4M910 339h4M926 339h8M938 339h2M950 339h4M960 339h6M976 339h2M986 339h2M990 339h8M1008 339h14M1024 339h16M1042 339h2M1052 339h2M1060 339h8M1074 339h2M1078 339h2M1082 339h2M1092 339h2M1096 339h4M1106 339h2M1110 339h2M1118 339h8M1156 339h2M1168 339h10M1184 339h2M1208 339h2M1230 339h2M858 341h6M872 341h2M878 341h6M888 341h4M898 341h2M910 341h2M916 341h6M924 341h10M936 341h6M950 341h4M960 341h6M976 341h2M986 341h2M990 341h10M1002 341h2M1006 341h10M1020 341h28M1054 341h2M1058 341h8M1074 341h2M1082 341h6M1098 341h2M1104 341h2M1114 341h10M1164 341h6M1172 341h8M1182 341h4M1224 341h2M860 343h4M876 343h6M890 343h6M914 343h4M924 343h2M936 343h4M944 343h2M952 343h6M962 343h4M968 343h2M976 343h8M988 343h2M994 343h6M1002 343h4M1008 343h6M1020 343h14M1036 343h2M1040 343h6M1048 343h6M1058 343h2M1070 343h6M1084 343h10M1096 343h6M1110 343h4M1118 343h8M1130 343h2M1140 343h2M1164 343h14M1184 343h2M1208 343h4M860 345h6M874 345h6M910 345h2M916 345h2M944 345h4M950 345h10M962 345h2M966 345h6M974 345h4M980 345h6M988 345h2M994 345h2M1000 345h4M1008 345h8M1018 345h16M1036 345h2M1042 345h6M1050 345h6M1066 345h2M1070 345h8M1082 345h2M1092 345h6M1120 345h4M1168 345h10M1184 345h2M1204 345h2M844 347h2M856 347h4M862 347h8M872 347h6M888 347h8M910 347h6M922 347h2M926 347h2M932 347h4M946 347h2M952 347h10M966 347h2M970 347h8M980 347h6M988 347h2M996 347h2M1002 347h4M1012 347h10M1024 347h4M1030 347h4M1044 347h6M1054 347h4M1070 347h8M1082 347h4M1088 347h8M1100 347h2M1108 347h4M1114 347h2M1150 347h2M1170 347h10M1182 347h4M1204 347h2M850 349h2M856 349h2M860 349h4M868 349h8M892 349h2M900 349h2M908 349h10M920 349h4M932 349h6M940 349h38M988 349h16M1012 349h2M1018 349h6M1030 349h6M1038 349h2M1046 349h12M1062 349h8M1072 349h2M1076 349h4M1086 349h4M1096 349h8M1106 349h2M1132 349h2M1138 349h2M1174 349h6M1184 349h2M1208 349h2M854 351h2M860 351h4M868 351h6M884 351h8M902 351h4M908 351h14M924 351h2M934 351h4M940 351h2M946 351h6M956 351h4M964 351h14M980 351h6M998 351h4M1006 351h2M1020 351h4M1036 351h6M1050 351h10M1064 351h4M1078 351h2M1082 351h4M1088 351h14M1104 351h10M1148 351h2M1174 351h8M1184 351h2M1208 351h2M852 353h2M866 353h2M870 353h4M882 353h6M896 353h2M902 353h6M924 353h4M936 353h4M948 353h2M956 353h2M964 353h12M984 353h4M990 353h2M998 353h2M1006 353h4M1014 353h2M1020 353h2M1044 353h8M1054 353h8M1064 353h4M1078 353h2M1082 353h4M1090 353h22M1114 353h2M1178 353h8M872 355h2M884 355h2M894 355h6M902 355h4M918 355h6M934 355h4M940 355h8M958 355h2M964 355h4M972 355h6M982 355h6M990 355h20M1012 355h4M1020 355h6M1034 355h2M1038 355h4M1052 355h8M1062 355h2M1076 355h4M1082 355h6M1090 355h12M1104 355h10M1178 355h4M870 357h10M882 357h4M898 357h4M922 357h8M936 357h2M940 357h4M946 357h6M964 357h2M972 357h6M984 357h2M994 357h8M1006 357h2M1010 357h4M1020 357h4M1040 357h4M1048 357h2M1056 357h6M1074 357h2M1080 357h6M1090 357h2M1096 357h18M1184 357h2M854 359h6M864 359h2M886 359h2M898 359h2M910 359h2M916 359h2M922 359h14M940 359h10M952 359h2M964 359h2M972 359h10M986 359h2M990 359h12M1010 359h16M1034 359h12M1050 359h8M1062 359h4M1070 359h4M1080 359h2M1084 359h2M1090 359h4M1096 359h6M1104 359h6M1180 359h4M854 361h6M864 361h4M880 361h4M886 361h4M894 361h2M900 361h2M914 361h4M924 361h4M930 361h8M944 361h2M970 361h2M974 361h6M986 361h2M996 361h10M1010 361h4M1016 361h12M1034 361h4M1040 361h4M1046 361h4M1054 361h4M1060 361h2M1064 361h4M1070 361h4M1086 361h2M1090 361h8M1104 361h6M1180 361h4M854 363h2M880 363h6M900 363h6M908 363h2M918 363h6M934 363h2M940 363h2M944 363h2M978 363h2M984 363h2M992 363h2M996 363h6M1006 363h2M1012 363h6M1024 363h2M1030 363h2M1034 363h8M1046 363h4M1054 363h4M1060 363h2M1068 363h6M1076 363h4M1084 363h2M1088 363h2M1092 363h18M1144 363h2M1182 363h2M1186 363h2M868 365h2M880 365h2M884 365h2M906 365h2M916 365h6M930 365h2M938 365h4M970 365h4M976 365h8M992 365h2M1010 365h2M1018 365h10M1030 365h4M1038 365h4M1052 365h8M1062 365h2M1070 365h4M1076 365h2M1080 365h4M1088 365h2M1092 365h2M1096 365h16M1136 365h2M1182 365h2M868 367h2M872 367h2M876 367h4M882 367h2M890 367h2M896 367h2M910 367h2M930 367h2M938 367h2M972 367h2M976 367h10M1000 367h2M1004 367h14M1020 367h12M1034 367h2M1038 367h2M1052 367h4M1064 367h10M1076 367h8M1088 367h2M1092 367h16M1110 367h2M1182 367h4M874 369h2M878 369h4M884 369h6M892 369h4M898 369h2M902 369h2M934 369h2M940 369h4M962 369h2M978 369h8M1000 369h2M1006 369h6M1016 369h4M1022 369h20M1046 369h2M1058 369h10M1072 369h4M1078 369h12M1094 369h16M1122 369h2M1174 369h4M1184 369h2M864 371h4M870 371h6M884 371h24M924 371h4M938 371h4M988 371h2M994 371h2M1000 371h2M1006 371h8M1016 371h2M1020 371h22M1046 371h6M1058 371h8M1072 371h4M1078 371h10M1096 371h4M1104 371h4M1110 371h2M1180 371h8M852 373h4M870 373h2M874 373h2M880 373h2M890 373h12M906 373h6M920 373h8M936 373h2M978 373h2M982 373h6M990 373h2M994 373h2M1010 373h4M1016 373h8M1026 373h4M1036 373h2M1044 373h12M1062 373h6M1072 373h16M1096 373h4M1102 373h6M1116 373h4M860 375h2M872 375h10M890 375h4M900 375h8M914 375h2M926 375h2M968 375h2M974 375h2M978 375h2M986 375h6M1006 375h2M1012 375h4M1018 375h16M1036 375h2M1042 375h6M1060 375h6M1072 375h18M1096 375h2M1102 375h4M1108 375h2M1184 375h4M864 377h2M870 377h16M890 377h2M896 377h2M900 377h4M910 377h8M922 377h4M928 377h2M936 377h4M944 377h4M968 377h4M978 377h4M990 377h6M1002 377h8M1012 377h4M1018 377h4M1024 377h8M1034 377h12M1048 377h2M1056 377h6M1064 377h12M1080 377h4M1086 377h6M1100 377h6M1108 377h2M1178 377h2M1184 377h4M872 379h4M882 379h2M886 379h2M890 379h2M894 379h4M900 379h4M912 379h2M916 379h8M930 379h8M946 379h2M972 379h4M978 379h6M990 379h2M998 379h2M1004 379h8M1014 379h6M1022 379h8M1044 379h6M1052 379h6M1060 379h8M1070 379h22M1098 379h2M1104 379h2M1110 379h2M1146 379h2M1182 379h6M858 381h2M862 381h2M872 381h2M882 381h6M890 381h6M898 381h4M916 381h4M924 381h4M930 381h12M952 381h4M972 381h2M976 381h12M990 381h2M1000 381h2M1004 381h2M1008 381h2M1012 381h4M1018 381h2M1024 381h6M1046 381h8M1056 381h4M1062 381h34M1098 381h2M1104 381h4M1110 381h2M1138 381h2M1166 381h2M1186 381h2M870 383h4M878 383h2M884 383h2M890 383h4M900 383h2M904 383h4M916 383h2M926 383h4M938 383h4M946 383h2M974 383h12M992 383h2M996 383h4M1012 383h4M1022 383h6M1030 383h4M1046 383h4M1056 383h2M1062 383h6M1072 383h6M1082 383h2M1086 383h2M1096 383h12M1110 383h2M1152 383h2M1180 383h4M1192 383h2M1198 383h2M868 385h4M878 385h4M892 385h2M900 385h2M904 385h10M916 385h4M928 385h6M944 385h2M974 385h6M982 385h10M998 385h2M1012 385h4M1020 385h8M1032 385h2M1042 385h2M1046 385h2M1058 385h2M1072 385h4M1082 385h2M1090 385h2M1094 385h16M1152 385h2M1180 385h6M1188 385h6M1198 385h2M870 387h4M878 387h4M884 387h2M896 387h6M904 387h2M910 387h4M916 387h4M928 387h6M940 387h2M944 387h2M948 387h4M954 387h2M958 387h2M976 387h4M986 387h4M994 387h4M1010 387h10M1022 387h2M1026 387h2M1036 387h2M1046 387h2M1054 387h2M1060 387h2M1072 387h4M1078 387h2M1102 387h12M1176 387h4M1192 387h4M1200 387h2M876 389h2M880 389h4M888 389h2M892 389h14M910 389h2M918 389h18M938 389h4M944 389h18M964 389h10M978 389h2M986 389h4M994 389h2M998 389h2M1014 389h4M1020 389h4M1034 389h8M1050 389h6M1070 389h2M1074 389h2M1080 389h2M1084 389h2M1096 389h2M1102 389h2M1106 389h8M1146 389h2M1174 389h6M874 391h2M880 391h2M888 391h2M896 391h4M904 391h2M908 391h2M928 391h2M932 391h2M942 391h4M948 391h12M962 391h12M980 391h2M990 391h2M996 391h10M1010 391h2M1020 391h2M1030 391h6M1046 391h8M1060 391h2M1070 391h8M1080 391h8M1092 391h2M1096 391h2M1102 391h14M1138 391h2M1168 391h2M1172 391h4M1184 391h2M876 393h4M884 393h2M890 393h2M896 393h2M904 393h6M922 393h8M932 393h8M944 393h2M950 393h2M956 393h8M966 393h8M978 393h6M990 393h2M998 393h6M1006 393h2M1010 393h4M1016 393h2M1022 393h2M1030 393h2M1034 393h2M1048 393h2M1078 393h2M1084 393h4M1090 393h4M1096 393h6M1108 393h6M1138 393h2M1146 393h2M1158 393h4M1174 393h2M1178 393h2M1204 393h2M876 395h4M884 395h8M900 395h16M920 395h2M928 395h6M938 395h18M958 395h6M966 395h2M972 395h2M978 395h4M1000 395h4M1008 395h2M1012 395h2M1030 395h2M1034 395h6M1042 395h2M1068 395h4M1074 395h2M1078 395h2M1084 395h4M1090 395h4M1098 395h2M1106 395h10M1126 395h4M1158 395h4M1170 395h8M1184 395h4M1202 395h4M876 397h10M890 397h2M904 397h4M914 397h6M926 397h8M938 397h2M944 397h4M958 397h8M972 397h10M986 397h2M996 397h6M1004 397h2M1008 397h2M1012 397h4M1018 397h2M1024 397h2M1028 397h2M1038 397h4M1066 397h2M1070 397h2M1076 397h8M1090 397h2M1094 397h8M1104 397h4M1110 397h8M1120 397h2M1126 397h2M1172 397h6M1198 397h6M878 399h4M890 399h2M902 399h4M910 399h2M918 399h4M928 399h2M932 399h4M938 399h2M942 399h2M950 399h2M962 399h16M980 399h2M996 399h4M1006 399h10M1022 399h2M1032 399h2M1038 399h2M1048 399h2M1052 399h4M1060 399h24M1086 399h2M1094 399h2M1098 399h4M1112 399h10M1138 399h2M1168 399h6M874 401h8M888 401h4M910 401h4M916 401h6M932 401h4M938 401h4M944 401h2M950 401h4M956 401h2M962 401h6M970 401h14M994 401h4M1000 401h2M1006 401h2M1022 401h2M1032 401h2M1036 401h12M1054 401h8M1066 401h2M1072 401h2M1078 401h2M1094 401h4M1102 401h2M1106 401h2M1116 401h8M1166 401h8M872 403h4M878 403h6M886 403h2M894 403h4M908 403h10M932 403h2M938 403h4M950 403h4M956 403h2M960 403h2M964 403h2M968 403h2M972 403h10M1002 403h2M1008 403h4M1014 403h4M1022 403h2M1028 403h6M1036 403h2M1040 403h4M1050 403h6M1060 403h2M1068 403h12M1086 403h4M1096 403h12M1112 403h2M1116 403h8M1160 403h2M1164 403h6M878 405h6M892 405h2M906 405h2M910 405h4M916 405h4M922 405h2M936 405h4M948 405h2M960 405h4M966 405h16M988 405h2M994 405h4M1010 405h8M1032 405h2M1040 405h6M1048 405h4M1054 405h2M1060 405h6M1072 405h6M1094 405h6M1106 405h2M1110 405h2M1116 405h8M1128 405h6M1166 405h2M1178 405h2M1188 405h4M890 407h6M898 407h6M922 407h6M930 407h4M940 407h2M946 407h2M966 407h6M976 407h4M982 407h8M994 407h2M1006 407h2M1010 407h2M1016 407h2M1028 407h10M1040 407h2M1046 407h8M1064 407h4M1086 407h2M1094 407h4M1116 407h4M1124 407h2M1128 407h4M1158 407h4M1174 407h2M1178 407h2M1190 407h2M878 409h6M890 409h2M900 409h6M908 409h8M924 409h4M930 409h2M940 409h2M956 409h2M966 409h6M976 409h12M994 409h4M1002 409h2M1008 409h4M1016 409h4M1028 409h10M1040 409h2M1044 409h10M1056 409h2M1066 409h4M1076 409h4M1084 409h6M1100 409h4M1124 409h4M1130 409h2M1134 409h2M1144 409h4M1160 409h2M1184 409h2M878 411h6M890 411h2M898 411h2M904 411h12M922 411h2M926 411h2M936 411h2M940 411h4M948 411h2M952 411h4M966 411h4M980 411h6M994 411h2M1010 411h2M1014 411h6M1024 411h4M1030 411h4M1040 411h2M1044 411h12M1062 411h12M1076 411h4M1086 411h6M1100 411h8M1110 411h2M1114 411h2M1132 411h4M1138 411h2M1142 411h4M1150 411h4M1160 411h4M1184 411h2M880 413h4M890 413h2M898 413h2M902 413h2M906 413h6M926 413h2M934 413h4M940 413h2M946 413h12M966 413h4M974 413h4M980 413h6M988 413h2M994 413h2M1004 413h2M1012 413h2M1020 413h6M1030 413h2M1036 413h2M1040 413h12M1056 413h2M1060 413h10M1078 413h8M1088 413h2M1092 413h12M1106 413h2M1114 413h8M1124 413h4M1136 413h10M878 415h2M888 415h4M894 415h2M898 415h2M902 415h10M916 415h2M932 415h6M944 415h4M950 415h8M966 415h2M970 415h4M980 415h6M988 415h2M1002 415h2M1010 415h6M1018 415h10M1030 415h4M1036 415h2M1040 415h14M1064 415h6M1074 415h16M1092 415h8M1102 415h2M1110 415h2M1116 415h8M1128 415h4M1138 415h4M1148 415h4M1154 415h4M1170 415h2M878 417h2M888 417h2M894 417h2M898 417h2M916 417h2M920 417h4M936 417h4M942 417h2M948 417h8M966 417h2M970 417h4M980 417h6M994 417h2M1002 417h2M1010 417h12M1024 417h2M1030 417h2M1034 417h4M1040 417h16M1058 417h2M1068 417h2M1074 417h10M1086 417h4M1092 417h4M1098 417h2M1110 417h2M1116 417h6M1124 417h4M1136 417h2M1148 417h4M1156 417h2M890 419h4M896 419h2M900 419h4M906 419h4M912 419h2M916 419h2M922 419h4M938 419h6M950 419h6M958 419h2M962 419h4M968 419h4M988 419h4M994 419h6M1002 419h20M1028 419h32M1062 419h2M1068 419h2M1072 419h16M1100 419h2M1108 419h2M1116 419h6M1124 419h4M1132 419h6M1142 419h4M1154 419h4M888 421h6M896 421h6M906 421h2M916 421h10M928 421h6M938 421h12M952 421h2M956 421h4M966 421h12M1002 421h4M1008 421h8M1018 421h4M1024 421h2M1030 421h14M1046 421h8M1056 421h14M1074 421h10M1108 421h4M1114 421h10M1126 421h2M1132 421h4M1142 421h4M1156 421h2M896 423h4M910 423h2M920 423h6M930 423h2M940 423h2M944 423h4M950 423h6M958 423h4M964 423h4M978 423h20M1002 423h2M1018 423h2M1036 423h4M1044 423h4M1050 423h4M1056 423h8M1066 423h4M1074 423h2M1078 423h6M1088 423h8M1102 423h2M1110 423h6M1118 423h4M1126 423h2M1160 423h2M896 425h4M906 425h2M924 425h2M930 425h2M936 425h2M946 425h8M956 425h4M968 425h2M978 425h10M992 425h6M1002 425h4M1012 425h2M1032 425h2M1038 425h10M1050 425h4M1056 425h2M1060 425h6M1068 425h2M1074 425h2M1082 425h4M1092 425h6M1104 425h2M1112 425h10M1138 425h2M1148 425h2M898 427h2M926 427h12M946 427h2M950 427h6M958 427h8M974 427h2M978 427h10M990 427h4M998 427h2M1004 427h4M1010 427h6M1026 427h2M1030 427h4M1036 427h6M1046 427h6M1054 427h4M1060 427h6M1084 427h2M1108 427h10M1120 427h2M1138 427h4M1156 427h4M888 429h2M898 429h2M902 429h2M916 429h4M928 429h10M944 429h6M952 429h16M972 429h2M976 429h10M988 429h6M998 429h4M1006 429h10M1024 429h8M1036 429h14M1052 429h14M1070 429h4M1076 429h6M1090 429h2M1094 429h4M1100 429h4M1108 429h4M1116 429h2M1120 429h6M1144 429h2M1152 429h2M1158 429h2M898 431h16M916 431h22M946 431h8M958 431h6M966 431h4M972 431h8M982 431h8M1000 431h2M1006 431h2M1010 431h8M1026 431h4M1032 431h2M1038 431h10M1060 431h10M1072 431h20M1096 431h2M1104 431h10M1116 431h2M1136 431h2M1140 431h2M894 433h2M898 433h22M924 433h2M928 433h4M934 433h4M942 433h8M952 433h2M958 433h2M962 433h4M972 433h4M978 433h10M1000 433h2M1012 433h8M1024 433h4M1042 433h6M1060 433h6M1070 433h6M1080 433h12M1100 433h2M1104 433h4M1110 433h2M1116 433h4M1128 433h2M1142 433h2M1148 433h6M1158 433h2M902 435h4M908 435h4M918 435h6M928 435h8M938 435h2M942 435h4M952 435h2M962 435h6M970 435h4M976 435h10M996 435h6M1016 435h6M1026 435h4M1038 435h6M1052 435h2M1060 435h6M1068 435h4M1076 435h10M1090 435h2M1102 435h4M1110 435h6M1142 435h2M1148 435h2M1156 435h2M898 437h4M908 437h4M920 437h10M932 437h4M938 437h8M960 437h4M966 437h16M984 437h4M1006 437h2M1010 437h14M1026 437h4M1032 437h4M1038 437h4M1044 437h4M1056 437h2M1064 437h6M1072 437h10M1084 437h4M1094 437h2M1098 437h8M1118 437h2M1126 437h2M1142 437h2M1152 437h2M1166 437h2M906 439h6M918 439h2M926 439h2M932 439h4M938 439h6M948 439h10M960 439h2M964 439h2M968 439h8M978 439h2M984 439h6M1000 439h2M1012 439h18M1032 439h8M1042 439h6M1050 439h2M1054 439h6M1062 439h4M1068 439h2M1072 439h6M1080 439h2M1084 439h4M1094 439h2M1126 439h2M1152 439h2M904 441h4M918 441h2M926 441h2M930 441h2M938 441h8M948 441h2M954 441h8M966 441h20M998 441h4M1016 441h6M1024 441h16M1044 441h14M1060 441h10M1072 441h4M1080 441h2M1084 441h8M1094 441h2M1112 441h2M1118 441h2M1142 441h4M1152 441h2M904 443h2M916 443h2M930 443h2M936 443h4M942 443h4M954 443h6M964 443h12M978 443h4M984 443h6M1012 443h2M1016 443h6M1026 443h10M1044 443h2M1048 443h6M1056 443h2M1062 443h2M1066 443h2M1070 443h2M1076 443h2M1086 443h2M1090 443h8M1130 443h2M1152 443h2M1162 443h2M922 445h6M930 445h2M942 445h4M954 445h8M970 445h6M978 445h12M1006 445h6M1016 445h2M1034 445h4M1040 445h2M1044 445h6M1062 445h2M1072 445h6M1082 445h2M1086 445h2M1090 445h2M1094 445h2M1102 445h4M1130 445h2M1136 445h4M1152 445h4M910 447h4M924 447h4M930 447h2M936 447h2M942 447h4M950 447h6M960 447h4M972 447h4M980 447h10M1016 447h2M1032 447h2M1036 447h10M1060 447h2M1064 447h4M1070 447h6M1078 447h14M1102 447h4M1130 447h2M1144 447h2M910 449h6M924 449h6M936 449h10M948 449h6M962 449h2M968 449h10M982 449h10M1008 449h6M1036 449h4M1044 449h2M1064 449h12M1078 449h12M1092 449h2M1106 449h4M1114 449h2M1122 449h4M1130 449h2M914 451h2M920 451h10M936 451h8M952 451h4M960 451h6M968 451h16M986 451h4M992 451h8M1004 451h4M1032 451h10M1052 451h4M1058 451h12M1074 451h4M1090 451h6M1098 451h8M1122 451h4M1136 451h2M1144 451h2M920 453h6M930 453h2M938 453h6M952 453h4M958 453h2M962 453h2M968 453h2M972 453h12M988 453h6M1038 453h2M1056 453h2M1062 453h6M1072 453h2M1076 453h2M1084 453h2M1090 453h6M1118 453h6M1132 453h4M1140 453h2M1144 453h2M920 455h2M924 455h4M930 455h2M940 455h8M952 455h4M964 455h4M972 455h12M988 455h2M998 455h2M1004 455h2M1016 455h4M1040 455h2M1046 455h2M1052 455h12M1070 455h4M1078 455h8M1088 455h10M1100 455h2M1104 455h4M1110 455h6M1118 455h4M1128 455h8M1138 455h2M918 457h8M928 457h10M940 457h2M944 457h2M954 457h2M980 457h8M990 457h2M1004 457h2M1016 457h2M1040 457h4M1050 457h4M1056 457h8M1072 457h6M1090 457h4M1096 457h12M1112 457h4M1124 457h6M1134 457h4M920 459h2M934 459h2M940 459h6M952 459h6M976 459h2M990 459h2M996 459h2M1012 459h2M1018 459h2M1034 459h2M1042 459h4M1048 459h2M1052 459h2M1058 459h4M1072 459h6M1086 459h8M1106 459h6M930 461h6M942 461h4M950 461h4M956 461h2M962 461h2M986 461h4M994 461h8M1012 461h4M1018 461h2M1032 461h8M1042 461h4M1048 461h6M1056 461h6M1078 461h4M1086 461h4M1110 461h8M1122 461h6M932 463h4M938 463h6M946 463h2M952 463h2M956 463h2M970 463h2M974 463h2M982 463h8M996 463h10M1014 463h2M1020 463h8M1032 463h12M1048 463h4M1056 463h2M1064 463h4M1078 463h2M1082 463h10M1096 463h2M1112 463h2M1122 463h2M940 465h2M948 465h4M954 465h6M970 465h6M982 465h2M986 465h4M992 465h2M996 465h8M1006 465h4M1020 465h12M1038 465h10M1050 465h4M1062 465h10M1080 465h2M1088 465h10M1104 465h2M1112 465h2M1122 465h2M936 467h2M946 467h2M950 467h4M956 467h4M968 467h2M972 467h2M986 467h4M994 467h2M998 467h14M1018 467h12M1034 467h2M1044 467h2M1048 467h2M1052 467h8M1066 467h2M1086 467h2M1096 467h6M1122 467h2M946 469h6M954 469h6M964 469h2M978 469h6M986 469h4M996 469h4M1002 469h2M1006 469h10M1018 469h2M1022 469h12M1038 469h2M1050 469h6M1060 469h6M1074 469h2M1084 469h4M1094 469h2M1110 469h2M1116 469h2M1122 469h2M944 471h2M956 471h4M964 471h2M978 471h4M984 471h2M990 471h2M996 471h4M1002 471h2M1006 471h2M1012 471h22M1036 471h8M1046 471h2M1050 471h2M1054 471h4M1072 471h4M1080 471h4M1086 471h4M1094 471h4M1110 471h2M1116 471h2M1122 471h4M944 473h2M948 473h2M952 473h2M962 473h4M980 473h6M990 473h2M1000 473h12M1014 473h2M1018 473h8M1030 473h2M1034 473h10M1048 473h4M1062 473h2M1068 473h4M1078 473h8M1094 473h4M1104 473h2M1112 473h6M942 475h2M956 475h2M962 475h10M974 475h4M982 475h6M990 475h2M994 475h2M1000 475h2M1006 475h6M1014 475h2M1022 475h4M1030 475h2M1036 475h8M1046 475h2M1054 475h4M1062 475h2M1068 475h4M1080 475h6M1092 475h2M1106 475h2M964 477h4M974 477h2M978 477h2M982 477h2M988 477h4M998 477h2M1002 477h2M1006 477h10M1024 477h2M1030 477h4M1044 477h6M1054 477h2M1058 477h2M1074 477h2M1082 477h4M1090 477h4M958 479h6M968 479h2M976 479h2M982 479h2M988 479h2M992 479h2M996 479h4M1010 479h4M1018 479h2M1022 479h4M1036 479h6M1044 479h8M1058 479h2M1082 479h4M1090 479h4M1100 479h2M958 481h4M978 481h2M984 481h2M988 481h2M994 481h4M1006 481h2M1012 481h2M1018 481h8M1032 481h10M1048 481h2M1066 481h2M1084 481h2M1090 481h6M1100 481h2M1118 481h2M976 483h4M984 483h2M990 483h10M1006 483h4M1014 483h2M1018 483h6M1026 483h2M1032 483h2M1036 483h2M1042 483h4M1048 483h2M1056 483h2M1062 483h2M1068 483h8M1082 483h4M1090 483h2M1114 483h2M1118 483h2M982 485h2M1004 485h10M1024 485h4M1032 485h4M1040 485h2M1046 485h4M1066 485h4M1074 485h2M1114 485h6M1002 487h4M1012 487h10M1024 487h8M1040 487h4M1046 487h2M1064 487h6M1072 487h2M1004 489h2M1024 489h2M1028 489h2M1040 489h4M1050 489h4M1056 489h4M1100 489h2M1110 489h6M1118 489h2M1004 491h2M1018 491h4M1026 491h2M1030 491h2M1034 491h4M1076 491h2M1102 491h8M1112 491h4M1024 493h2M1030 493h4M1036 493h4M1024 495h2M1094 495h2M1022 499h2" stroke="#ebf47a" stroke-width="2" fill="none"/>
<path fill="#060606" stroke="#060606" stroke-width="1" stroke-linejoin="round" d="M993.9 238.6L992.4 242.4L989.3 243.5L985.5 242.6L983.7 240.8L983.7 237.6L984.7 234.2L988 234.9L990.4 235.8ZM1021.2 245.6L1018.2 249.5L1017.1 255.6L1013.8 253.7L1010.9 249.2L1010.6 243.6L1013 238.8L1017.1 238.5L1017.7 241.9ZM1042.5 206.1L1042.9 208.1L1039.4 209.7L1036.7 208L1034.5 207.3L1034.5 204.5L1036.1 202.1L1040 200.7L1042 203.4ZM1055.4 230.5L1055.3 232.8L1054.3 234.4L1051.3 233.8L1050.7 231.9L1050.3 230.4L1051.3 228.4L1053.5 227.1L1055.1 229.6ZM1076.8 257.3L1077.7 262.3L1074.1 263.4L1070.2 260.8L1066.7 258.7L1066.3 256.4L1068.6 253.4L1072.9 252.5L1076.2 254.7ZM1101.3 272.3L1102.2 276.2L1098.4 280.1L1092.9 279L1092 273.7L1091.7 272.3L1093 267.6L1098.2 267.7L1100.5 271ZM1118.4 273.5L1117 275.3L1114.9 278L1112.1 276.4L1110.1 275.5L1112 272L1113 269.2L1115.5 269.7L1118 269.6ZM1014.3 195.5L1014.7 197.7L1012.3 198.5L1010.7 198L1009.8 196.6L1009.8 194.8L1010.6 192.4L1012.5 193.4L1014.1 193.5ZM1033.9 185L1032.1 187.8L1030.2 188.1L1028.8 188.4L1026.8 186.4L1026.8 185.1L1028.8 182.3L1031.3 181.9L1031.8 183.7ZM963.8 208.1L962.9 210.3L959.9 211.1L957.7 211.3L957.2 208.6L957.6 206.8L957.7 204.7L960.6 205.5L962.1 205.7ZM976.4 200.1L975.6 201.8L974 202.2L972.9 201.7L971.7 200.6L972.2 198.9L972.2 197.8L974.1 197.6L975.7 197.7ZM1089.4 213.7L1088.9 216.1L1087.8 217.6L1085.5 216.3L1083.3 214.5L1084.5 212.8L1085.5 210.9L1087.6 211.2L1089.8 211.9ZM1140.9 202.5L1140.3 205.5L1137.6 206.2L1136.4 205.6L1135.4 203.2L1134.1 201.4L1136.2 199L1137.6 199.4L1140.4 200.9ZM1108.6 227.8L1108.9 230.8L1106.8 230.8L1104.3 230.9L1103.4 228.8L1104 227.3L1105 225.7L1106.9 225.7L1108.8 226.4ZM982 253.1L981.8 255.2L979.6 255.7L978.4 255.8L976.4 255L977.4 253L977.8 250.3L980.4 250.4L982.2 250.8ZM1003 259.4L1002.9 262.2L999.2 263.8L998.1 262.1L996.5 260.1L996.8 257.8L997.9 255.3L1000.1 255.5L1002.8 257ZM1077.5 305L1076.2 307.7L1073.3 307.6L1070.3 307.3L1068.8 305.9L1070 303.2L1071.3 300.7L1074.1 300.6L1075.6 302.6ZM1112.4 301.1L1111.8 304L1109.6 303.7L1108.3 303.3L1105.7 302.9L1106 300.4L1108.2 299.3L1109.9 299.2L1111.5 299.1ZM1000.4 297.9L999.1 300.5L996.5 300.8L995.1 300.1L993.3 299.5L994.1 297.1L995.4 295.4L996.9 296.1L998.4 296.5ZM959.8 309.6L958.9 311.8L957.3 311.9L955.7 313L954.4 310.3L954.5 309.4L955.5 307.5L957.5 307.2L959.9 307.7Z"/>
<path d="M1015 254.5L1030 250L1045 249L1063 251.5L1075 262L1080 277L1076 288L1063 299L1049.5 306L1030 306L1019.5 299L1015.5 286L1014 272.5Z" fill="#ebf47a"/>
<path d="M1017 259L1027 255L1033 262L1030 270L1024 275L1018 270Z" fill="#0a0a0a"/>
<path d="M1028.5 278.5L1032.2 271L1039.7 267.2L1045 263.5L1051.7 260.5L1058.5 259L1061 263.5L1059 271L1063.5 280L1062 289L1057 295.5L1049.5 298.5L1042 300L1034.5 298.5L1029.5 293.5L1027.5 286Z" fill="#070707"/>
<path d="M1034 290L1040 280L1046 276M1048 285L1054 278L1056 270M1036 274L1042 272" stroke="#777" stroke-width="1.2" fill="none" opacity="0.7"/>
<path d="M1045.6 246V300M1040 281.4H1082" stroke="#777" stroke-width="0.8" opacity="0.6" fill="none"/>
</g>
<circle cx="1045.6" cy="281.4" r="251.3" fill="none" stroke="#333" stroke-width="1.2"/>
<path d="M1045.6 26V30.2M1045.6 532.5V536.5M790 281.4H794.3M1296.9 281.4H1301" stroke="#999" stroke-width="1"/>
<rect x="311.6" y="136.6" width="236" height="84.2" rx="4" ry="4" fill="#fff" fill-opacity="0.8" stroke="#d0d0d0" stroke-width="1.1"/>
<circle cx="338" cy="152.4" r="3.3" fill="#d3d3d3"/><circle cx="338" cy="178.9" r="3.3" fill="#5087b6"/><circle cx="338" cy="205.3" r="3.3" fill="#fd1f10"/>
<text x="370.5" y="157" font-size="18" textLength="97.6" lengthAdjust="spacing" fill="#000" >Mare basalt</text>
<text x="371.1" y="183.4" font-size="18" textLength="168.9" lengthAdjust="spacing" fill="#000" >South polar samples</text>
<text x="371.1" y="209.2" font-size="18" textLength="138.9" lengthAdjust="spacing" fill="#000" >Overlap samples</text>
<text x="6.8" y="27.1" font-size="34" font-weight="bold" textLength="41.6" lengthAdjust="spacing" fill="#000" >(a)</text>
<text x="698.3" y="27.2" font-size="34" font-weight="bold" textLength="42.3" lengthAdjust="spacing" fill="#000" >(b)</text>
<text x="1038" y="21.3" font-size="29" textLength="29" lengthAdjust="spacing" fill="#000" >0°</text>
<text x="734.2" y="288" font-size="29" textLength="56.3" lengthAdjust="spacing" fill="#000" >-90°</text>
<text x="1304.8" y="287.6" font-size="29" textLength="45.1" lengthAdjust="spacing" fill="#000" >90°</text>
<text x="1013.5" y="565.3" font-size="29" textLength="71.6" lengthAdjust="spacing" fill="#000" >-180°</text>
<text transform="translate(17.6 372.6) rotate(-90)" x="0" y="0" font-size="18" textLength="78.6" lengthAdjust="spacing">Mg# (×10</text>
<text transform="translate(10.9 292.3) rotate(-90)" x="0" y="0" font-size="12.6" textLength="17.7" lengthAdjust="spacing">−2</text>
<text transform="translate(17.6 272.6) rotate(-90)" x="0" y="0" font-size="18" textLength="5.6" lengthAdjust="spacing">)</text>
</svg>
</body></html>
